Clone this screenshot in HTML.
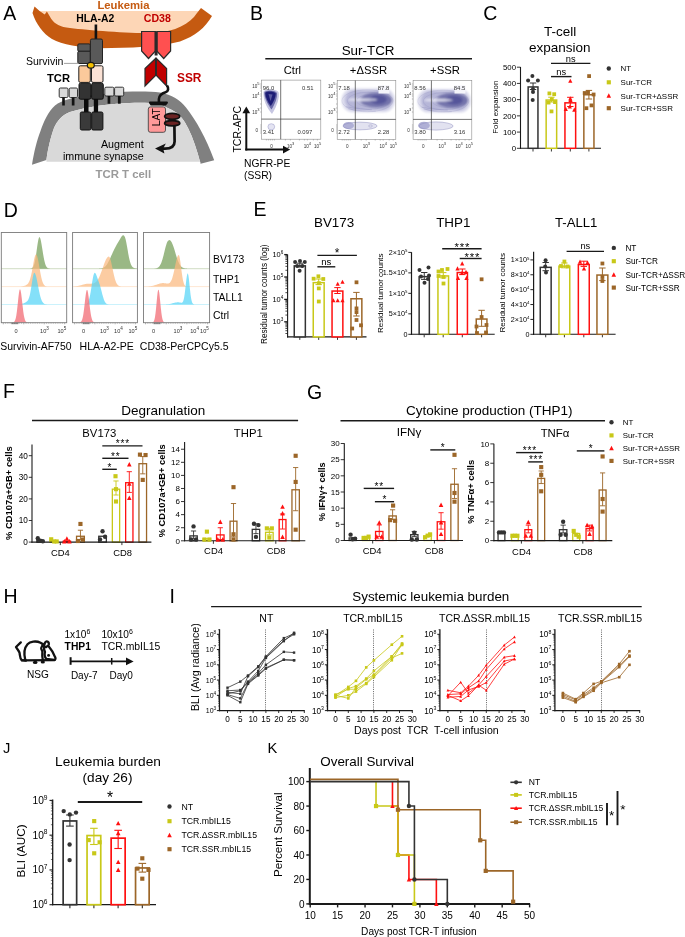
<!DOCTYPE html>
<html><head><meta charset="utf-8"><style>
html,body{margin:0;padding:0;background:#fff;overflow:hidden;width:685px;height:937px;}
svg{display:block;will-change:transform;}
text{font-family:"Liberation Sans", sans-serif;}
</style></head><body>
<svg width="685" height="937" viewBox="0 0 685 937" font-family='"Liberation Sans", sans-serif'>
<rect width="685" height="937" fill="#ffffff"/>
<text x="3.30" y="19.60" font-size="19.5">A</text>
<path d="M 40 11 L 199 11 L 192 30 L 150 37 L 70 33 L 45 21 Z" fill="#fdd6b6"/>
<path d="M 34.5 6.6 L 39.6 11 L 44.7 14.6 L 46.9 11.4 L 51.3 19 C 55 24 60 27 70 28 C 90 30.5 130 33.5 155 33.2 C 175 31.5 190 24 197 13 L 201 8 L 212 16 C 205 28 195 36 180 41.5 C 160 46.5 130 48.2 100 48.2 C 80 47.6 62 44.5 52 39 C 43 33.5 36 24 32.5 13 Z" fill="#c55a11"/>
<text x="97.40" y="8.60" font-size="11.3" font-weight="bold" fill="#c55a11">Leukemia</text>
<path d="M 32 164.8 C 34 152 37 140 40.5 131 C 44 121 48 112 55 105.5 C 62 100 72 97.5 90 95.5 C 105 94 115 92 125 91.7 C 140 91.2 152 91.4 160 92.5 C 172 94.5 180 100 186 107.5 C 196 120 206 138 214.2 160.2 L 200.6 163.8 C 197 150 193 138 188 128 C 184 120 180 115 176 112.5 C 170 108.5 162 104.5 150 103 C 135 102 115 103.5 100 105.5 C 88 107.2 78 109.5 70 112 C 62 115 57 121 54 128 C 51 136 48 148 46.4 160 Z" fill="#808080"/>
<path d="M 46.4 160 C 48 148 51 136 54 128 C 57 121 62 115 70 112 C 78 109.5 88 107.2 100 105.5 C 115 103.5 135 102 150 103 C 162 104.5 170 108.5 176 112.5 C 180 115 184 120 188 128 C 193 138 197 150 200.6 163.8 L 200.6 161.8 L 46.4 161.8 Z" fill="#d9d9d9"/>
<text x="95.50" y="178.20" font-size="11.4" font-weight="bold" fill="#9a9a9a">TCR T cell</text>
<text x="143.70" y="147.60" font-size="10.7" text-anchor="end">Augment</text>
<text x="143.70" y="160.20" font-size="10.7" text-anchor="end">immune synapse</text>
<text x="76.20" y="21.90" font-size="10.4" font-weight="bold">HLA-A2</text>
<rect x="94.60" y="24.50" width="2.60" height="15.00" fill="#111"/>
<rect x="90.40" y="39.00" width="12.10" height="24.60" fill="#595959" stroke="#222" stroke-width="1" rx="1.5"/>
<rect x="77.80" y="43.90" width="12.40" height="7.40" fill="#595959" stroke="#222" stroke-width="1" rx="1.2"/>
<rect x="77.80" y="51.30" width="12.40" height="12.20" fill="#595959" stroke="#222" stroke-width="1" rx="1.2"/>
<text x="26.00" y="65.30" font-size="10.5">Survivin</text>
<line x1="64.00" y1="63.40" x2="79.00" y2="63.40" stroke="#888" stroke-width="0.8"/>
<rect x="78.80" y="65.80" width="11.50" height="16.60" fill="#fbc99b" stroke="#222" stroke-width="1" rx="1.5"/>
<rect x="91.50" y="65.80" width="11.50" height="16.60" fill="#fbe2d5" stroke="#222" stroke-width="1" rx="1.5"/>
<ellipse cx="90.8" cy="65.3" rx="3.5" ry="2.9" fill="#f5c000" stroke="#1a1a1a" stroke-width="1.2"/>
<text x="47.00" y="81.60" font-size="11.2" font-weight="bold">TCR</text>
<rect x="79.00" y="83.20" width="11.70" height="16.00" fill="#333" stroke="#111" stroke-width="1" rx="1.5"/>
<rect x="91.60" y="83.20" width="11.70" height="16.00" fill="#333" stroke="#111" stroke-width="1" rx="1.5"/>
<rect x="84.00" y="99.00" width="4.50" height="13.50" fill="#0a0a0a"/>
<rect x="93.80" y="99.00" width="4.30" height="13.50" fill="#0a0a0a"/>
<rect x="80.30" y="112.00" width="10.60" height="18.00" fill="#3a3a3a" stroke="#111" stroke-width="1" rx="1.5"/>
<rect x="91.70" y="112.00" width="11.20" height="18.00" fill="#3a3a3a" stroke="#111" stroke-width="1" rx="1.5"/>
<rect x="59.20" y="88.00" width="8.80" height="9.50" fill="#d9d9d9" stroke="#222" stroke-width="0.9" rx="1.2"/>
<rect x="62.20" y="97.50" width="2.60" height="8.00" fill="#111"/>
<rect x="69.20" y="88.00" width="8.30" height="9.50" fill="#d9d9d9" stroke="#222" stroke-width="0.9" rx="1.2"/>
<rect x="71.80" y="97.50" width="2.70" height="8.00" fill="#111"/>
<rect x="104.80" y="87.20" width="9.10" height="8.80" fill="#d9d9d9" stroke="#222" stroke-width="0.9" rx="1.2"/>
<rect x="107.60" y="96.00" width="2.70" height="7.70" fill="#111"/>
<rect x="114.60" y="87.20" width="9.10" height="8.80" fill="#d9d9d9" stroke="#222" stroke-width="0.9" rx="1.2"/>
<rect x="117.90" y="96.00" width="2.80" height="7.70" fill="#111"/>
<text x="143.80" y="21.90" font-size="10.6" font-weight="bold" fill="#c00000">CD38</text>
<path d="M 141.6 31.5 L 155.4 31.5 L 155.4 51 L 148.5 58.5 L 141.6 51 Z" fill="#ff5050" stroke="#2a2a2a" stroke-width="1.2"/>
<path d="M 156.8 31.5 L 170.6 31.5 L 170.6 51 L 163.7 58.5 L 156.8 51 Z" fill="#ff5050" stroke="#2a2a2a" stroke-width="1.2"/>
<rect x="154.60" y="31.50" width="3.00" height="24.00" fill="#2a2a2a"/>
<path d="M 145 86 L 145 68.5 L 155.6 58.5 L 155.6 75.5 Z" fill="#c00000" stroke="#2a2a2a" stroke-width="1.2"/>
<path d="M 166.6 86 L 166.6 68.5 L 156.4 58.5 L 156.4 75.5 Z" fill="#c00000" stroke="#2a2a2a" stroke-width="1.2"/>
<text x="177.00" y="82.20" font-size="11.9" font-weight="bold" fill="#c00000">SSR</text>
<path d="M 167.0 85.5 C 168.8 88 168.6 91.2 165.5 92.3 C 161.5 93.5 159.2 95.5 158.9 99 L 158.9 102.5" fill="none" stroke="#111" stroke-width="2.6"/>
<rect x="148.30" y="106.90" width="17.20" height="25.40" fill="#ff9999" stroke="#444" stroke-width="0.9" rx="2.2"/>
<path d="M 149.6 101.4 L 167.2 101.4 C 168.2 101.6 168.2 103.6 167.2 103.8 L 166 105.4 L 150.6 105.4 L 149.6 103.8 C 148.8 103.4 148.8 101.8 149.6 101.4 Z" fill="#111"/>
<text x="159.60" y="117.20" font-size="10.3" text-anchor="middle" transform="rotate(-90 159.60 117.20)">LAT</text>
<ellipse cx="172.2" cy="123.2" rx="7.6" ry="2.6" fill="#6b2323" stroke="#111" stroke-width="1.7"/>
<ellipse cx="172.2" cy="116.3" rx="7.6" ry="3.0" fill="#6b2323" stroke="#111" stroke-width="1.7"/>
<path d="M 174.4 126 L 174.6 141.5 C 174.6 146.5 171 148.6 165 148.6 L 161 148.6" fill="none" stroke="#111" stroke-width="2.7"/>
<path d="M 155.0 148.4 L 165.8 143.6 L 163.2 148.6 L 164.4 153.6 Z" fill="#111"/>
<defs>
<filter id="bl1" x="-20%" y="-30%" width="140%" height="160%"><feGaussianBlur stdDeviation="1.1"/></filter>
<filter id="bl2" x="-20%" y="-30%" width="140%" height="160%"><feGaussianBlur stdDeviation="0.6"/></filter>
</defs>
<text x="250.00" y="19.60" font-size="19.5">B</text>
<text x="368.10" y="54.60" font-size="13.4" text-anchor="middle">Sur-TCR</text>
<line x1="265.30" y1="58.70" x2="472.00" y2="58.70" stroke="#1a1a1a" stroke-width="1.4"/>
<text x="292.40" y="74.40" font-size="11.2" text-anchor="middle">Ctrl</text>
<text x="368.50" y="74.30" font-size="11.3" text-anchor="middle">+ΔSSR</text>
<text x="445.00" y="74.30" font-size="11.3" text-anchor="middle">+SSR</text>
<g filter="url(#bl2)">
<path d="M 263.5 92 C 264 88.5 275 88 278.5 92 C 280 97 277 106 272 114 C 266.5 108 263 99 263.5 92 Z" fill="#c6c6e2"/>
<path d="M 264.3 92.5 C 265 90 274 89.5 277 93 C 277.5 97.5 275 104 271.5 109.5 C 267.5 104 264.3 98 264.3 92.5 Z" fill="#6a6aa8"/>
<path d="M 265.2 93 C 266 91 273.5 90.8 275.8 93.5 C 275.8 97.5 273.5 102 270.8 106 C 267.5 101.5 265.2 97 265.2 93 Z" fill="#1f1f76"/>
<path d="M 268.5 94 L 270.5 101 L 272.5 94.5 Z" fill="#5a5aa0"/>
<ellipse cx="271.3" cy="126.8" rx="3.4" ry="3.1" fill="#e4e4f2"/>
</g>
<ellipse cx="271.3" cy="126.8" rx="3.4" ry="3.1" fill="none" stroke="#8080b8" stroke-width="0.4"/>
<text x="259.60" y="87.90" font-size="4.6" text-anchor="end" fill="#333">10<tspan font-size="4.00" dy="-2.60">5</tspan></text>
<text x="259.60" y="98.00" font-size="4.6" text-anchor="end" fill="#333">10<tspan font-size="4.00" dy="-2.60">4</tspan></text>
<text x="259.60" y="113.90" font-size="4.6" text-anchor="end" fill="#333">10<tspan font-size="4.00" dy="-2.60">3</tspan></text>
<text x="258.10" y="132.20" font-size="4.6" text-anchor="end" fill="#333">0</text>
<text x="271.60" y="147.50" font-size="4.6" text-anchor="middle" fill="#333">0</text>
<text x="290.60" y="147.50" font-size="4.6" text-anchor="middle" fill="#333">10<tspan font-size="4.00" dy="-2.60">3</tspan></text>
<text x="307.40" y="147.50" font-size="4.6" text-anchor="middle" fill="#333">10<tspan font-size="4.00" dy="-2.60">4</tspan></text>
<text x="317.60" y="147.50" font-size="4.6" text-anchor="middle" fill="#333">10<tspan font-size="4.00" dy="-2.60">5</tspan></text>
<line x1="260.20" y1="84.00" x2="261.40" y2="84.00" stroke="#555" stroke-width="0.4"/>
<line x1="260.20" y1="86.00" x2="261.40" y2="86.00" stroke="#555" stroke-width="0.4"/>
<line x1="260.20" y1="88.00" x2="261.40" y2="88.00" stroke="#555" stroke-width="0.4"/>
<line x1="260.20" y1="91.00" x2="261.40" y2="91.00" stroke="#555" stroke-width="0.4"/>
<line x1="260.20" y1="94.00" x2="261.40" y2="94.00" stroke="#555" stroke-width="0.4"/>
<line x1="260.20" y1="96.00" x2="261.40" y2="96.00" stroke="#555" stroke-width="0.4"/>
<line x1="260.20" y1="99.00" x2="261.40" y2="99.00" stroke="#555" stroke-width="0.4"/>
<line x1="260.20" y1="104.00" x2="261.40" y2="104.00" stroke="#555" stroke-width="0.4"/>
<line x1="260.20" y1="108.00" x2="261.40" y2="108.00" stroke="#555" stroke-width="0.4"/>
<line x1="260.20" y1="112.00" x2="261.40" y2="112.00" stroke="#555" stroke-width="0.4"/>
<line x1="260.20" y1="125.00" x2="261.40" y2="125.00" stroke="#555" stroke-width="0.4"/>
<line x1="260.20" y1="127.00" x2="261.40" y2="127.00" stroke="#555" stroke-width="0.4"/>
<line x1="260.20" y1="129.00" x2="261.40" y2="129.00" stroke="#555" stroke-width="0.4"/>
<line x1="260.20" y1="131.00" x2="261.40" y2="131.00" stroke="#555" stroke-width="0.4"/>
<line x1="260.20" y1="133.00" x2="261.40" y2="133.00" stroke="#555" stroke-width="0.4"/>
<line x1="266.40" y1="139.20" x2="266.40" y2="140.40" stroke="#555" stroke-width="0.4"/>
<line x1="268.40" y1="139.20" x2="268.40" y2="140.40" stroke="#555" stroke-width="0.4"/>
<line x1="270.40" y1="139.20" x2="270.40" y2="140.40" stroke="#555" stroke-width="0.4"/>
<line x1="272.40" y1="139.20" x2="272.40" y2="140.40" stroke="#555" stroke-width="0.4"/>
<line x1="274.40" y1="139.20" x2="274.40" y2="140.40" stroke="#555" stroke-width="0.4"/>
<line x1="285.40" y1="139.20" x2="285.40" y2="140.40" stroke="#555" stroke-width="0.4"/>
<line x1="290.40" y1="139.20" x2="290.40" y2="140.40" stroke="#555" stroke-width="0.4"/>
<line x1="299.40" y1="139.20" x2="299.40" y2="140.40" stroke="#555" stroke-width="0.4"/>
<line x1="304.40" y1="139.20" x2="304.40" y2="140.40" stroke="#555" stroke-width="0.4"/>
<line x1="307.40" y1="139.20" x2="307.40" y2="140.40" stroke="#555" stroke-width="0.4"/>
<line x1="313.40" y1="139.20" x2="313.40" y2="140.40" stroke="#555" stroke-width="0.4"/>
<line x1="317.40" y1="139.20" x2="317.40" y2="140.40" stroke="#555" stroke-width="0.4"/>
<rect x="261.40" y="80.10" width="59.40" height="59.10" fill="none" stroke="#8a8a8a" stroke-width="0.6"/>
<line x1="280.70" y1="80.10" x2="280.70" y2="139.20" stroke="#3a3a3a" stroke-width="0.7"/>
<line x1="261.40" y1="119.10" x2="320.80" y2="119.10" stroke="#3a3a3a" stroke-width="0.7"/>
<text x="262.80" y="89.90" font-size="5.9" fill="#333">96.0</text>
<text x="313.50" y="89.90" font-size="5.9" text-anchor="end" fill="#333">0.51</text>
<text x="262.80" y="134.00" font-size="5.9" fill="#333">3.41</text>
<text x="312.20" y="134.00" font-size="5.9" text-anchor="end" fill="#333">0.097</text>
<g filter="url(#bl1)">
<rect x="341.8" y="88.6" width="53" height="23.6" rx="11" fill="#dadaec"/>
<rect x="345.3" y="90.6" width="46.5" height="19.4" rx="9" fill="#b6b6d8"/>
<ellipse cx="376.4" cy="100.0" rx="16" ry="7.6" fill="#7474ac"/>
<ellipse cx="378.4" cy="99.6" rx="8.5" ry="4.6" fill="#54549a"/>
<ellipse cx="362.4" cy="99.7" rx="15" ry="1.3" fill="#f2f2fa" opacity="0.85"/>
</g>
<ellipse cx="367.4" cy="100.8" rx="25.5" ry="11" fill="none" stroke="#7070aa" stroke-width="0.35" opacity="0.45"/>
<ellipse cx="368.4" cy="100.8" rx="21" ry="8.6" fill="none" stroke="#7070aa" stroke-width="0.35" opacity="0.45"/>
<ellipse cx="371.4" cy="100.8" rx="15" ry="6.2" fill="none" stroke="#7070aa" stroke-width="0.35" opacity="0.35"/>
<path d="M 345.8 106.7 C 353.8 108.7 363.8 109.2 371.8 109.7" fill="none" stroke="#7070aa" stroke-width="0.4" opacity="0.6"/>
<path d="M 347.8 108.7 C 355.8 110.7 365.8 111.2 375.8 111.2" fill="none" stroke="#7070aa" stroke-width="0.4" opacity="0.5"/>
<g filter="url(#bl2)">
<ellipse cx="360" cy="126" rx="17.5" ry="4.2" fill="#e2e2f0"/>
<ellipse cx="348.5" cy="125.5" rx="5.5" ry="3.6" fill="#b0b0d6"/>
</g>
<ellipse cx="360" cy="126" rx="17" ry="3.8" fill="none" stroke="#8080b8" stroke-width="0.35"/>
<ellipse cx="370.5" cy="126" rx="2" ry="1.1" fill="none" stroke="#8080b8" stroke-width="0.35"/>
<text x="335.40" y="87.90" font-size="4.6" text-anchor="end" fill="#333">10<tspan font-size="4.00" dy="-2.60">5</tspan></text>
<text x="335.40" y="98.00" font-size="4.6" text-anchor="end" fill="#333">10<tspan font-size="4.00" dy="-2.60">4</tspan></text>
<text x="335.40" y="113.90" font-size="4.6" text-anchor="end" fill="#333">10<tspan font-size="4.00" dy="-2.60">3</tspan></text>
<text x="333.90" y="132.20" font-size="4.6" text-anchor="end" fill="#333">0</text>
<text x="347.40" y="147.50" font-size="4.6" text-anchor="middle" fill="#333">0</text>
<text x="366.40" y="147.50" font-size="4.6" text-anchor="middle" fill="#333">10<tspan font-size="4.00" dy="-2.60">3</tspan></text>
<text x="383.20" y="147.50" font-size="4.6" text-anchor="middle" fill="#333">10<tspan font-size="4.00" dy="-2.60">4</tspan></text>
<text x="393.40" y="147.50" font-size="4.6" text-anchor="middle" fill="#333">10<tspan font-size="4.00" dy="-2.60">5</tspan></text>
<line x1="336.00" y1="84.00" x2="337.20" y2="84.00" stroke="#555" stroke-width="0.4"/>
<line x1="336.00" y1="86.00" x2="337.20" y2="86.00" stroke="#555" stroke-width="0.4"/>
<line x1="336.00" y1="88.00" x2="337.20" y2="88.00" stroke="#555" stroke-width="0.4"/>
<line x1="336.00" y1="91.00" x2="337.20" y2="91.00" stroke="#555" stroke-width="0.4"/>
<line x1="336.00" y1="94.00" x2="337.20" y2="94.00" stroke="#555" stroke-width="0.4"/>
<line x1="336.00" y1="96.00" x2="337.20" y2="96.00" stroke="#555" stroke-width="0.4"/>
<line x1="336.00" y1="99.00" x2="337.20" y2="99.00" stroke="#555" stroke-width="0.4"/>
<line x1="336.00" y1="104.00" x2="337.20" y2="104.00" stroke="#555" stroke-width="0.4"/>
<line x1="336.00" y1="108.00" x2="337.20" y2="108.00" stroke="#555" stroke-width="0.4"/>
<line x1="336.00" y1="112.00" x2="337.20" y2="112.00" stroke="#555" stroke-width="0.4"/>
<line x1="336.00" y1="125.00" x2="337.20" y2="125.00" stroke="#555" stroke-width="0.4"/>
<line x1="336.00" y1="127.00" x2="337.20" y2="127.00" stroke="#555" stroke-width="0.4"/>
<line x1="336.00" y1="129.00" x2="337.20" y2="129.00" stroke="#555" stroke-width="0.4"/>
<line x1="336.00" y1="131.00" x2="337.20" y2="131.00" stroke="#555" stroke-width="0.4"/>
<line x1="336.00" y1="133.00" x2="337.20" y2="133.00" stroke="#555" stroke-width="0.4"/>
<line x1="342.20" y1="139.30" x2="342.20" y2="140.50" stroke="#555" stroke-width="0.4"/>
<line x1="344.20" y1="139.30" x2="344.20" y2="140.50" stroke="#555" stroke-width="0.4"/>
<line x1="346.20" y1="139.30" x2="346.20" y2="140.50" stroke="#555" stroke-width="0.4"/>
<line x1="348.20" y1="139.30" x2="348.20" y2="140.50" stroke="#555" stroke-width="0.4"/>
<line x1="350.20" y1="139.30" x2="350.20" y2="140.50" stroke="#555" stroke-width="0.4"/>
<line x1="361.20" y1="139.30" x2="361.20" y2="140.50" stroke="#555" stroke-width="0.4"/>
<line x1="366.20" y1="139.30" x2="366.20" y2="140.50" stroke="#555" stroke-width="0.4"/>
<line x1="375.20" y1="139.30" x2="375.20" y2="140.50" stroke="#555" stroke-width="0.4"/>
<line x1="380.20" y1="139.30" x2="380.20" y2="140.50" stroke="#555" stroke-width="0.4"/>
<line x1="383.20" y1="139.30" x2="383.20" y2="140.50" stroke="#555" stroke-width="0.4"/>
<line x1="389.20" y1="139.30" x2="389.20" y2="140.50" stroke="#555" stroke-width="0.4"/>
<line x1="393.20" y1="139.30" x2="393.20" y2="140.50" stroke="#555" stroke-width="0.4"/>
<rect x="337.20" y="80.50" width="58.60" height="58.80" fill="none" stroke="#8a8a8a" stroke-width="0.6"/>
<line x1="355.30" y1="80.50" x2="355.30" y2="139.30" stroke="#3a3a3a" stroke-width="0.7"/>
<line x1="337.20" y1="119.40" x2="395.80" y2="119.40" stroke="#3a3a3a" stroke-width="0.7"/>
<rect x="378.50" y="85.50" width="11.00" height="8.00" fill="#f4f4fa"/>
<text x="338.30" y="89.70" font-size="5.9" fill="#333">7.18</text>
<text x="389.30" y="89.70" font-size="5.9" text-anchor="end" fill="#333">87.8</text>
<text x="338.30" y="133.60" font-size="5.9" fill="#333">2.72</text>
<text x="389.30" y="133.60" font-size="5.9" text-anchor="end" fill="#333">2.28</text>
<g filter="url(#bl1)">
<rect x="417.7" y="89.0" width="53" height="23.6" rx="11" fill="#dadaec"/>
<rect x="421.2" y="91.0" width="46.5" height="19.4" rx="9" fill="#b6b6d8"/>
<ellipse cx="452.3" cy="100.4" rx="16" ry="7.6" fill="#7474ac"/>
<ellipse cx="454.3" cy="100.0" rx="8.5" ry="4.6" fill="#54549a"/>
<ellipse cx="438.3" cy="100.1" rx="15" ry="1.3" fill="#f2f2fa" opacity="0.85"/>
</g>
<ellipse cx="443.3" cy="101.2" rx="25.5" ry="11" fill="none" stroke="#7070aa" stroke-width="0.35" opacity="0.45"/>
<ellipse cx="444.3" cy="101.2" rx="21" ry="8.6" fill="none" stroke="#7070aa" stroke-width="0.35" opacity="0.45"/>
<ellipse cx="447.3" cy="101.2" rx="15" ry="6.2" fill="none" stroke="#7070aa" stroke-width="0.35" opacity="0.35"/>
<path d="M 421.7 107.1 C 429.7 109.1 439.7 109.6 447.7 110.1" fill="none" stroke="#7070aa" stroke-width="0.4" opacity="0.6"/>
<path d="M 423.7 109.1 C 431.7 111.1 441.7 111.6 451.7 111.6" fill="none" stroke="#7070aa" stroke-width="0.4" opacity="0.5"/>
<g filter="url(#bl2)">
<ellipse cx="436" cy="126" rx="17.5" ry="4.4" fill="#e2e2f0"/>
<ellipse cx="424" cy="125.5" rx="5.8" ry="3.8" fill="#b0b0d6"/>
</g>
<ellipse cx="436" cy="126" rx="17" ry="4" fill="none" stroke="#8080b8" stroke-width="0.35"/>
<text x="411.30" y="87.90" font-size="4.6" text-anchor="end" fill="#333">10<tspan font-size="4.00" dy="-2.60">5</tspan></text>
<text x="411.30" y="98.00" font-size="4.6" text-anchor="end" fill="#333">10<tspan font-size="4.00" dy="-2.60">4</tspan></text>
<text x="411.30" y="113.90" font-size="4.6" text-anchor="end" fill="#333">10<tspan font-size="4.00" dy="-2.60">3</tspan></text>
<text x="409.80" y="132.20" font-size="4.6" text-anchor="end" fill="#333">0</text>
<text x="423.30" y="147.50" font-size="4.6" text-anchor="middle" fill="#333">0</text>
<text x="442.30" y="147.50" font-size="4.6" text-anchor="middle" fill="#333">10<tspan font-size="4.00" dy="-2.60">3</tspan></text>
<text x="459.10" y="147.50" font-size="4.6" text-anchor="middle" fill="#333">10<tspan font-size="4.00" dy="-2.60">4</tspan></text>
<text x="469.30" y="147.50" font-size="4.6" text-anchor="middle" fill="#333">10<tspan font-size="4.00" dy="-2.60">5</tspan></text>
<line x1="411.90" y1="84.00" x2="413.10" y2="84.00" stroke="#555" stroke-width="0.4"/>
<line x1="411.90" y1="86.00" x2="413.10" y2="86.00" stroke="#555" stroke-width="0.4"/>
<line x1="411.90" y1="88.00" x2="413.10" y2="88.00" stroke="#555" stroke-width="0.4"/>
<line x1="411.90" y1="91.00" x2="413.10" y2="91.00" stroke="#555" stroke-width="0.4"/>
<line x1="411.90" y1="94.00" x2="413.10" y2="94.00" stroke="#555" stroke-width="0.4"/>
<line x1="411.90" y1="96.00" x2="413.10" y2="96.00" stroke="#555" stroke-width="0.4"/>
<line x1="411.90" y1="99.00" x2="413.10" y2="99.00" stroke="#555" stroke-width="0.4"/>
<line x1="411.90" y1="104.00" x2="413.10" y2="104.00" stroke="#555" stroke-width="0.4"/>
<line x1="411.90" y1="108.00" x2="413.10" y2="108.00" stroke="#555" stroke-width="0.4"/>
<line x1="411.90" y1="112.00" x2="413.10" y2="112.00" stroke="#555" stroke-width="0.4"/>
<line x1="411.90" y1="125.00" x2="413.10" y2="125.00" stroke="#555" stroke-width="0.4"/>
<line x1="411.90" y1="127.00" x2="413.10" y2="127.00" stroke="#555" stroke-width="0.4"/>
<line x1="411.90" y1="129.00" x2="413.10" y2="129.00" stroke="#555" stroke-width="0.4"/>
<line x1="411.90" y1="131.00" x2="413.10" y2="131.00" stroke="#555" stroke-width="0.4"/>
<line x1="411.90" y1="133.00" x2="413.10" y2="133.00" stroke="#555" stroke-width="0.4"/>
<line x1="418.10" y1="139.30" x2="418.10" y2="140.50" stroke="#555" stroke-width="0.4"/>
<line x1="420.10" y1="139.30" x2="420.10" y2="140.50" stroke="#555" stroke-width="0.4"/>
<line x1="422.10" y1="139.30" x2="422.10" y2="140.50" stroke="#555" stroke-width="0.4"/>
<line x1="424.10" y1="139.30" x2="424.10" y2="140.50" stroke="#555" stroke-width="0.4"/>
<line x1="426.10" y1="139.30" x2="426.10" y2="140.50" stroke="#555" stroke-width="0.4"/>
<line x1="437.10" y1="139.30" x2="437.10" y2="140.50" stroke="#555" stroke-width="0.4"/>
<line x1="442.10" y1="139.30" x2="442.10" y2="140.50" stroke="#555" stroke-width="0.4"/>
<line x1="451.10" y1="139.30" x2="451.10" y2="140.50" stroke="#555" stroke-width="0.4"/>
<line x1="456.10" y1="139.30" x2="456.10" y2="140.50" stroke="#555" stroke-width="0.4"/>
<line x1="459.10" y1="139.30" x2="459.10" y2="140.50" stroke="#555" stroke-width="0.4"/>
<line x1="465.10" y1="139.30" x2="465.10" y2="140.50" stroke="#555" stroke-width="0.4"/>
<line x1="469.10" y1="139.30" x2="469.10" y2="140.50" stroke="#555" stroke-width="0.4"/>
<rect x="413.10" y="80.50" width="58.70" height="58.80" fill="none" stroke="#8a8a8a" stroke-width="0.6"/>
<line x1="431.40" y1="80.50" x2="431.40" y2="139.30" stroke="#3a3a3a" stroke-width="0.7"/>
<line x1="413.10" y1="119.40" x2="471.80" y2="119.40" stroke="#3a3a3a" stroke-width="0.7"/>
<rect x="454.50" y="85.50" width="11.00" height="8.00" fill="#f4f4fa"/>
<text x="414.30" y="89.70" font-size="5.9" fill="#333">8.56</text>
<text x="465.30" y="89.70" font-size="5.9" text-anchor="end" fill="#333">84.5</text>
<text x="414.30" y="133.60" font-size="5.9" fill="#333">3.80</text>
<text x="465.30" y="133.60" font-size="5.9" text-anchor="end" fill="#333">3.16</text>
<line x1="246.30" y1="112.00" x2="246.30" y2="150.50" stroke="#111" stroke-width="2"/>
<line x1="245.30" y1="149.60" x2="284.00" y2="149.60" stroke="#111" stroke-width="2"/>
<path d="M 242.4 113.2 L 246.3 106.4 L 250.2 113.2 Z" fill="#111"/>
<path d="M 283 145.8 L 290.2 149.6 L 283 153.4 Z" fill="#111"/>
<text x="241.40" y="152.60" font-size="10.5" transform="rotate(-90 241.40 152.60)">TCR-APC</text>
<text x="244.00" y="166.90" font-size="10.3">NGFR-PE</text>
<text x="244.00" y="178.80" font-size="10.3">(SSR)</text>
<text x="483.30" y="19.60" font-size="19.5">C</text>
<text x="560.20" y="35.90" font-size="13.5" text-anchor="middle">T-cell</text>
<text x="559.70" y="51.70" font-size="13.5" text-anchor="middle">expansion</text>
<line x1="520.50" y1="67.00" x2="520.50" y2="148.85" stroke="#1a1a1a" stroke-width="1.1"/>
<line x1="516.90" y1="148.30" x2="520.50" y2="148.30" stroke="#1a1a1a" stroke-width="0.8800000000000001"/>
<text x="516.00" y="151.03" font-size="7.8" text-anchor="end">0</text>
<line x1="516.90" y1="132.08" x2="520.50" y2="132.08" stroke="#1a1a1a" stroke-width="0.8800000000000001"/>
<text x="516.00" y="134.81" font-size="7.8" text-anchor="end">100</text>
<line x1="516.90" y1="115.86" x2="520.50" y2="115.86" stroke="#1a1a1a" stroke-width="0.8800000000000001"/>
<text x="516.00" y="118.59" font-size="7.8" text-anchor="end">200</text>
<line x1="516.90" y1="99.64" x2="520.50" y2="99.64" stroke="#1a1a1a" stroke-width="0.8800000000000001"/>
<text x="516.00" y="102.37" font-size="7.8" text-anchor="end">300</text>
<line x1="516.90" y1="83.42" x2="520.50" y2="83.42" stroke="#1a1a1a" stroke-width="0.8800000000000001"/>
<text x="516.00" y="86.15" font-size="7.8" text-anchor="end">400</text>
<line x1="516.90" y1="67.20" x2="520.50" y2="67.20" stroke="#1a1a1a" stroke-width="0.8800000000000001"/>
<text x="516.00" y="69.93" font-size="7.8" text-anchor="end">500</text>
<line x1="519.95" y1="148.30" x2="601.00" y2="148.30" stroke="#1a1a1a" stroke-width="1.1"/>
<line x1="533.00" y1="148.30" x2="533.00" y2="151.50" stroke="#1a1a1a" stroke-width="0.8800000000000001"/>
<line x1="551.40" y1="148.30" x2="551.40" y2="151.50" stroke="#1a1a1a" stroke-width="0.8800000000000001"/>
<line x1="570.30" y1="148.30" x2="570.30" y2="151.50" stroke="#1a1a1a" stroke-width="0.8800000000000001"/>
<line x1="588.90" y1="148.30" x2="588.90" y2="151.50" stroke="#1a1a1a" stroke-width="0.8800000000000001"/>
<rect x="528.15" y="86.95" width="9.80" height="61.35" fill="#ffffff" stroke="#333333" stroke-width="1.5"/>
<rect x="546.15" y="100.05" width="10.50" height="48.25" fill="#ffffff" stroke="#c8c818" stroke-width="1.5"/>
<rect x="564.95" y="102.85" width="10.70" height="45.45" fill="#ffffff" stroke="#ff1010" stroke-width="1.5"/>
<rect x="583.85" y="94.75" width="10.10" height="53.55" fill="#ffffff" stroke="#9c6628" stroke-width="1.5"/>
<circle cx="532.40" cy="76.10" r="1.9949999999999999" fill="#333333"/>
<circle cx="528.10" cy="80.60" r="1.9949999999999999" fill="#333333"/>
<circle cx="537.90" cy="80.60" r="1.9949999999999999" fill="#333333"/>
<circle cx="533.00" cy="88.90" r="1.9949999999999999" fill="#333333"/>
<circle cx="533.00" cy="92.10" r="1.9949999999999999" fill="#333333"/>
<circle cx="532.70" cy="100.10" r="1.9949999999999999" fill="#333333"/>
<line x1="533.05" y1="89.50" x2="533.05" y2="83.00" stroke="#333333" stroke-width="1.0"/>
<line x1="529.85" y1="83.00" x2="536.25" y2="83.00" stroke="#333333" stroke-width="1.0"/>
<line x1="529.85" y1="89.50" x2="536.25" y2="89.50" stroke="#333333" stroke-width="1.0"/>
<rect x="547.51" y="91.51" width="3.78" height="3.78" fill="#c8c818"/>
<rect x="552.31" y="92.31" width="3.78" height="3.78" fill="#c8c818"/>
<rect x="549.91" y="97.41" width="3.78" height="3.78" fill="#c8c818"/>
<rect x="546.71" y="100.71" width="3.78" height="3.78" fill="#c8c818"/>
<rect x="553.11" y="100.21" width="3.78" height="3.78" fill="#c8c818"/>
<rect x="549.61" y="109.51" width="3.78" height="3.78" fill="#c8c818"/>
<line x1="551.40" y1="102.00" x2="551.40" y2="97.20" stroke="#c8c818" stroke-width="1.0"/>
<line x1="548.20" y1="97.20" x2="554.60" y2="97.20" stroke="#c8c818" stroke-width="1.0"/>
<line x1="548.20" y1="102.00" x2="554.60" y2="102.00" stroke="#c8c818" stroke-width="1.0"/>
<polygon points="570.30,78.71 568.20,82.79 572.40,82.79" fill="#ff1010"/>
<polygon points="570.30,96.31 568.20,100.39 572.40,100.39" fill="#ff1010"/>
<polygon points="565.80,106.81 563.70,110.89 567.90,110.89" fill="#ff1010"/>
<polygon points="574.30,107.61 572.20,111.69 576.40,111.69" fill="#ff1010"/>
<polygon points="569.80,104.41 567.70,108.49 571.90,108.49" fill="#ff1010"/>
<polygon points="570.50,97.81 568.40,101.89 572.60,101.89" fill="#ff1010"/>
<line x1="570.30" y1="106.50" x2="570.30" y2="97.30" stroke="#ff1010" stroke-width="1.0"/>
<line x1="567.10" y1="97.30" x2="573.50" y2="97.30" stroke="#ff1010" stroke-width="1.0"/>
<line x1="567.10" y1="106.50" x2="573.50" y2="106.50" stroke="#ff1010" stroke-width="1.0"/>
<rect x="587.21" y="74.21" width="3.78" height="3.78" fill="#9c6628"/>
<rect x="586.11" y="90.21" width="3.78" height="3.78" fill="#9c6628"/>
<rect x="591.71" y="92.61" width="3.78" height="3.78" fill="#9c6628"/>
<rect x="582.81" y="91.11" width="3.78" height="3.78" fill="#9c6628"/>
<rect x="589.61" y="103.51" width="3.78" height="3.78" fill="#9c6628"/>
<rect x="584.51" y="106.31" width="3.78" height="3.78" fill="#9c6628"/>
<line x1="588.90" y1="99.00" x2="588.90" y2="90.40" stroke="#9c6628" stroke-width="1.0"/>
<line x1="585.70" y1="90.40" x2="592.10" y2="90.40" stroke="#9c6628" stroke-width="1.0"/>
<line x1="585.70" y1="99.00" x2="592.10" y2="99.00" stroke="#9c6628" stroke-width="1.0"/>
<line x1="551.00" y1="63.40" x2="590.40" y2="63.40" stroke="#1a1a1a" stroke-width="1.4"/>
<text x="570.70" y="61.60" font-size="9.3" text-anchor="middle">ns</text>
<line x1="551.00" y1="76.60" x2="571.50" y2="76.60" stroke="#1a1a1a" stroke-width="1.4"/>
<text x="561.25" y="74.80" font-size="9.3" text-anchor="middle">ns</text>
<text x="498.50" y="107.20" font-size="7.8" text-anchor="middle" transform="rotate(-90 498.50 107.20)">Fold expansion</text>
<circle cx="608.80" cy="68.50" r="2.1849999999999996" fill="#333333"/>
<text x="620.60" y="71.36" font-size="7.95">NT</text>
<rect x="606.73" y="80.23" width="4.14" height="4.14" fill="#c8c818"/>
<text x="620.60" y="85.16" font-size="7.95">Sur-TCR</text>
<polygon points="608.80,93.33 606.50,97.77 611.10,97.77" fill="#ff1010"/>
<text x="620.60" y="98.56" font-size="7.95">Sur-TCR+ΔSSR</text>
<rect x="606.73" y="106.13" width="4.14" height="4.14" fill="#9c6628"/>
<text x="620.60" y="111.06" font-size="7.95">Sur-TCR+SSR</text>
<text x="3.70" y="216.60" font-size="19.5">D</text>
<line x1="1.30" y1="268.70" x2="66.70" y2="268.70" stroke="#bccdaa" stroke-width="0.7"/>
<line x1="1.30" y1="286.60" x2="66.70" y2="286.60" stroke="#fddcc0" stroke-width="0.7"/>
<line x1="1.30" y1="304.50" x2="66.70" y2="304.50" stroke="#b5ecfb" stroke-width="0.7"/>
<path d="M 1.90 268.70 L 1.90 268.70 L 2.44 268.70 L 2.97 268.70 L 3.50 268.70 L 4.04 268.70 L 4.57 268.70 L 5.11 268.70 L 5.64 268.70 L 6.18 268.70 L 6.71 268.70 L 7.25 268.70 L 7.79 268.70 L 8.32 268.70 L 8.86 268.70 L 9.39 268.70 L 9.93 268.70 L 10.46 268.70 L 11.00 268.70 L 11.53 268.70 L 12.06 268.70 L 12.60 268.70 L 13.14 268.70 L 13.67 268.70 L 14.21 268.70 L 14.74 268.70 L 15.28 268.70 L 15.81 268.70 L 16.34 268.70 L 16.88 268.70 L 17.42 268.70 L 17.95 268.70 L 18.48 268.70 L 19.02 268.70 L 19.55 268.70 L 20.09 268.70 L 20.62 268.70 L 21.16 268.70 L 21.70 268.70 L 22.23 268.70 L 22.77 268.70 L 23.30 268.70 L 23.84 268.70 L 24.37 268.70 L 24.90 268.70 L 25.44 268.70 L 25.97 268.70 L 26.51 268.70 L 27.04 268.70 L 27.58 268.70 L 28.11 268.70 L 28.65 268.69 L 29.19 268.69 L 29.72 268.67 L 30.26 268.63 L 30.79 268.57 L 31.32 268.45 L 31.86 268.23 L 32.40 267.86 L 32.93 267.27 L 33.47 266.37 L 34.00 265.04 L 34.54 263.21 L 35.07 260.80 L 35.61 257.81 L 36.14 254.30 L 36.67 250.45 L 37.21 246.54 L 37.75 242.90 L 38.28 239.90 L 38.81 237.89 L 39.35 237.11 L 39.88 237.51 L 40.42 238.87 L 40.95 241.07 L 41.49 243.91 L 42.02 247.15 L 42.56 250.55 L 43.10 253.90 L 43.63 257.01 L 44.16 259.75 L 44.70 262.06 L 45.23 263.93 L 45.77 265.38 L 46.30 266.46 L 46.84 267.24 L 47.38 267.78 L 47.91 268.13 L 48.45 268.36 L 48.98 268.51 L 49.52 268.59 L 50.05 268.64 L 50.58 268.67 L 51.12 268.68 L 51.66 268.69 L 52.19 268.70 L 52.73 268.70 L 53.26 268.70 L 53.80 268.70 L 54.33 268.70 L 54.87 268.70 L 55.40 268.70 L 55.94 268.70 L 56.47 268.70 L 57.01 268.70 L 57.54 268.70 L 58.07 268.70 L 58.61 268.70 L 59.15 268.70 L 59.68 268.70 L 60.22 268.70 L 60.75 268.70 L 61.29 268.70 L 61.82 268.70 L 62.36 268.70 L 62.89 268.70 L 63.42 268.70 L 63.96 268.70 L 64.50 268.70 L 65.03 268.70 L 65.56 268.70 L 66.10 268.70 L 66.10 268.70 Z" fill="#84a86a" fill-opacity="0.82"/>
<path d="M 1.90 286.60 L 1.90 286.60 L 2.44 286.60 L 2.97 286.60 L 3.50 286.60 L 4.04 286.60 L 4.57 286.60 L 5.11 286.60 L 5.64 286.60 L 6.18 286.60 L 6.71 286.60 L 7.25 286.60 L 7.79 286.60 L 8.32 286.60 L 8.86 286.60 L 9.39 286.60 L 9.93 286.60 L 10.46 286.60 L 11.00 286.60 L 11.53 286.60 L 12.06 286.60 L 12.60 286.60 L 13.14 286.60 L 13.67 286.60 L 14.21 286.60 L 14.74 286.60 L 15.28 286.60 L 15.81 286.60 L 16.34 286.59 L 16.88 286.59 L 17.42 286.59 L 17.95 286.58 L 18.48 286.57 L 19.02 286.55 L 19.55 286.53 L 20.09 286.51 L 20.62 286.47 L 21.16 286.43 L 21.70 286.37 L 22.23 286.29 L 22.77 286.20 L 23.30 286.10 L 23.84 285.97 L 24.37 285.82 L 24.90 285.64 L 25.44 285.43 L 25.97 285.18 L 26.51 284.87 L 27.04 284.49 L 27.58 284.01 L 28.11 283.39 L 28.65 282.58 L 29.19 281.54 L 29.72 280.22 L 30.26 278.57 L 30.79 276.59 L 31.32 274.27 L 31.86 271.65 L 32.40 268.78 L 32.93 265.77 L 33.47 262.77 L 34.00 259.98 L 34.54 257.57 L 35.07 255.74 L 35.61 254.63 L 36.14 254.36 L 36.67 254.91 L 37.21 256.25 L 37.75 258.27 L 38.28 260.83 L 38.81 263.76 L 39.35 266.88 L 39.88 270.02 L 40.42 273.01 L 40.95 275.75 L 41.49 278.17 L 42.02 280.21 L 42.56 281.89 L 43.10 283.22 L 43.63 284.23 L 44.16 284.99 L 44.70 285.53 L 45.23 285.91 L 45.77 286.16 L 46.30 286.33 L 46.84 286.44 L 47.38 286.51 L 47.91 286.55 L 48.45 286.57 L 48.98 286.58 L 49.52 286.59 L 50.05 286.60 L 50.58 286.60 L 51.12 286.60 L 51.66 286.60 L 52.19 286.60 L 52.73 286.60 L 53.26 286.60 L 53.80 286.60 L 54.33 286.60 L 54.87 286.60 L 55.40 286.60 L 55.94 286.60 L 56.47 286.60 L 57.01 286.60 L 57.54 286.60 L 58.07 286.60 L 58.61 286.60 L 59.15 286.60 L 59.68 286.60 L 60.22 286.60 L 60.75 286.60 L 61.29 286.60 L 61.82 286.60 L 62.36 286.60 L 62.89 286.60 L 63.42 286.60 L 63.96 286.60 L 64.50 286.60 L 65.03 286.60 L 65.56 286.60 L 66.10 286.60 L 66.10 286.60 Z" fill="#fbb97e" fill-opacity="0.72"/>
<path d="M 1.90 304.50 L 1.90 304.50 L 2.44 304.50 L 2.97 304.50 L 3.50 304.50 L 4.04 304.50 L 4.57 304.50 L 5.11 304.50 L 5.64 304.50 L 6.18 304.50 L 6.71 304.50 L 7.25 304.50 L 7.79 304.50 L 8.32 304.50 L 8.86 304.50 L 9.39 304.50 L 9.93 304.50 L 10.46 304.50 L 11.00 304.50 L 11.53 304.50 L 12.06 304.50 L 12.60 304.50 L 13.14 304.50 L 13.67 304.50 L 14.21 304.50 L 14.74 304.49 L 15.28 304.49 L 15.81 304.49 L 16.34 304.48 L 16.88 304.47 L 17.42 304.45 L 17.95 304.43 L 18.48 304.41 L 19.02 304.37 L 19.55 304.32 L 20.09 304.25 L 20.62 304.16 L 21.16 304.06 L 21.70 303.93 L 22.23 303.78 L 22.77 303.61 L 23.30 303.41 L 23.84 303.19 L 24.37 302.95 L 24.90 302.68 L 25.44 302.40 L 25.97 302.08 L 26.51 301.72 L 27.04 301.27 L 27.58 300.68 L 28.11 299.89 L 28.65 298.81 L 29.19 297.33 L 29.72 295.41 L 30.26 293.00 L 30.79 290.09 L 31.32 286.78 L 31.86 283.24 L 32.40 279.74 L 32.93 276.64 L 33.47 274.26 L 34.00 272.92 L 34.54 272.77 L 35.07 273.45 L 35.61 274.73 L 36.14 276.56 L 36.67 278.83 L 37.21 281.42 L 37.75 284.20 L 38.28 287.02 L 38.81 289.78 L 39.35 292.37 L 39.88 294.72 L 40.42 296.79 L 40.95 298.55 L 41.49 300.01 L 42.02 301.19 L 42.56 302.11 L 43.10 302.81 L 43.63 303.33 L 44.16 303.71 L 44.70 303.98 L 45.23 304.16 L 45.77 304.29 L 46.30 304.37 L 46.84 304.42 L 47.38 304.45 L 47.91 304.47 L 48.45 304.48 L 48.98 304.49 L 49.52 304.50 L 50.05 304.50 L 50.58 304.50 L 51.12 304.50 L 51.66 304.50 L 52.19 304.50 L 52.73 304.50 L 53.26 304.50 L 53.80 304.50 L 54.33 304.50 L 54.87 304.50 L 55.40 304.50 L 55.94 304.50 L 56.47 304.50 L 57.01 304.50 L 57.54 304.50 L 58.07 304.50 L 58.61 304.50 L 59.15 304.50 L 59.68 304.50 L 60.22 304.50 L 60.75 304.50 L 61.29 304.50 L 61.82 304.50 L 62.36 304.50 L 62.89 304.50 L 63.42 304.50 L 63.96 304.50 L 64.50 304.50 L 65.03 304.50 L 65.56 304.50 L 66.10 304.50 L 66.10 304.50 Z" fill="#55d4f6" fill-opacity="0.72"/>
<path d="M 1.90 322.50 L 1.90 322.50 L 2.44 322.50 L 2.97 322.50 L 3.50 322.50 L 4.04 322.50 L 4.57 322.50 L 5.11 322.50 L 5.64 322.50 L 6.18 322.50 L 6.71 322.50 L 7.25 322.50 L 7.79 322.50 L 8.32 322.50 L 8.86 322.50 L 9.39 322.50 L 9.93 322.50 L 10.46 322.50 L 11.00 322.50 L 11.53 322.49 L 12.06 322.47 L 12.60 322.43 L 13.14 322.34 L 13.67 322.14 L 14.21 321.76 L 14.74 321.05 L 15.28 319.84 L 15.81 317.94 L 16.34 315.16 L 16.88 311.42 L 17.42 306.84 L 17.95 301.76 L 18.48 296.75 L 19.02 292.55 L 19.55 289.84 L 20.09 289.13 L 20.62 290.42 L 21.16 293.43 L 21.70 297.68 L 22.23 302.52 L 22.77 307.34 L 23.30 311.66 L 23.84 315.19 L 24.37 317.86 L 24.90 319.72 L 25.44 320.93 L 25.97 321.66 L 26.51 322.08 L 27.04 322.30 L 27.58 322.41 L 28.11 322.46 L 28.65 322.49 L 29.19 322.49 L 29.72 322.50 L 30.26 322.50 L 30.79 322.50 L 31.32 322.50 L 31.86 322.50 L 32.40 322.50 L 32.93 322.50 L 33.47 322.50 L 34.00 322.50 L 34.54 322.50 L 35.07 322.50 L 35.61 322.50 L 36.14 322.50 L 36.67 322.50 L 37.21 322.50 L 37.75 322.50 L 38.28 322.50 L 38.81 322.50 L 39.35 322.50 L 39.88 322.50 L 40.42 322.50 L 40.95 322.50 L 41.49 322.50 L 42.02 322.50 L 42.56 322.50 L 43.10 322.50 L 43.63 322.50 L 44.16 322.50 L 44.70 322.50 L 45.23 322.50 L 45.77 322.50 L 46.30 322.50 L 46.84 322.50 L 47.38 322.50 L 47.91 322.50 L 48.45 322.50 L 48.98 322.50 L 49.52 322.50 L 50.05 322.50 L 50.58 322.50 L 51.12 322.50 L 51.66 322.50 L 52.19 322.50 L 52.73 322.50 L 53.26 322.50 L 53.80 322.50 L 54.33 322.50 L 54.87 322.50 L 55.40 322.50 L 55.94 322.50 L 56.47 322.50 L 57.01 322.50 L 57.54 322.50 L 58.07 322.50 L 58.61 322.50 L 59.15 322.50 L 59.68 322.50 L 60.22 322.50 L 60.75 322.50 L 61.29 322.50 L 61.82 322.50 L 62.36 322.50 L 62.89 322.50 L 63.42 322.50 L 63.96 322.50 L 64.50 322.50 L 65.03 322.50 L 65.56 322.50 L 66.10 322.50 L 66.10 322.50 Z" fill="#f37880" fill-opacity="0.82"/>
<line x1="3.30" y1="322.70" x2="3.30" y2="324.30" stroke="#444" stroke-width="0.4"/>
<line x1="5.57" y1="322.70" x2="5.57" y2="323.60" stroke="#444" stroke-width="0.4"/>
<line x1="7.85" y1="322.70" x2="7.85" y2="323.60" stroke="#444" stroke-width="0.4"/>
<line x1="10.12" y1="322.70" x2="10.12" y2="323.60" stroke="#444" stroke-width="0.4"/>
<line x1="12.40" y1="322.70" x2="12.40" y2="323.60" stroke="#444" stroke-width="0.4"/>
<line x1="14.67" y1="322.70" x2="14.67" y2="323.60" stroke="#444" stroke-width="0.4"/>
<line x1="16.94" y1="322.70" x2="16.94" y2="323.60" stroke="#444" stroke-width="0.4"/>
<line x1="19.22" y1="322.70" x2="19.22" y2="323.60" stroke="#444" stroke-width="0.4"/>
<line x1="21.49" y1="322.70" x2="21.49" y2="323.60" stroke="#444" stroke-width="0.4"/>
<line x1="23.77" y1="322.70" x2="23.77" y2="324.30" stroke="#444" stroke-width="0.4"/>
<line x1="26.04" y1="322.70" x2="26.04" y2="323.60" stroke="#444" stroke-width="0.4"/>
<line x1="28.31" y1="322.70" x2="28.31" y2="323.60" stroke="#444" stroke-width="0.4"/>
<line x1="30.59" y1="322.70" x2="30.59" y2="323.60" stroke="#444" stroke-width="0.4"/>
<line x1="32.86" y1="322.70" x2="32.86" y2="323.60" stroke="#444" stroke-width="0.4"/>
<line x1="35.14" y1="322.70" x2="35.14" y2="323.60" stroke="#444" stroke-width="0.4"/>
<line x1="37.41" y1="322.70" x2="37.41" y2="323.60" stroke="#444" stroke-width="0.4"/>
<line x1="39.69" y1="322.70" x2="39.69" y2="323.60" stroke="#444" stroke-width="0.4"/>
<line x1="41.96" y1="322.70" x2="41.96" y2="323.60" stroke="#444" stroke-width="0.4"/>
<line x1="44.23" y1="322.70" x2="44.23" y2="324.30" stroke="#444" stroke-width="0.4"/>
<line x1="46.51" y1="322.70" x2="46.51" y2="323.60" stroke="#444" stroke-width="0.4"/>
<line x1="48.78" y1="322.70" x2="48.78" y2="323.60" stroke="#444" stroke-width="0.4"/>
<line x1="51.06" y1="322.70" x2="51.06" y2="323.60" stroke="#444" stroke-width="0.4"/>
<line x1="53.33" y1="322.70" x2="53.33" y2="323.60" stroke="#444" stroke-width="0.4"/>
<line x1="55.60" y1="322.70" x2="55.60" y2="323.60" stroke="#444" stroke-width="0.4"/>
<line x1="57.88" y1="322.70" x2="57.88" y2="323.60" stroke="#444" stroke-width="0.4"/>
<line x1="60.15" y1="322.70" x2="60.15" y2="323.60" stroke="#444" stroke-width="0.4"/>
<line x1="62.43" y1="322.70" x2="62.43" y2="323.60" stroke="#444" stroke-width="0.4"/>
<line x1="64.70" y1="322.70" x2="64.70" y2="324.30" stroke="#444" stroke-width="0.4"/>
<line x1="11.80" y1="322.70" x2="11.80" y2="324.20" stroke="#111" stroke-width="0.5"/>
<line x1="12.80" y1="322.70" x2="12.80" y2="324.20" stroke="#111" stroke-width="0.5"/>
<line x1="13.80" y1="322.70" x2="13.80" y2="324.20" stroke="#111" stroke-width="0.5"/>
<line x1="14.80" y1="322.70" x2="14.80" y2="324.20" stroke="#111" stroke-width="0.5"/>
<line x1="15.80" y1="322.70" x2="15.80" y2="324.20" stroke="#111" stroke-width="0.5"/>
<line x1="16.80" y1="322.70" x2="16.80" y2="324.20" stroke="#111" stroke-width="0.5"/>
<line x1="17.80" y1="322.70" x2="17.80" y2="324.20" stroke="#111" stroke-width="0.5"/>
<rect x="1.30" y="232.50" width="65.40" height="90.20" fill="none" stroke="#7a7a7a" stroke-width="0.9"/>
<line x1="72.60" y1="268.70" x2="137.40" y2="268.70" stroke="#bccdaa" stroke-width="0.7"/>
<line x1="72.60" y1="286.60" x2="137.40" y2="286.60" stroke="#fddcc0" stroke-width="0.7"/>
<line x1="72.60" y1="304.50" x2="137.40" y2="304.50" stroke="#b5ecfb" stroke-width="0.7"/>
<path d="M 73.20 268.70 L 73.20 268.70 L 73.73 268.70 L 74.26 268.70 L 74.79 268.70 L 75.32 268.70 L 75.85 268.70 L 76.38 268.70 L 76.91 268.70 L 77.44 268.70 L 77.97 268.70 L 78.50 268.70 L 79.03 268.70 L 79.56 268.70 L 80.09 268.70 L 80.62 268.70 L 81.15 268.70 L 81.68 268.70 L 82.21 268.70 L 82.74 268.70 L 83.27 268.70 L 83.80 268.70 L 84.33 268.70 L 84.86 268.70 L 85.39 268.70 L 85.92 268.70 L 86.45 268.70 L 86.98 268.70 L 87.51 268.70 L 88.04 268.70 L 88.57 268.70 L 89.10 268.70 L 89.63 268.70 L 90.16 268.70 L 90.69 268.70 L 91.22 268.70 L 91.75 268.70 L 92.28 268.70 L 92.81 268.70 L 93.34 268.70 L 93.87 268.70 L 94.40 268.70 L 94.93 268.70 L 95.46 268.69 L 95.99 268.69 L 96.52 268.69 L 97.05 268.68 L 97.58 268.67 L 98.11 268.66 L 98.64 268.65 L 99.17 268.62 L 99.70 268.59 L 100.23 268.55 L 100.76 268.49 L 101.29 268.41 L 101.82 268.30 L 102.35 268.16 L 102.88 267.98 L 103.41 267.75 L 103.94 267.47 L 104.47 267.12 L 105.00 266.69 L 105.53 266.19 L 106.06 265.60 L 106.59 264.93 L 107.12 264.16 L 107.65 263.31 L 108.18 262.37 L 108.71 261.36 L 109.24 260.29 L 109.77 259.17 L 110.30 258.00 L 110.83 256.81 L 111.36 255.61 L 111.89 254.42 L 112.42 253.23 L 112.95 252.06 L 113.48 250.91 L 114.01 249.80 L 114.54 248.72 L 115.07 247.67 L 115.60 246.66 L 116.13 245.69 L 116.66 244.76 L 117.19 243.85 L 117.72 242.97 L 118.25 242.11 L 118.78 241.24 L 119.31 240.36 L 119.84 239.45 L 120.37 238.52 L 120.90 237.59 L 121.43 236.74 L 121.96 236.03 L 122.49 235.49 L 123.02 235.20 L 123.55 235.23 L 124.08 235.64 L 124.61 236.48 L 125.14 237.79 L 125.67 239.59 L 126.20 241.93 L 126.73 244.70 L 127.26 247.73 L 127.79 250.87 L 128.32 253.92 L 128.85 256.74 L 129.38 259.24 L 129.91 261.37 L 130.44 263.11 L 130.97 264.50 L 131.50 265.57 L 132.03 266.39 L 132.56 267.00 L 133.09 267.45 L 133.62 267.78 L 134.15 268.03 L 134.68 268.21 L 135.21 268.35 L 135.74 268.45 L 136.27 268.52 L 136.80 268.57 L 136.80 268.70 Z" fill="#84a86a" fill-opacity="0.82"/>
<path d="M 73.20 286.60 L 73.20 286.47 L 73.73 286.43 L 74.26 286.40 L 74.79 286.35 L 75.32 286.30 L 75.85 286.24 L 76.38 286.17 L 76.91 286.09 L 77.44 286.00 L 77.97 285.91 L 78.50 285.80 L 79.03 285.68 L 79.56 285.56 L 80.09 285.43 L 80.62 285.28 L 81.15 285.14 L 81.68 284.99 L 82.21 284.84 L 82.74 284.69 L 83.27 284.54 L 83.80 284.40 L 84.33 284.27 L 84.86 284.14 L 85.39 284.03 L 85.92 283.93 L 86.45 283.85 L 86.98 283.78 L 87.51 283.73 L 88.04 283.69 L 88.57 283.67 L 89.10 283.65 L 89.63 283.65 L 90.16 283.65 L 90.69 283.65 L 91.22 283.64 L 91.75 283.61 L 92.28 283.57 L 92.81 283.49 L 93.34 283.38 L 93.87 283.21 L 94.40 282.99 L 94.93 282.71 L 95.46 282.34 L 95.99 281.90 L 96.52 281.36 L 97.05 280.72 L 97.58 279.98 L 98.11 279.14 L 98.64 278.18 L 99.17 277.13 L 99.70 275.96 L 100.23 274.71 L 100.76 273.37 L 101.29 271.95 L 101.82 270.48 L 102.35 268.98 L 102.88 267.45 L 103.41 265.94 L 103.94 264.45 L 104.47 263.03 L 105.00 261.69 L 105.53 260.46 L 106.06 259.36 L 106.59 258.42 L 107.12 257.66 L 107.65 257.10 L 108.18 256.74 L 108.71 256.60 L 109.24 256.81 L 109.77 257.61 L 110.30 258.96 L 110.83 260.79 L 111.36 262.98 L 111.89 265.43 L 112.42 268.01 L 112.95 270.61 L 113.48 273.12 L 114.01 275.47 L 114.54 277.59 L 115.07 279.46 L 115.60 281.06 L 116.13 282.38 L 116.66 283.46 L 117.19 284.31 L 117.72 284.96 L 118.25 285.45 L 118.78 285.81 L 119.31 286.07 L 119.84 286.25 L 120.37 286.37 L 120.90 286.46 L 121.43 286.51 L 121.96 286.55 L 122.49 286.57 L 123.02 286.58 L 123.55 286.59 L 124.08 286.59 L 124.61 286.60 L 125.14 286.60 L 125.67 286.60 L 126.20 286.60 L 126.73 286.60 L 127.26 286.60 L 127.79 286.60 L 128.32 286.60 L 128.85 286.60 L 129.38 286.60 L 129.91 286.60 L 130.44 286.60 L 130.97 286.60 L 131.50 286.60 L 132.03 286.60 L 132.56 286.60 L 133.09 286.60 L 133.62 286.60 L 134.15 286.60 L 134.68 286.60 L 135.21 286.60 L 135.74 286.60 L 136.27 286.60 L 136.80 286.60 L 136.80 286.60 Z" fill="#fbb97e" fill-opacity="0.72"/>
<path d="M 73.20 304.50 L 73.20 304.50 L 73.73 304.50 L 74.26 304.50 L 74.79 304.50 L 75.32 304.50 L 75.85 304.50 L 76.38 304.50 L 76.91 304.50 L 77.44 304.50 L 77.97 304.50 L 78.50 304.50 L 79.03 304.50 L 79.56 304.50 L 80.09 304.50 L 80.62 304.50 L 81.15 304.50 L 81.68 304.50 L 82.21 304.50 L 82.74 304.49 L 83.27 304.48 L 83.80 304.47 L 84.33 304.44 L 84.86 304.39 L 85.39 304.30 L 85.92 304.14 L 86.45 303.89 L 86.98 303.50 L 87.51 302.91 L 88.04 302.06 L 88.57 300.87 L 89.10 299.29 L 89.63 297.25 L 90.16 294.74 L 90.69 291.81 L 91.22 288.53 L 91.75 285.06 L 92.28 281.62 L 92.81 278.44 L 93.34 275.79 L 93.87 273.89 L 94.40 272.88 L 94.93 272.77 L 95.46 273.23 L 95.99 274.16 L 96.52 275.42 L 97.05 276.88 L 97.58 278.41 L 98.11 279.93 L 98.64 281.42 L 99.17 282.93 L 99.70 284.53 L 100.23 286.29 L 100.76 288.26 L 101.29 290.30 L 101.82 292.37 L 102.35 294.41 L 102.88 296.34 L 103.41 298.11 L 103.94 299.66 L 104.47 300.96 L 105.00 302.00 L 105.53 302.80 L 106.06 303.39 L 106.59 303.80 L 107.12 304.07 L 107.65 304.25 L 108.18 304.36 L 108.71 304.42 L 109.24 304.46 L 109.77 304.48 L 110.30 304.49 L 110.83 304.50 L 111.36 304.50 L 111.89 304.50 L 112.42 304.50 L 112.95 304.50 L 113.48 304.50 L 114.01 304.50 L 114.54 304.50 L 115.07 304.50 L 115.60 304.50 L 116.13 304.50 L 116.66 304.50 L 117.19 304.50 L 117.72 304.50 L 118.25 304.50 L 118.78 304.50 L 119.31 304.50 L 119.84 304.50 L 120.37 304.50 L 120.90 304.50 L 121.43 304.50 L 121.96 304.50 L 122.49 304.50 L 123.02 304.50 L 123.55 304.50 L 124.08 304.50 L 124.61 304.50 L 125.14 304.50 L 125.67 304.50 L 126.20 304.50 L 126.73 304.50 L 127.26 304.50 L 127.79 304.50 L 128.32 304.50 L 128.85 304.50 L 129.38 304.50 L 129.91 304.50 L 130.44 304.50 L 130.97 304.50 L 131.50 304.50 L 132.03 304.50 L 132.56 304.50 L 133.09 304.50 L 133.62 304.50 L 134.15 304.50 L 134.68 304.50 L 135.21 304.50 L 135.74 304.50 L 136.27 304.50 L 136.80 304.50 L 136.80 304.50 Z" fill="#55d4f6" fill-opacity="0.72"/>
<path d="M 73.20 322.50 L 73.20 322.50 L 73.73 322.50 L 74.26 322.50 L 74.79 322.50 L 75.32 322.50 L 75.85 322.50 L 76.38 322.50 L 76.91 322.50 L 77.44 322.50 L 77.97 322.49 L 78.50 322.48 L 79.03 322.45 L 79.56 322.39 L 80.09 322.26 L 80.62 322.01 L 81.15 321.54 L 81.68 320.74 L 82.21 319.43 L 82.74 317.47 L 83.27 314.71 L 83.80 311.11 L 84.33 306.80 L 84.86 302.06 L 85.39 297.41 L 85.92 293.42 L 86.45 290.71 L 86.98 289.70 L 87.51 290.50 L 88.04 292.89 L 88.57 296.52 L 89.10 300.88 L 89.63 305.44 L 90.16 309.74 L 90.69 313.44 L 91.22 316.41 L 91.75 318.61 L 92.28 320.15 L 92.81 321.15 L 93.34 321.77 L 93.87 322.12 L 94.40 322.31 L 94.93 322.41 L 95.46 322.46 L 95.99 322.48 L 96.52 322.49 L 97.05 322.50 L 97.58 322.50 L 98.11 322.50 L 98.64 322.50 L 99.17 322.50 L 99.70 322.50 L 100.23 322.50 L 100.76 322.50 L 101.29 322.50 L 101.82 322.50 L 102.35 322.50 L 102.88 322.50 L 103.41 322.50 L 103.94 322.50 L 104.47 322.50 L 105.00 322.50 L 105.53 322.50 L 106.06 322.50 L 106.59 322.50 L 107.12 322.50 L 107.65 322.50 L 108.18 322.50 L 108.71 322.50 L 109.24 322.50 L 109.77 322.50 L 110.30 322.50 L 110.83 322.50 L 111.36 322.50 L 111.89 322.50 L 112.42 322.50 L 112.95 322.50 L 113.48 322.50 L 114.01 322.50 L 114.54 322.50 L 115.07 322.50 L 115.60 322.50 L 116.13 322.50 L 116.66 322.50 L 117.19 322.50 L 117.72 322.50 L 118.25 322.50 L 118.78 322.50 L 119.31 322.50 L 119.84 322.50 L 120.37 322.50 L 120.90 322.50 L 121.43 322.50 L 121.96 322.50 L 122.49 322.50 L 123.02 322.50 L 123.55 322.50 L 124.08 322.50 L 124.61 322.50 L 125.14 322.50 L 125.67 322.50 L 126.20 322.50 L 126.73 322.50 L 127.26 322.50 L 127.79 322.50 L 128.32 322.50 L 128.85 322.50 L 129.38 322.50 L 129.91 322.50 L 130.44 322.50 L 130.97 322.50 L 131.50 322.50 L 132.03 322.50 L 132.56 322.50 L 133.09 322.50 L 133.62 322.50 L 134.15 322.50 L 134.68 322.50 L 135.21 322.50 L 135.74 322.50 L 136.27 322.50 L 136.80 322.50 L 136.80 322.50 Z" fill="#f37880" fill-opacity="0.82"/>
<line x1="74.60" y1="322.70" x2="74.60" y2="324.30" stroke="#444" stroke-width="0.4"/>
<line x1="76.85" y1="322.70" x2="76.85" y2="323.60" stroke="#444" stroke-width="0.4"/>
<line x1="79.10" y1="322.70" x2="79.10" y2="323.60" stroke="#444" stroke-width="0.4"/>
<line x1="81.36" y1="322.70" x2="81.36" y2="323.60" stroke="#444" stroke-width="0.4"/>
<line x1="83.61" y1="322.70" x2="83.61" y2="323.60" stroke="#444" stroke-width="0.4"/>
<line x1="85.86" y1="322.70" x2="85.86" y2="323.60" stroke="#444" stroke-width="0.4"/>
<line x1="88.11" y1="322.70" x2="88.11" y2="323.60" stroke="#444" stroke-width="0.4"/>
<line x1="90.36" y1="322.70" x2="90.36" y2="323.60" stroke="#444" stroke-width="0.4"/>
<line x1="92.61" y1="322.70" x2="92.61" y2="323.60" stroke="#444" stroke-width="0.4"/>
<line x1="94.87" y1="322.70" x2="94.87" y2="324.30" stroke="#444" stroke-width="0.4"/>
<line x1="97.12" y1="322.70" x2="97.12" y2="323.60" stroke="#444" stroke-width="0.4"/>
<line x1="99.37" y1="322.70" x2="99.37" y2="323.60" stroke="#444" stroke-width="0.4"/>
<line x1="101.62" y1="322.70" x2="101.62" y2="323.60" stroke="#444" stroke-width="0.4"/>
<line x1="103.87" y1="322.70" x2="103.87" y2="323.60" stroke="#444" stroke-width="0.4"/>
<line x1="106.13" y1="322.70" x2="106.13" y2="323.60" stroke="#444" stroke-width="0.4"/>
<line x1="108.38" y1="322.70" x2="108.38" y2="323.60" stroke="#444" stroke-width="0.4"/>
<line x1="110.63" y1="322.70" x2="110.63" y2="323.60" stroke="#444" stroke-width="0.4"/>
<line x1="112.88" y1="322.70" x2="112.88" y2="323.60" stroke="#444" stroke-width="0.4"/>
<line x1="115.13" y1="322.70" x2="115.13" y2="324.30" stroke="#444" stroke-width="0.4"/>
<line x1="117.39" y1="322.70" x2="117.39" y2="323.60" stroke="#444" stroke-width="0.4"/>
<line x1="119.64" y1="322.70" x2="119.64" y2="323.60" stroke="#444" stroke-width="0.4"/>
<line x1="121.89" y1="322.70" x2="121.89" y2="323.60" stroke="#444" stroke-width="0.4"/>
<line x1="124.14" y1="322.70" x2="124.14" y2="323.60" stroke="#444" stroke-width="0.4"/>
<line x1="126.39" y1="322.70" x2="126.39" y2="323.60" stroke="#444" stroke-width="0.4"/>
<line x1="128.64" y1="322.70" x2="128.64" y2="323.60" stroke="#444" stroke-width="0.4"/>
<line x1="130.90" y1="322.70" x2="130.90" y2="323.60" stroke="#444" stroke-width="0.4"/>
<line x1="133.15" y1="322.70" x2="133.15" y2="323.60" stroke="#444" stroke-width="0.4"/>
<line x1="135.40" y1="322.70" x2="135.40" y2="324.30" stroke="#444" stroke-width="0.4"/>
<line x1="83.10" y1="322.70" x2="83.10" y2="324.20" stroke="#111" stroke-width="0.5"/>
<line x1="84.10" y1="322.70" x2="84.10" y2="324.20" stroke="#111" stroke-width="0.5"/>
<line x1="85.10" y1="322.70" x2="85.10" y2="324.20" stroke="#111" stroke-width="0.5"/>
<line x1="86.10" y1="322.70" x2="86.10" y2="324.20" stroke="#111" stroke-width="0.5"/>
<line x1="87.10" y1="322.70" x2="87.10" y2="324.20" stroke="#111" stroke-width="0.5"/>
<line x1="88.10" y1="322.70" x2="88.10" y2="324.20" stroke="#111" stroke-width="0.5"/>
<line x1="89.10" y1="322.70" x2="89.10" y2="324.20" stroke="#111" stroke-width="0.5"/>
<rect x="72.60" y="232.50" width="64.80" height="90.20" fill="none" stroke="#7a7a7a" stroke-width="0.9"/>
<line x1="143.50" y1="268.70" x2="209.60" y2="268.70" stroke="#bccdaa" stroke-width="0.7"/>
<line x1="143.50" y1="286.60" x2="209.60" y2="286.60" stroke="#fddcc0" stroke-width="0.7"/>
<line x1="143.50" y1="304.50" x2="209.60" y2="304.50" stroke="#b5ecfb" stroke-width="0.7"/>
<path d="M 144.10 268.70 L 144.10 268.70 L 144.64 268.70 L 145.18 268.70 L 145.72 268.70 L 146.26 268.70 L 146.80 268.70 L 147.34 268.70 L 147.89 268.70 L 148.43 268.70 L 148.97 268.70 L 149.51 268.70 L 150.05 268.70 L 150.59 268.70 L 151.13 268.70 L 151.67 268.69 L 152.21 268.69 L 152.75 268.68 L 153.29 268.67 L 153.84 268.66 L 154.38 268.63 L 154.92 268.59 L 155.46 268.53 L 156.00 268.44 L 156.54 268.31 L 157.08 268.12 L 157.62 267.87 L 158.16 267.53 L 158.70 267.08 L 159.24 266.50 L 159.78 265.76 L 160.32 264.84 L 160.87 263.73 L 161.41 262.40 L 161.95 260.87 L 162.49 259.13 L 163.03 257.20 L 163.57 255.13 L 164.11 252.96 L 164.65 250.75 L 165.19 248.58 L 165.73 246.53 L 166.27 244.67 L 166.81 243.09 L 167.36 241.83 L 167.90 240.97 L 168.44 240.45 L 168.98 240.16 L 169.52 240.11 L 170.06 240.30 L 170.60 240.73 L 171.14 241.41 L 171.68 242.30 L 172.22 243.41 L 172.76 244.70 L 173.31 246.18 L 173.85 247.80 L 174.39 249.54 L 174.93 251.34 L 175.47 253.17 L 176.01 254.98 L 176.55 256.74 L 177.09 258.40 L 177.63 259.95 L 178.17 261.36 L 178.71 262.62 L 179.25 263.72 L 179.80 264.68 L 180.34 265.49 L 180.88 266.17 L 181.42 266.73 L 181.96 267.18 L 182.50 267.54 L 183.04 267.83 L 183.58 268.05 L 184.12 268.22 L 184.66 268.35 L 185.20 268.44 L 185.74 268.51 L 186.28 268.57 L 186.83 268.61 L 187.37 268.63 L 187.91 268.65 L 188.45 268.67 L 188.99 268.68 L 189.53 268.68 L 190.07 268.69 L 190.61 268.69 L 191.15 268.70 L 191.69 268.70 L 192.23 268.70 L 192.78 268.70 L 193.32 268.70 L 193.86 268.70 L 194.40 268.70 L 194.94 268.70 L 195.48 268.70 L 196.02 268.70 L 196.56 268.70 L 197.10 268.70 L 197.64 268.70 L 198.18 268.70 L 198.72 268.70 L 199.26 268.70 L 199.81 268.70 L 200.35 268.70 L 200.89 268.70 L 201.43 268.70 L 201.97 268.70 L 202.51 268.70 L 203.05 268.70 L 203.59 268.70 L 204.13 268.70 L 204.67 268.70 L 205.21 268.70 L 205.75 268.70 L 206.30 268.70 L 206.84 268.70 L 207.38 268.70 L 207.92 268.70 L 208.46 268.70 L 209.00 268.70 L 209.00 268.70 Z" fill="#84a86a" fill-opacity="0.82"/>
<path d="M 144.10 286.60 L 144.10 286.58 L 144.64 286.57 L 145.18 286.56 L 145.72 286.54 L 146.26 286.53 L 146.80 286.51 L 147.34 286.48 L 147.89 286.45 L 148.43 286.42 L 148.97 286.37 L 149.51 286.32 L 150.05 286.26 L 150.59 286.19 L 151.13 286.11 L 151.67 286.01 L 152.21 285.90 L 152.75 285.79 L 153.29 285.65 L 153.84 285.51 L 154.38 285.35 L 154.92 285.19 L 155.46 285.01 L 156.00 284.83 L 156.54 284.64 L 157.08 284.45 L 157.62 284.26 L 158.16 284.07 L 158.70 283.89 L 159.24 283.72 L 159.78 283.57 L 160.32 283.43 L 160.87 283.31 L 161.41 283.22 L 161.95 283.15 L 162.49 283.11 L 163.03 283.09 L 163.57 283.10 L 164.11 283.14 L 164.65 283.20 L 165.19 283.27 L 165.73 283.35 L 166.27 283.43 L 166.81 283.50 L 167.36 283.55 L 167.90 283.54 L 168.44 283.46 L 168.98 283.28 L 169.52 282.96 L 170.06 282.47 L 170.60 281.78 L 171.14 280.85 L 171.68 279.65 L 172.22 278.16 L 172.76 276.37 L 173.31 274.30 L 173.85 271.99 L 174.39 269.48 L 174.93 266.87 L 175.47 264.25 L 176.01 261.75 L 176.55 259.49 L 177.09 257.58 L 177.63 256.14 L 178.17 255.26 L 178.71 254.99 L 179.25 255.84 L 179.80 258.14 L 180.34 261.58 L 180.88 265.68 L 181.42 269.98 L 181.96 274.04 L 182.50 277.58 L 183.04 280.45 L 183.58 282.61 L 184.12 284.14 L 184.66 285.16 L 185.20 285.79 L 185.74 286.17 L 186.28 286.38 L 186.83 286.50 L 187.37 286.55 L 187.91 286.58 L 188.45 286.59 L 188.99 286.60 L 189.53 286.60 L 190.07 286.60 L 190.61 286.60 L 191.15 286.60 L 191.69 286.60 L 192.23 286.60 L 192.78 286.60 L 193.32 286.60 L 193.86 286.60 L 194.40 286.60 L 194.94 286.60 L 195.48 286.60 L 196.02 286.60 L 196.56 286.60 L 197.10 286.60 L 197.64 286.60 L 198.18 286.60 L 198.72 286.60 L 199.26 286.60 L 199.81 286.60 L 200.35 286.60 L 200.89 286.60 L 201.43 286.60 L 201.97 286.60 L 202.51 286.60 L 203.05 286.60 L 203.59 286.60 L 204.13 286.60 L 204.67 286.60 L 205.21 286.60 L 205.75 286.60 L 206.30 286.60 L 206.84 286.60 L 207.38 286.60 L 207.92 286.60 L 208.46 286.60 L 209.00 286.60 L 209.00 286.60 Z" fill="#fbb97e" fill-opacity="0.72"/>
<path d="M 144.10 304.50 L 144.10 304.50 L 144.64 304.50 L 145.18 304.50 L 145.72 304.50 L 146.26 304.50 L 146.80 304.50 L 147.34 304.50 L 147.89 304.50 L 148.43 304.50 L 148.97 304.50 L 149.51 304.50 L 150.05 304.50 L 150.59 304.50 L 151.13 304.50 L 151.67 304.50 L 152.21 304.50 L 152.75 304.50 L 153.29 304.50 L 153.84 304.50 L 154.38 304.50 L 154.92 304.50 L 155.46 304.50 L 156.00 304.50 L 156.54 304.50 L 157.08 304.50 L 157.62 304.50 L 158.16 304.50 L 158.70 304.50 L 159.24 304.50 L 159.78 304.50 L 160.32 304.50 L 160.87 304.49 L 161.41 304.49 L 161.95 304.49 L 162.49 304.48 L 163.03 304.48 L 163.57 304.47 L 164.11 304.45 L 164.65 304.44 L 165.19 304.42 L 165.73 304.39 L 166.27 304.36 L 166.81 304.32 L 167.36 304.27 L 167.90 304.21 L 168.44 304.15 L 168.98 304.07 L 169.52 303.98 L 170.06 303.88 L 170.60 303.76 L 171.14 303.64 L 171.68 303.51 L 172.22 303.37 L 172.76 303.23 L 173.31 303.08 L 173.85 302.94 L 174.39 302.81 L 174.93 302.68 L 175.47 302.56 L 176.01 302.47 L 176.55 302.39 L 177.09 302.34 L 177.63 302.31 L 178.17 302.30 L 178.71 302.33 L 179.25 302.40 L 179.80 302.50 L 180.34 302.61 L 180.88 302.71 L 181.42 302.75 L 181.96 302.65 L 182.50 302.28 L 183.04 301.45 L 183.58 299.95 L 184.12 297.56 L 184.66 294.17 L 185.20 289.84 L 185.74 284.94 L 186.28 280.11 L 186.83 276.13 L 187.37 273.79 L 187.91 273.58 L 188.45 275.74 L 188.99 279.82 L 189.53 284.97 L 190.07 290.25 L 190.61 294.90 L 191.15 298.54 L 191.69 301.09 L 192.23 302.70 L 192.78 303.62 L 193.32 304.11 L 193.86 304.34 L 194.40 304.44 L 194.94 304.48 L 195.48 304.49 L 196.02 304.50 L 196.56 304.50 L 197.10 304.50 L 197.64 304.50 L 198.18 304.50 L 198.72 304.50 L 199.26 304.50 L 199.81 304.50 L 200.35 304.50 L 200.89 304.50 L 201.43 304.50 L 201.97 304.50 L 202.51 304.50 L 203.05 304.50 L 203.59 304.50 L 204.13 304.50 L 204.67 304.50 L 205.21 304.50 L 205.75 304.50 L 206.30 304.50 L 206.84 304.50 L 207.38 304.50 L 207.92 304.50 L 208.46 304.50 L 209.00 304.50 L 209.00 304.50 Z" fill="#55d4f6" fill-opacity="0.72"/>
<path d="M 144.10 322.50 L 144.10 322.50 L 144.64 322.50 L 145.18 322.50 L 145.72 322.50 L 146.26 322.50 L 146.80 322.50 L 147.34 322.50 L 147.89 322.50 L 148.43 322.50 L 148.97 322.50 L 149.51 322.50 L 150.05 322.50 L 150.59 322.50 L 151.13 322.49 L 151.67 322.47 L 152.21 322.41 L 152.75 322.26 L 153.29 321.91 L 153.84 321.18 L 154.38 319.79 L 154.92 317.43 L 155.46 313.83 L 156.00 308.95 L 156.54 303.16 L 157.08 297.28 L 157.62 292.45 L 158.16 289.79 L 158.70 289.92 L 159.24 292.60 L 159.78 297.19 L 160.32 302.75 L 160.87 308.28 L 161.41 313.07 L 161.95 316.73 L 162.49 319.24 L 163.03 320.80 L 163.57 321.69 L 164.11 322.14 L 164.65 322.35 L 165.19 322.44 L 165.73 322.48 L 166.27 322.49 L 166.81 322.50 L 167.36 322.50 L 167.90 322.50 L 168.44 322.50 L 168.98 322.50 L 169.52 322.50 L 170.06 322.50 L 170.60 322.50 L 171.14 322.50 L 171.68 322.50 L 172.22 322.50 L 172.76 322.50 L 173.31 322.50 L 173.85 322.50 L 174.39 322.50 L 174.93 322.50 L 175.47 322.50 L 176.01 322.50 L 176.55 322.50 L 177.09 322.50 L 177.63 322.50 L 178.17 322.50 L 178.71 322.50 L 179.25 322.50 L 179.80 322.50 L 180.34 322.50 L 180.88 322.50 L 181.42 322.50 L 181.96 322.50 L 182.50 322.50 L 183.04 322.50 L 183.58 322.50 L 184.12 322.50 L 184.66 322.50 L 185.20 322.50 L 185.74 322.50 L 186.28 322.50 L 186.83 322.50 L 187.37 322.50 L 187.91 322.50 L 188.45 322.50 L 188.99 322.50 L 189.53 322.50 L 190.07 322.50 L 190.61 322.50 L 191.15 322.50 L 191.69 322.50 L 192.23 322.50 L 192.78 322.50 L 193.32 322.50 L 193.86 322.50 L 194.40 322.50 L 194.94 322.50 L 195.48 322.50 L 196.02 322.50 L 196.56 322.50 L 197.10 322.50 L 197.64 322.50 L 198.18 322.50 L 198.72 322.50 L 199.26 322.50 L 199.81 322.50 L 200.35 322.50 L 200.89 322.50 L 201.43 322.50 L 201.97 322.50 L 202.51 322.50 L 203.05 322.50 L 203.59 322.50 L 204.13 322.50 L 204.67 322.50 L 205.21 322.50 L 205.75 322.50 L 206.30 322.50 L 206.84 322.50 L 207.38 322.50 L 207.92 322.50 L 208.46 322.50 L 209.00 322.50 L 209.00 322.50 Z" fill="#f37880" fill-opacity="0.82"/>
<line x1="145.50" y1="322.70" x2="145.50" y2="324.30" stroke="#444" stroke-width="0.4"/>
<line x1="147.80" y1="322.70" x2="147.80" y2="323.60" stroke="#444" stroke-width="0.4"/>
<line x1="150.10" y1="322.70" x2="150.10" y2="323.60" stroke="#444" stroke-width="0.4"/>
<line x1="152.40" y1="322.70" x2="152.40" y2="323.60" stroke="#444" stroke-width="0.4"/>
<line x1="154.70" y1="322.70" x2="154.70" y2="323.60" stroke="#444" stroke-width="0.4"/>
<line x1="157.00" y1="322.70" x2="157.00" y2="323.60" stroke="#444" stroke-width="0.4"/>
<line x1="159.30" y1="322.70" x2="159.30" y2="323.60" stroke="#444" stroke-width="0.4"/>
<line x1="161.60" y1="322.70" x2="161.60" y2="323.60" stroke="#444" stroke-width="0.4"/>
<line x1="163.90" y1="322.70" x2="163.90" y2="323.60" stroke="#444" stroke-width="0.4"/>
<line x1="166.20" y1="322.70" x2="166.20" y2="324.30" stroke="#444" stroke-width="0.4"/>
<line x1="168.50" y1="322.70" x2="168.50" y2="323.60" stroke="#444" stroke-width="0.4"/>
<line x1="170.80" y1="322.70" x2="170.80" y2="323.60" stroke="#444" stroke-width="0.4"/>
<line x1="173.10" y1="322.70" x2="173.10" y2="323.60" stroke="#444" stroke-width="0.4"/>
<line x1="175.40" y1="322.70" x2="175.40" y2="323.60" stroke="#444" stroke-width="0.4"/>
<line x1="177.70" y1="322.70" x2="177.70" y2="323.60" stroke="#444" stroke-width="0.4"/>
<line x1="180.00" y1="322.70" x2="180.00" y2="323.60" stroke="#444" stroke-width="0.4"/>
<line x1="182.30" y1="322.70" x2="182.30" y2="323.60" stroke="#444" stroke-width="0.4"/>
<line x1="184.60" y1="322.70" x2="184.60" y2="323.60" stroke="#444" stroke-width="0.4"/>
<line x1="186.90" y1="322.70" x2="186.90" y2="324.30" stroke="#444" stroke-width="0.4"/>
<line x1="189.20" y1="322.70" x2="189.20" y2="323.60" stroke="#444" stroke-width="0.4"/>
<line x1="191.50" y1="322.70" x2="191.50" y2="323.60" stroke="#444" stroke-width="0.4"/>
<line x1="193.80" y1="322.70" x2="193.80" y2="323.60" stroke="#444" stroke-width="0.4"/>
<line x1="196.10" y1="322.70" x2="196.10" y2="323.60" stroke="#444" stroke-width="0.4"/>
<line x1="198.40" y1="322.70" x2="198.40" y2="323.60" stroke="#444" stroke-width="0.4"/>
<line x1="200.70" y1="322.70" x2="200.70" y2="323.60" stroke="#444" stroke-width="0.4"/>
<line x1="203.00" y1="322.70" x2="203.00" y2="323.60" stroke="#444" stroke-width="0.4"/>
<line x1="205.30" y1="322.70" x2="205.30" y2="323.60" stroke="#444" stroke-width="0.4"/>
<line x1="207.60" y1="322.70" x2="207.60" y2="324.30" stroke="#444" stroke-width="0.4"/>
<line x1="154.00" y1="322.70" x2="154.00" y2="324.20" stroke="#111" stroke-width="0.5"/>
<line x1="155.00" y1="322.70" x2="155.00" y2="324.20" stroke="#111" stroke-width="0.5"/>
<line x1="156.00" y1="322.70" x2="156.00" y2="324.20" stroke="#111" stroke-width="0.5"/>
<line x1="157.00" y1="322.70" x2="157.00" y2="324.20" stroke="#111" stroke-width="0.5"/>
<line x1="158.00" y1="322.70" x2="158.00" y2="324.20" stroke="#111" stroke-width="0.5"/>
<line x1="159.00" y1="322.70" x2="159.00" y2="324.20" stroke="#111" stroke-width="0.5"/>
<line x1="160.00" y1="322.70" x2="160.00" y2="324.20" stroke="#111" stroke-width="0.5"/>
<rect x="143.50" y="232.50" width="66.10" height="90.20" fill="none" stroke="#7a7a7a" stroke-width="0.9"/>
<text x="16.10" y="333.40" font-size="5.6" text-anchor="middle" fill="#333">0</text>
<text x="44.50" y="333.40" font-size="5.6" text-anchor="middle" fill="#333">10<tspan font-size="4.60" dy="-3.00">3</tspan></text>
<text x="61.80" y="333.40" font-size="5.6" text-anchor="middle" fill="#333">10<tspan font-size="4.60" dy="-3.00">5</tspan></text>
<text x="83.50" y="333.40" font-size="5.6" text-anchor="middle" fill="#333">0</text>
<text x="104.50" y="333.40" font-size="5.6" text-anchor="middle" fill="#333">10<tspan font-size="4.60" dy="-3.00">3</tspan></text>
<text x="118.50" y="333.40" font-size="5.6" text-anchor="middle" fill="#333">10<tspan font-size="4.60" dy="-3.00">4</tspan></text>
<text x="132.80" y="333.40" font-size="5.6" text-anchor="middle" fill="#333">10<tspan font-size="4.60" dy="-3.00">5</tspan></text>
<text x="153.50" y="333.40" font-size="5.6" text-anchor="middle" fill="#333">0</text>
<text x="178.00" y="333.40" font-size="5.6" text-anchor="middle" fill="#333">10<tspan font-size="4.60" dy="-3.00">3</tspan></text>
<text x="194.60" y="333.40" font-size="5.6" text-anchor="middle" fill="#333">10<tspan font-size="4.60" dy="-3.00">4</tspan></text>
<text x="204.50" y="333.40" font-size="5.6" text-anchor="middle" fill="#333">10<tspan font-size="4.60" dy="-3.00">5</tspan></text>
<text x="0.20" y="349.50" font-size="10.45">Survivin-AF750</text>
<text x="79.60" y="349.50" font-size="10.5">HLA-A2-PE</text>
<text x="139.80" y="349.50" font-size="10.5">CD38-PerCPCy5.5</text>
<text x="213.00" y="263.00" font-size="10.4">BV173</text>
<text x="213.00" y="282.70" font-size="10.4">THP1</text>
<text x="213.00" y="301.20" font-size="10.4">TALL1</text>
<text x="213.00" y="319.20" font-size="10.4">Ctrl</text>
<text x="253.60" y="216.40" font-size="19.5">E</text>
<text x="334.10" y="226.90" font-size="13.4" text-anchor="middle">BV173</text>
<line x1="287.60" y1="254.40" x2="287.60" y2="337.40" stroke="#1a1a1a" stroke-width="1.1"/>
<line x1="284.20" y1="254.60" x2="287.60" y2="254.60" stroke="#1a1a1a" stroke-width="1.3"/>
<line x1="284.20" y1="277.00" x2="287.60" y2="277.00" stroke="#1a1a1a" stroke-width="1.3"/>
<line x1="285.40" y1="270.26" x2="287.60" y2="270.26" stroke="#1a1a1a" stroke-width="0.78"/>
<line x1="285.40" y1="266.31" x2="287.60" y2="266.31" stroke="#1a1a1a" stroke-width="0.78"/>
<line x1="285.40" y1="263.51" x2="287.60" y2="263.51" stroke="#1a1a1a" stroke-width="0.78"/>
<line x1="285.40" y1="261.34" x2="287.60" y2="261.34" stroke="#1a1a1a" stroke-width="0.78"/>
<line x1="285.40" y1="259.57" x2="287.60" y2="259.57" stroke="#1a1a1a" stroke-width="0.78"/>
<line x1="285.40" y1="258.07" x2="287.60" y2="258.07" stroke="#1a1a1a" stroke-width="0.78"/>
<line x1="285.40" y1="256.77" x2="287.60" y2="256.77" stroke="#1a1a1a" stroke-width="0.78"/>
<line x1="285.40" y1="255.62" x2="287.60" y2="255.62" stroke="#1a1a1a" stroke-width="0.78"/>
<line x1="284.20" y1="299.40" x2="287.60" y2="299.40" stroke="#1a1a1a" stroke-width="1.3"/>
<line x1="285.40" y1="292.66" x2="287.60" y2="292.66" stroke="#1a1a1a" stroke-width="0.78"/>
<line x1="285.40" y1="288.71" x2="287.60" y2="288.71" stroke="#1a1a1a" stroke-width="0.78"/>
<line x1="285.40" y1="285.91" x2="287.60" y2="285.91" stroke="#1a1a1a" stroke-width="0.78"/>
<line x1="285.40" y1="283.74" x2="287.60" y2="283.74" stroke="#1a1a1a" stroke-width="0.78"/>
<line x1="285.40" y1="281.97" x2="287.60" y2="281.97" stroke="#1a1a1a" stroke-width="0.78"/>
<line x1="285.40" y1="280.47" x2="287.60" y2="280.47" stroke="#1a1a1a" stroke-width="0.78"/>
<line x1="285.40" y1="279.17" x2="287.60" y2="279.17" stroke="#1a1a1a" stroke-width="0.78"/>
<line x1="285.40" y1="278.02" x2="287.60" y2="278.02" stroke="#1a1a1a" stroke-width="0.78"/>
<line x1="284.20" y1="321.80" x2="287.60" y2="321.80" stroke="#1a1a1a" stroke-width="1.3"/>
<line x1="285.40" y1="315.06" x2="287.60" y2="315.06" stroke="#1a1a1a" stroke-width="0.78"/>
<line x1="285.40" y1="311.11" x2="287.60" y2="311.11" stroke="#1a1a1a" stroke-width="0.78"/>
<line x1="285.40" y1="308.31" x2="287.60" y2="308.31" stroke="#1a1a1a" stroke-width="0.78"/>
<line x1="285.40" y1="306.14" x2="287.60" y2="306.14" stroke="#1a1a1a" stroke-width="0.78"/>
<line x1="285.40" y1="304.37" x2="287.60" y2="304.37" stroke="#1a1a1a" stroke-width="0.78"/>
<line x1="285.40" y1="302.87" x2="287.60" y2="302.87" stroke="#1a1a1a" stroke-width="0.78"/>
<line x1="285.40" y1="301.57" x2="287.60" y2="301.57" stroke="#1a1a1a" stroke-width="0.78"/>
<line x1="285.40" y1="300.42" x2="287.60" y2="300.42" stroke="#1a1a1a" stroke-width="0.78"/>
<line x1="285.40" y1="333.51" x2="287.60" y2="333.51" stroke="#1a1a1a" stroke-width="0.78"/>
<line x1="285.40" y1="330.71" x2="287.60" y2="330.71" stroke="#1a1a1a" stroke-width="0.78"/>
<line x1="285.40" y1="328.54" x2="287.60" y2="328.54" stroke="#1a1a1a" stroke-width="0.78"/>
<line x1="285.40" y1="326.77" x2="287.60" y2="326.77" stroke="#1a1a1a" stroke-width="0.78"/>
<line x1="285.40" y1="325.27" x2="287.60" y2="325.27" stroke="#1a1a1a" stroke-width="0.78"/>
<line x1="285.40" y1="323.97" x2="287.60" y2="323.97" stroke="#1a1a1a" stroke-width="0.78"/>
<line x1="285.40" y1="322.82" x2="287.60" y2="322.82" stroke="#1a1a1a" stroke-width="0.78"/>
<text x="283.20" y="257.20" font-size="7.4" text-anchor="end">10<tspan font-size="4.60" dy="-3.00">6</tspan></text>
<text x="283.20" y="279.60" font-size="7.4" text-anchor="end">10<tspan font-size="4.60" dy="-3.00">5</tspan></text>
<text x="283.20" y="302.00" font-size="7.4" text-anchor="end">10<tspan font-size="4.60" dy="-3.00">4</tspan></text>
<text x="283.20" y="324.40" font-size="7.4" text-anchor="end">10<tspan font-size="4.60" dy="-3.00">3</tspan></text>
<line x1="287.05" y1="336.90" x2="366.50" y2="336.90" stroke="#1a1a1a" stroke-width="1.1"/>
<line x1="299.80" y1="336.90" x2="299.80" y2="339.90" stroke="#1a1a1a" stroke-width="0.8800000000000001"/>
<line x1="318.70" y1="336.90" x2="318.70" y2="339.90" stroke="#1a1a1a" stroke-width="0.8800000000000001"/>
<line x1="337.50" y1="336.90" x2="337.50" y2="339.90" stroke="#1a1a1a" stroke-width="0.8800000000000001"/>
<line x1="356.40" y1="336.90" x2="356.40" y2="339.90" stroke="#1a1a1a" stroke-width="0.8800000000000001"/>
<rect x="294.25" y="265.85" width="11.10" height="71.05" fill="#ffffff" stroke="#333333" stroke-width="1.5"/>
<rect x="313.25" y="282.65" width="10.90" height="54.25" fill="#ffffff" stroke="#c8c818" stroke-width="1.5"/>
<rect x="332.05" y="291.05" width="10.80" height="45.85" fill="#ffffff" stroke="#ff1010" stroke-width="1.5"/>
<rect x="350.95" y="298.75" width="10.90" height="38.15" fill="#ffffff" stroke="#9c6628" stroke-width="1.5"/>
<circle cx="295.10" cy="261.90" r="1.9949999999999999" fill="#333333"/>
<circle cx="300.00" cy="261.10" r="1.9949999999999999" fill="#333333"/>
<circle cx="304.80" cy="261.90" r="1.9949999999999999" fill="#333333"/>
<circle cx="297.10" cy="265.90" r="1.9949999999999999" fill="#333333"/>
<circle cx="302.40" cy="265.90" r="1.9949999999999999" fill="#333333"/>
<circle cx="299.60" cy="270.70" r="1.9949999999999999" fill="#333333"/>
<line x1="299.80" y1="267.00" x2="299.80" y2="263.20" stroke="#333333" stroke-width="1.0"/>
<line x1="296.60" y1="263.20" x2="303.00" y2="263.20" stroke="#333333" stroke-width="1.0"/>
<line x1="296.60" y1="267.00" x2="303.00" y2="267.00" stroke="#333333" stroke-width="1.0"/>
<rect x="316.51" y="274.41" width="3.78" height="3.78" fill="#c8c818"/>
<rect x="311.71" y="276.81" width="3.78" height="3.78" fill="#c8c818"/>
<rect x="321.41" y="277.11" width="3.78" height="3.78" fill="#c8c818"/>
<rect x="317.01" y="281.31" width="3.78" height="3.78" fill="#c8c818"/>
<rect x="316.91" y="286.51" width="3.78" height="3.78" fill="#c8c818"/>
<rect x="316.91" y="299.61" width="3.78" height="3.78" fill="#c8c818"/>
<line x1="318.70" y1="284.60" x2="318.70" y2="279.00" stroke="#c8c818" stroke-width="1.0"/>
<line x1="315.50" y1="279.00" x2="321.90" y2="279.00" stroke="#c8c818" stroke-width="1.0"/>
<line x1="315.50" y1="284.60" x2="321.90" y2="284.60" stroke="#c8c818" stroke-width="1.0"/>
<polygon points="337.70,281.71 335.60,285.79 339.80,285.79" fill="#ff1010"/>
<polygon points="342.50,279.71 340.40,283.79 344.60,283.79" fill="#ff1010"/>
<polygon points="333.40,298.21 331.30,302.29 335.50,302.29" fill="#ff1010"/>
<polygon points="337.70,298.21 335.60,302.29 339.80,302.29" fill="#ff1010"/>
<polygon points="342.50,298.21 340.40,302.29 344.60,302.29" fill="#ff1010"/>
<line x1="337.45" y1="293.50" x2="337.45" y2="287.60" stroke="#ff1010" stroke-width="1.0"/>
<line x1="334.25" y1="287.60" x2="340.65" y2="287.60" stroke="#ff1010" stroke-width="1.0"/>
<line x1="334.25" y1="293.50" x2="340.65" y2="293.50" stroke="#ff1010" stroke-width="1.0"/>
<rect x="354.61" y="280.41" width="3.78" height="3.78" fill="#9c6628"/>
<rect x="354.61" y="306.51" width="3.78" height="3.78" fill="#9c6628"/>
<rect x="354.61" y="310.21" width="3.78" height="3.78" fill="#9c6628"/>
<rect x="354.61" y="318.11" width="3.78" height="3.78" fill="#9c6628"/>
<rect x="350.31" y="326.61" width="3.78" height="3.78" fill="#9c6628"/>
<rect x="359.11" y="323.41" width="3.78" height="3.78" fill="#9c6628"/>
<line x1="356.40" y1="316.00" x2="356.40" y2="292.40" stroke="#9c6628" stroke-width="1.0"/>
<line x1="353.20" y1="292.40" x2="359.60" y2="292.40" stroke="#9c6628" stroke-width="1.0"/>
<line x1="353.20" y1="316.00" x2="359.60" y2="316.00" stroke="#9c6628" stroke-width="1.0"/>
<line x1="317.40" y1="255.40" x2="356.90" y2="255.40" stroke="#1a1a1a" stroke-width="1.4"/>
<text x="337.62" y="257.20" font-size="11.875" text-anchor="middle" letter-spacing="0.95">*</text>
<line x1="317.40" y1="266.80" x2="335.30" y2="266.80" stroke="#1a1a1a" stroke-width="1.4"/>
<text x="326.35" y="264.80" font-size="9.6" text-anchor="middle">ns</text>
<text x="266.60" y="294.20" font-size="8.13" text-anchor="middle" transform="rotate(-90 266.60 294.20)">Residual tumor counts (log)</text>
<text x="453.30" y="226.90" font-size="13.4" text-anchor="middle">THP1</text>
<line x1="411.50" y1="252.20" x2="411.50" y2="334.90" stroke="#1a1a1a" stroke-width="1.2"/>
<line x1="408.30" y1="334.30" x2="411.50" y2="334.30" stroke="#1a1a1a" stroke-width="0.96"/>
<text x="407.40" y="336.82" font-size="7.2" text-anchor="end">0</text>
<line x1="408.30" y1="313.82" x2="411.50" y2="313.82" stroke="#1a1a1a" stroke-width="0.96"/>
<text x="407.40" y="316.34" font-size="7.2" text-anchor="end">5×10<tspan font-size="4.4" dy="-2.9">4</tspan></text>
<line x1="408.30" y1="293.35" x2="411.50" y2="293.35" stroke="#1a1a1a" stroke-width="0.96"/>
<text x="407.40" y="295.87" font-size="7.2" text-anchor="end">1×10<tspan font-size="4.4" dy="-2.9">5</tspan></text>
<line x1="408.30" y1="272.88" x2="411.50" y2="272.88" stroke="#1a1a1a" stroke-width="0.96"/>
<text x="407.40" y="275.39" font-size="7.2" text-anchor="end">1.5×10<tspan font-size="4.4" dy="-2.9">5</tspan></text>
<line x1="408.30" y1="252.40" x2="411.50" y2="252.40" stroke="#1a1a1a" stroke-width="0.96"/>
<text x="407.40" y="254.92" font-size="7.2" text-anchor="end">2×10<tspan font-size="4.4" dy="-2.9">5</tspan></text>
<line x1="410.95" y1="334.30" x2="494.70" y2="334.30" stroke="#1a1a1a" stroke-width="1.1"/>
<line x1="424.20" y1="334.30" x2="424.20" y2="337.30" stroke="#1a1a1a" stroke-width="0.8800000000000001"/>
<line x1="443.20" y1="334.30" x2="443.20" y2="337.30" stroke="#1a1a1a" stroke-width="0.8800000000000001"/>
<line x1="462.30" y1="334.30" x2="462.30" y2="337.30" stroke="#1a1a1a" stroke-width="0.8800000000000001"/>
<line x1="481.60" y1="334.30" x2="481.60" y2="337.30" stroke="#1a1a1a" stroke-width="0.8800000000000001"/>
<rect x="419.15" y="276.65" width="10.20" height="57.65" fill="#ffffff" stroke="#333333" stroke-width="1.5"/>
<rect x="437.95" y="275.95" width="10.60" height="58.35" fill="#ffffff" stroke="#c8c818" stroke-width="1.5"/>
<rect x="457.25" y="272.55" width="10.20" height="61.75" fill="#ffffff" stroke="#ff1010" stroke-width="1.5"/>
<rect x="476.25" y="319.05" width="10.70" height="15.25" fill="#ffffff" stroke="#9c6628" stroke-width="1.5"/>
<circle cx="419.50" cy="270.00" r="1.9949999999999999" fill="#333333"/>
<circle cx="428.50" cy="267.50" r="1.9949999999999999" fill="#333333"/>
<circle cx="421.00" cy="276.50" r="1.9949999999999999" fill="#333333"/>
<circle cx="429.00" cy="275.50" r="1.9949999999999999" fill="#333333"/>
<circle cx="424.50" cy="282.70" r="1.9949999999999999" fill="#333333"/>
<circle cx="428.00" cy="279.00" r="1.9949999999999999" fill="#333333"/>
<line x1="424.25" y1="279.40" x2="424.25" y2="272.50" stroke="#333333" stroke-width="1.0"/>
<line x1="421.05" y1="272.50" x2="427.45" y2="272.50" stroke="#333333" stroke-width="1.0"/>
<line x1="421.05" y1="279.40" x2="427.45" y2="279.40" stroke="#333333" stroke-width="1.0"/>
<rect x="436.61" y="269.61" width="3.78" height="3.78" fill="#c8c818"/>
<rect x="440.11" y="268.11" width="3.78" height="3.78" fill="#c8c818"/>
<rect x="445.61" y="267.11" width="3.78" height="3.78" fill="#c8c818"/>
<rect x="436.61" y="274.11" width="3.78" height="3.78" fill="#c8c818"/>
<rect x="441.61" y="275.11" width="3.78" height="3.78" fill="#c8c818"/>
<rect x="441.61" y="281.61" width="3.78" height="3.78" fill="#c8c818"/>
<line x1="443.25" y1="277.80" x2="443.25" y2="272.60" stroke="#c8c818" stroke-width="1.0"/>
<line x1="440.05" y1="272.60" x2="446.45" y2="272.60" stroke="#c8c818" stroke-width="1.0"/>
<line x1="440.05" y1="277.80" x2="446.45" y2="277.80" stroke="#c8c818" stroke-width="1.0"/>
<polygon points="462.20,261.31 460.10,265.39 464.30,265.39" fill="#ff1010"/>
<polygon points="457.50,266.31 455.40,270.39 459.60,270.39" fill="#ff1010"/>
<polygon points="458.00,275.81 455.90,279.89 460.10,279.89" fill="#ff1010"/>
<polygon points="466.50,275.81 464.40,279.89 468.60,279.89" fill="#ff1010"/>
<polygon points="462.00,270.81 459.90,274.89 464.10,274.89" fill="#ff1010"/>
<polygon points="466.00,269.81 463.90,273.89 468.10,273.89" fill="#ff1010"/>
<line x1="462.35" y1="274.60" x2="462.35" y2="269.00" stroke="#ff1010" stroke-width="1.0"/>
<line x1="459.15" y1="269.00" x2="465.55" y2="269.00" stroke="#ff1010" stroke-width="1.0"/>
<line x1="459.15" y1="274.60" x2="465.55" y2="274.60" stroke="#ff1010" stroke-width="1.0"/>
<rect x="479.71" y="277.41" width="3.78" height="3.78" fill="#9c6628"/>
<rect x="479.71" y="315.11" width="3.78" height="3.78" fill="#9c6628"/>
<rect x="474.61" y="324.61" width="3.78" height="3.78" fill="#9c6628"/>
<rect x="484.61" y="323.11" width="3.78" height="3.78" fill="#9c6628"/>
<rect x="475.11" y="331.11" width="3.78" height="3.78" fill="#9c6628"/>
<rect x="484.11" y="330.61" width="3.78" height="3.78" fill="#9c6628"/>
<line x1="481.60" y1="326.30" x2="481.60" y2="310.30" stroke="#9c6628" stroke-width="1.0"/>
<line x1="478.40" y1="310.30" x2="484.80" y2="310.30" stroke="#9c6628" stroke-width="1.0"/>
<line x1="478.40" y1="326.30" x2="484.80" y2="326.30" stroke="#9c6628" stroke-width="1.0"/>
<line x1="442.20" y1="248.70" x2="481.60" y2="248.70" stroke="#1a1a1a" stroke-width="1.4"/>
<text x="462.35" y="250.88" font-size="11.25" text-anchor="middle" letter-spacing="0.90">***</text>
<line x1="459.70" y1="258.50" x2="481.60" y2="258.50" stroke="#1a1a1a" stroke-width="1.4"/>
<text x="472.30" y="260.68" font-size="11.25" text-anchor="middle" letter-spacing="0.90">***</text>
<text x="383.30" y="293.20" font-size="8.0" text-anchor="middle" transform="rotate(-90 383.30 293.20)">Residual tumor counts</text>
<text x="576.20" y="227.30" font-size="13.2" text-anchor="middle">T-ALL1</text>
<line x1="533.60" y1="251.70" x2="533.60" y2="334.90" stroke="#1a1a1a" stroke-width="1.2"/>
<line x1="530.40" y1="334.30" x2="533.60" y2="334.30" stroke="#1a1a1a" stroke-width="0.96"/>
<text x="529.50" y="336.82" font-size="7.2" text-anchor="end">0</text>
<line x1="530.40" y1="319.42" x2="533.60" y2="319.42" stroke="#1a1a1a" stroke-width="0.96"/>
<text x="529.50" y="321.94" font-size="7.2" text-anchor="end">2×10<tspan font-size="4.4" dy="-2.9">4</tspan></text>
<line x1="530.40" y1="304.54" x2="533.60" y2="304.54" stroke="#1a1a1a" stroke-width="0.96"/>
<text x="529.50" y="307.06" font-size="7.2" text-anchor="end">4×10<tspan font-size="4.4" dy="-2.9">4</tspan></text>
<line x1="530.40" y1="289.66" x2="533.60" y2="289.66" stroke="#1a1a1a" stroke-width="0.96"/>
<text x="529.50" y="292.18" font-size="7.2" text-anchor="end">6×10<tspan font-size="4.4" dy="-2.9">4</tspan></text>
<line x1="530.40" y1="274.78" x2="533.60" y2="274.78" stroke="#1a1a1a" stroke-width="0.96"/>
<text x="529.50" y="277.30" font-size="7.2" text-anchor="end">8×10<tspan font-size="4.4" dy="-2.9">4</tspan></text>
<line x1="530.40" y1="259.90" x2="533.60" y2="259.90" stroke="#1a1a1a" stroke-width="0.96"/>
<text x="529.50" y="262.42" font-size="7.2" text-anchor="end">1×10<tspan font-size="4.4" dy="-2.9">5</tspan></text>
<line x1="533.05" y1="334.30" x2="615.60" y2="334.30" stroke="#1a1a1a" stroke-width="1.1"/>
<line x1="545.70" y1="334.30" x2="545.70" y2="337.30" stroke="#1a1a1a" stroke-width="0.8800000000000001"/>
<line x1="564.40" y1="334.30" x2="564.40" y2="337.30" stroke="#1a1a1a" stroke-width="0.8800000000000001"/>
<line x1="583.80" y1="334.30" x2="583.80" y2="337.30" stroke="#1a1a1a" stroke-width="0.8800000000000001"/>
<line x1="602.40" y1="334.30" x2="602.40" y2="337.30" stroke="#1a1a1a" stroke-width="0.8800000000000001"/>
<rect x="540.25" y="267.35" width="10.90" height="66.95" fill="#ffffff" stroke="#333333" stroke-width="1.5"/>
<rect x="558.95" y="266.15" width="10.80" height="68.15" fill="#ffffff" stroke="#c8c818" stroke-width="1.5"/>
<rect x="578.35" y="264.55" width="10.90" height="69.75" fill="#ffffff" stroke="#ff1010" stroke-width="1.5"/>
<rect x="596.95" y="275.05" width="10.90" height="59.25" fill="#ffffff" stroke="#9c6628" stroke-width="1.5"/>
<circle cx="545.60" cy="260.30" r="1.9949999999999999" fill="#333333"/>
<circle cx="546.00" cy="272.40" r="1.9949999999999999" fill="#333333"/>
<circle cx="545.20" cy="266.50" r="1.9949999999999999" fill="#333333"/>
<line x1="545.70" y1="270.70" x2="545.70" y2="262.50" stroke="#333333" stroke-width="1.0"/>
<line x1="542.50" y1="262.50" x2="548.90" y2="262.50" stroke="#333333" stroke-width="1.0"/>
<line x1="542.50" y1="270.70" x2="548.90" y2="270.70" stroke="#333333" stroke-width="1.0"/>
<rect x="562.51" y="259.61" width="3.78" height="3.78" fill="#c8c818"/>
<rect x="559.11" y="264.11" width="3.78" height="3.78" fill="#c8c818"/>
<rect x="565.61" y="264.61" width="3.78" height="3.78" fill="#c8c818"/>
<line x1="564.35" y1="267.80" x2="564.35" y2="263.00" stroke="#c8c818" stroke-width="1.0"/>
<line x1="561.15" y1="263.00" x2="567.55" y2="263.00" stroke="#c8c818" stroke-width="1.0"/>
<line x1="561.15" y1="267.80" x2="567.55" y2="267.80" stroke="#c8c818" stroke-width="1.0"/>
<polygon points="580.00,259.61 577.90,263.69 582.10,263.69" fill="#ff1010"/>
<polygon points="587.50,260.31 585.40,264.39 589.60,264.39" fill="#ff1010"/>
<polygon points="584.00,266.31 581.90,270.39 586.10,270.39" fill="#ff1010"/>
<line x1="583.80" y1="266.40" x2="583.80" y2="261.20" stroke="#ff1010" stroke-width="1.0"/>
<line x1="580.60" y1="261.20" x2="587.00" y2="261.20" stroke="#ff1010" stroke-width="1.0"/>
<line x1="580.60" y1="266.40" x2="587.00" y2="266.40" stroke="#ff1010" stroke-width="1.0"/>
<rect x="600.51" y="261.61" width="3.78" height="3.78" fill="#9c6628"/>
<rect x="600.51" y="275.11" width="3.78" height="3.78" fill="#9c6628"/>
<rect x="600.51" y="279.11" width="3.78" height="3.78" fill="#9c6628"/>
<line x1="602.40" y1="280.60" x2="602.40" y2="268.00" stroke="#9c6628" stroke-width="1.0"/>
<line x1="599.20" y1="268.00" x2="605.60" y2="268.00" stroke="#9c6628" stroke-width="1.0"/>
<line x1="599.20" y1="280.60" x2="605.60" y2="280.60" stroke="#9c6628" stroke-width="1.0"/>
<line x1="566.60" y1="251.40" x2="604.00" y2="251.40" stroke="#1a1a1a" stroke-width="1.4"/>
<text x="585.30" y="249.40" font-size="9.3" text-anchor="middle">ns</text>
<text x="505.00" y="292.80" font-size="8.0" text-anchor="middle" transform="rotate(-90 505.00 292.80)">Residual tumor counts</text>
<circle cx="613.80" cy="247.90" r="2.1849999999999996" fill="#333333"/>
<text x="625.40" y="250.87" font-size="8.25">NT</text>
<rect x="611.73" y="259.13" width="4.14" height="4.14" fill="#c8c818"/>
<text x="625.40" y="264.17" font-size="8.25">Sur-TCR</text>
<polygon points="613.80,272.33 611.50,276.77 616.10,276.77" fill="#ff1010"/>
<text x="625.40" y="277.67" font-size="8.25">Sur-TCR+ΔSSR</text>
<rect x="611.73" y="285.53" width="4.14" height="4.14" fill="#9c6628"/>
<text x="625.40" y="290.57" font-size="8.25">Sur-TCR+SSR</text>
<text x="3.00" y="397.60" font-size="19.5">F</text>
<text x="163.20" y="414.90" font-size="13.5" text-anchor="middle">Degranulation</text>
<line x1="32.00" y1="420.50" x2="298.10" y2="420.50" stroke="#1a1a1a" stroke-width="1.5"/>
<text x="99.30" y="437.00" font-size="11.3" text-anchor="middle">BV173</text>
<line x1="32.00" y1="444.50" x2="32.00" y2="542.65" stroke="#1a1a1a" stroke-width="1.1"/>
<line x1="28.80" y1="542.10" x2="32.00" y2="542.10" stroke="#1a1a1a" stroke-width="0.8800000000000001"/>
<text x="27.80" y="544.97" font-size="8.2" text-anchor="end">0</text>
<line x1="28.80" y1="520.50" x2="32.00" y2="520.50" stroke="#1a1a1a" stroke-width="0.8800000000000001"/>
<text x="27.80" y="523.37" font-size="8.2" text-anchor="end">10</text>
<line x1="28.80" y1="498.90" x2="32.00" y2="498.90" stroke="#1a1a1a" stroke-width="0.8800000000000001"/>
<text x="27.80" y="501.77" font-size="8.2" text-anchor="end">20</text>
<line x1="28.80" y1="477.30" x2="32.00" y2="477.30" stroke="#1a1a1a" stroke-width="0.8800000000000001"/>
<text x="27.80" y="480.17" font-size="8.2" text-anchor="end">30</text>
<line x1="28.80" y1="455.70" x2="32.00" y2="455.70" stroke="#1a1a1a" stroke-width="0.8800000000000001"/>
<text x="27.80" y="458.57" font-size="8.2" text-anchor="end">40</text>
<rect x="36.85" y="540.59" width="6.90" height="1.51" fill="#ffffff" stroke="#333333" stroke-width="1.3"/>
<rect x="50.05" y="541.15" width="7.30" height="0.95" fill="#ffffff" stroke="#c8c818" stroke-width="1.3"/>
<rect x="63.25" y="541.15" width="7.30" height="0.95" fill="#ffffff" stroke="#ff1010" stroke-width="1.3"/>
<rect x="76.55" y="536.27" width="7.80" height="5.83" fill="#ffffff" stroke="#9c6628" stroke-width="1.3"/>
<rect x="98.75" y="536.27" width="7.60" height="5.83" fill="#ffffff" stroke="#333333" stroke-width="1.3"/>
<rect x="112.35" y="489.18" width="7.30" height="52.92" fill="#ffffff" stroke="#c8c818" stroke-width="1.3"/>
<rect x="125.65" y="482.70" width="7.30" height="59.40" fill="#ffffff" stroke="#ff1010" stroke-width="1.3"/>
<rect x="138.95" y="463.69" width="7.60" height="78.41" fill="#ffffff" stroke="#9c6628" stroke-width="1.3"/>
<line x1="31.45" y1="542.10" x2="151.40" y2="542.10" stroke="#1a1a1a" stroke-width="1.1"/>
<line x1="60.30" y1="542.10" x2="60.30" y2="545.10" stroke="#1a1a1a" stroke-width="0.8800000000000001"/>
<line x1="121.90" y1="542.10" x2="121.90" y2="545.10" stroke="#1a1a1a" stroke-width="0.8800000000000001"/>
<circle cx="37.80" cy="538.21" r="2.1849999999999996" fill="#333333"/>
<circle cx="42.80" cy="541.24" r="2.1849999999999996" fill="#333333"/>
<circle cx="40.30" cy="540.59" r="2.1849999999999996" fill="#333333"/>
<rect x="49.13" y="537.22" width="4.14" height="4.14" fill="#c8c818"/>
<rect x="52.13" y="539.38" width="4.14" height="4.14" fill="#c8c818"/>
<rect x="54.63" y="539.38" width="4.14" height="4.14" fill="#c8c818"/>
<polygon points="66.90,536.27 64.60,540.71 69.20,540.71" fill="#ff1010"/>
<polygon points="64.40,539.08 62.10,543.52 66.70,543.52" fill="#ff1010"/>
<polygon points="69.40,539.08 67.10,543.52 71.70,543.52" fill="#ff1010"/>
<rect x="78.38" y="521.89" width="4.14" height="4.14" fill="#9c6628"/>
<rect x="75.88" y="538.95" width="4.14" height="4.14" fill="#9c6628"/>
<rect x="80.88" y="537.44" width="4.14" height="4.14" fill="#9c6628"/>
<line x1="80.45" y1="539.94" x2="80.45" y2="530.22" stroke="#9c6628" stroke-width="0.9"/>
<line x1="77.85" y1="530.22" x2="83.05" y2="530.22" stroke="#9c6628" stroke-width="0.9"/>
<line x1="77.85" y1="539.94" x2="83.05" y2="539.94" stroke="#9c6628" stroke-width="0.9"/>
<circle cx="102.55" cy="531.30" r="2.1849999999999996" fill="#333333"/>
<circle cx="100.05" cy="539.51" r="2.1849999999999996" fill="#333333"/>
<circle cx="105.05" cy="536.70" r="2.1849999999999996" fill="#333333"/>
<rect x="113.43" y="474.15" width="4.14" height="4.14" fill="#c8c818"/>
<rect x="113.93" y="499.42" width="4.14" height="4.14" fill="#c8c818"/>
<rect x="113.93" y="487.11" width="4.14" height="4.14" fill="#c8c818"/>
<line x1="116.00" y1="495.01" x2="116.00" y2="480.97" stroke="#c8c818" stroke-width="0.9"/>
<line x1="113.40" y1="480.97" x2="118.60" y2="480.97" stroke="#c8c818" stroke-width="0.9"/>
<line x1="113.40" y1="495.01" x2="118.60" y2="495.01" stroke="#c8c818" stroke-width="0.9"/>
<polygon points="129.30,461.97 127.00,466.41 131.60,466.41" fill="#ff1010"/>
<polygon points="129.30,481.41 127.00,485.85 131.60,485.85" fill="#ff1010"/>
<polygon points="129.30,495.45 127.00,499.89 131.60,499.89" fill="#ff1010"/>
<line x1="129.30" y1="492.42" x2="129.30" y2="471.68" stroke="#ff1010" stroke-width="0.9"/>
<line x1="126.70" y1="471.68" x2="131.90" y2="471.68" stroke="#ff1010" stroke-width="0.9"/>
<line x1="126.70" y1="492.42" x2="131.90" y2="492.42" stroke="#ff1010" stroke-width="0.9"/>
<rect x="137.88" y="452.55" width="4.14" height="4.14" fill="#9c6628"/>
<rect x="143.48" y="452.98" width="4.14" height="4.14" fill="#9c6628"/>
<rect x="140.68" y="477.82" width="4.14" height="4.14" fill="#9c6628"/>
<line x1="142.75" y1="473.84" x2="142.75" y2="456.56" stroke="#9c6628" stroke-width="0.9"/>
<line x1="140.15" y1="456.56" x2="145.35" y2="456.56" stroke="#9c6628" stroke-width="0.9"/>
<line x1="140.15" y1="473.84" x2="145.35" y2="473.84" stroke="#9c6628" stroke-width="0.9"/>
<line x1="102.30" y1="445.90" x2="142.50" y2="445.90" stroke="#1a1a1a" stroke-width="1.4"/>
<text x="122.80" y="447.45" font-size="10.0" text-anchor="middle" letter-spacing="0.80">***</text>
<line x1="102.30" y1="458.30" x2="128.50" y2="458.30" stroke="#1a1a1a" stroke-width="1.4"/>
<text x="115.80" y="459.85" font-size="10.0" text-anchor="middle" letter-spacing="0.80">**</text>
<line x1="102.30" y1="469.30" x2="116.80" y2="469.30" stroke="#1a1a1a" stroke-width="1.4"/>
<text x="109.95" y="470.85" font-size="10.0" text-anchor="middle" letter-spacing="0.80">*</text>
<text x="60.30" y="556.10" font-size="9.4" text-anchor="middle">CD4</text>
<text x="122.60" y="556.10" font-size="9.4" text-anchor="middle">CD8</text>
<text x="12.20" y="493.10" font-size="9.37" text-anchor="middle" font-weight="bold" transform="rotate(-90 12.20 493.10)">% CD107a+GB+ cells</text>
<text x="248.30" y="437.00" font-size="11.3" text-anchor="middle">THP1</text>
<line x1="184.60" y1="442.00" x2="184.60" y2="541.35" stroke="#1a1a1a" stroke-width="1.1"/>
<line x1="181.00" y1="540.80" x2="184.60" y2="540.80" stroke="#1a1a1a" stroke-width="0.8800000000000001"/>
<text x="180.00" y="543.60" font-size="8.0" text-anchor="end">0</text>
<line x1="181.00" y1="527.72" x2="184.60" y2="527.72" stroke="#1a1a1a" stroke-width="0.8800000000000001"/>
<text x="180.00" y="530.52" font-size="8.0" text-anchor="end">2</text>
<line x1="181.00" y1="514.64" x2="184.60" y2="514.64" stroke="#1a1a1a" stroke-width="0.8800000000000001"/>
<text x="180.00" y="517.44" font-size="8.0" text-anchor="end">4</text>
<line x1="181.00" y1="501.56" x2="184.60" y2="501.56" stroke="#1a1a1a" stroke-width="0.8800000000000001"/>
<text x="180.00" y="504.36" font-size="8.0" text-anchor="end">6</text>
<line x1="181.00" y1="488.48" x2="184.60" y2="488.48" stroke="#1a1a1a" stroke-width="0.8800000000000001"/>
<text x="180.00" y="491.28" font-size="8.0" text-anchor="end">8</text>
<line x1="181.00" y1="475.40" x2="184.60" y2="475.40" stroke="#1a1a1a" stroke-width="0.8800000000000001"/>
<text x="180.00" y="478.20" font-size="8.0" text-anchor="end">10</text>
<line x1="181.00" y1="462.32" x2="184.60" y2="462.32" stroke="#1a1a1a" stroke-width="0.8800000000000001"/>
<text x="180.00" y="465.12" font-size="8.0" text-anchor="end">12</text>
<line x1="181.00" y1="449.24" x2="184.60" y2="449.24" stroke="#1a1a1a" stroke-width="0.8800000000000001"/>
<text x="180.00" y="452.04" font-size="8.0" text-anchor="end">14</text>
<rect x="189.85" y="535.89" width="7.40" height="4.91" fill="#ffffff" stroke="#333333" stroke-width="1.3"/>
<rect x="203.25" y="538.83" width="7.30" height="1.97" fill="#ffffff" stroke="#c8c818" stroke-width="1.3"/>
<rect x="216.55" y="534.91" width="7.50" height="5.89" fill="#ffffff" stroke="#ff1010" stroke-width="1.3"/>
<rect x="230.05" y="521.18" width="6.90" height="19.62" fill="#ffffff" stroke="#9c6628" stroke-width="1.3"/>
<rect x="252.25" y="529.35" width="7.40" height="11.45" fill="#ffffff" stroke="#333333" stroke-width="1.3"/>
<rect x="265.55" y="532.29" width="7.60" height="8.51" fill="#ffffff" stroke="#c8c818" stroke-width="1.3"/>
<rect x="279.15" y="519.54" width="6.80" height="21.26" fill="#ffffff" stroke="#ff1010" stroke-width="1.3"/>
<rect x="291.95" y="489.78" width="7.40" height="51.02" fill="#ffffff" stroke="#9c6628" stroke-width="1.3"/>
<line x1="184.05" y1="540.80" x2="305.30" y2="540.80" stroke="#1a1a1a" stroke-width="1.1"/>
<line x1="213.40" y1="540.80" x2="213.40" y2="543.80" stroke="#1a1a1a" stroke-width="0.8800000000000001"/>
<line x1="275.80" y1="540.80" x2="275.80" y2="543.80" stroke="#1a1a1a" stroke-width="0.8800000000000001"/>
<circle cx="193.55" cy="526.41" r="2.1849999999999996" fill="#333333"/>
<circle cx="191.05" cy="539.49" r="2.1849999999999996" fill="#333333"/>
<circle cx="196.05" cy="539.49" r="2.1849999999999996" fill="#333333"/>
<line x1="193.55" y1="538.84" x2="193.55" y2="530.99" stroke="#333333" stroke-width="0.9"/>
<line x1="190.95" y1="530.99" x2="196.15" y2="530.99" stroke="#333333" stroke-width="0.9"/>
<line x1="190.95" y1="538.84" x2="196.15" y2="538.84" stroke="#333333" stroke-width="0.9"/>
<rect x="204.83" y="529.57" width="4.14" height="4.14" fill="#c8c818"/>
<rect x="202.33" y="537.42" width="4.14" height="4.14" fill="#c8c818"/>
<rect x="207.33" y="537.42" width="4.14" height="4.14" fill="#c8c818"/>
<polygon points="220.30,519.46 218.00,523.90 222.60,523.90" fill="#ff1010"/>
<polygon points="217.80,537.12 215.50,541.56 220.10,541.56" fill="#ff1010"/>
<polygon points="222.80,537.12 220.50,541.56 225.10,541.56" fill="#ff1010"/>
<line x1="220.30" y1="539.49" x2="220.30" y2="527.72" stroke="#ff1010" stroke-width="0.9"/>
<line x1="217.70" y1="527.72" x2="222.90" y2="527.72" stroke="#ff1010" stroke-width="0.9"/>
<line x1="217.70" y1="539.49" x2="222.90" y2="539.49" stroke="#ff1010" stroke-width="0.9"/>
<rect x="231.43" y="485.10" width="4.14" height="4.14" fill="#9c6628"/>
<rect x="231.43" y="532.19" width="4.14" height="4.14" fill="#9c6628"/>
<rect x="231.43" y="537.42" width="4.14" height="4.14" fill="#9c6628"/>
<line x1="233.50" y1="536.88" x2="233.50" y2="503.52" stroke="#9c6628" stroke-width="0.9"/>
<line x1="230.90" y1="503.52" x2="236.10" y2="503.52" stroke="#9c6628" stroke-width="0.9"/>
<line x1="230.90" y1="536.88" x2="236.10" y2="536.88" stroke="#9c6628" stroke-width="0.9"/>
<circle cx="253.95" cy="523.80" r="2.1849999999999996" fill="#333333"/>
<circle cx="258.45" cy="525.10" r="2.1849999999999996" fill="#333333"/>
<circle cx="255.95" cy="536.88" r="2.1849999999999996" fill="#333333"/>
<line x1="255.95" y1="533.61" x2="255.95" y2="523.80" stroke="#333333" stroke-width="0.9"/>
<line x1="253.35" y1="523.80" x2="258.55" y2="523.80" stroke="#333333" stroke-width="0.9"/>
<line x1="253.35" y1="533.61" x2="258.55" y2="533.61" stroke="#333333" stroke-width="0.9"/>
<rect x="264.78" y="526.30" width="4.14" height="4.14" fill="#c8c818"/>
<rect x="269.78" y="526.30" width="4.14" height="4.14" fill="#c8c818"/>
<rect x="267.28" y="535.46" width="4.14" height="4.14" fill="#c8c818"/>
<line x1="269.35" y1="534.91" x2="269.35" y2="528.37" stroke="#c8c818" stroke-width="0.9"/>
<line x1="266.75" y1="528.37" x2="271.95" y2="528.37" stroke="#c8c818" stroke-width="0.9"/>
<line x1="266.75" y1="534.91" x2="271.95" y2="534.91" stroke="#c8c818" stroke-width="0.9"/>
<polygon points="282.55,504.42 280.25,508.86 284.85,508.86" fill="#ff1010"/>
<polygon points="282.55,510.96 280.25,515.40 284.85,515.40" fill="#ff1010"/>
<polygon points="282.55,534.51 280.25,538.95 284.85,538.95" fill="#ff1010"/>
<line x1="282.55" y1="529.03" x2="282.55" y2="513.99" stroke="#ff1010" stroke-width="0.9"/>
<line x1="279.95" y1="513.99" x2="285.15" y2="513.99" stroke="#ff1010" stroke-width="0.9"/>
<line x1="279.95" y1="529.03" x2="285.15" y2="529.03" stroke="#ff1010" stroke-width="0.9"/>
<rect x="293.58" y="453.71" width="4.14" height="4.14" fill="#9c6628"/>
<rect x="293.58" y="479.87" width="4.14" height="4.14" fill="#9c6628"/>
<rect x="293.58" y="527.61" width="4.14" height="4.14" fill="#9c6628"/>
<line x1="295.65" y1="510.72" x2="295.65" y2="467.55" stroke="#9c6628" stroke-width="0.9"/>
<line x1="293.05" y1="467.55" x2="298.25" y2="467.55" stroke="#9c6628" stroke-width="0.9"/>
<line x1="293.05" y1="510.72" x2="298.25" y2="510.72" stroke="#9c6628" stroke-width="0.9"/>
<text x="213.50" y="554.30" font-size="9.4" text-anchor="middle">CD4</text>
<text x="276.20" y="554.30" font-size="9.4" text-anchor="middle">CD8</text>
<text x="165.10" y="490.75" font-size="9.3" text-anchor="middle" font-weight="bold" transform="rotate(-90 165.10 490.75)">% CD107a+GB+ cells</text>
<text x="307.00" y="398.90" font-size="19.5">G</text>
<text x="489.20" y="415.00" font-size="13.5" text-anchor="middle">Cytokine production (THP1)</text>
<line x1="340.50" y1="420.70" x2="605.00" y2="420.70" stroke="#1a1a1a" stroke-width="1.5"/>
<text x="409.00" y="436.40" font-size="11.7" text-anchor="middle">IFNγ</text>
<line x1="344.30" y1="443.30" x2="344.30" y2="541.05" stroke="#1a1a1a" stroke-width="1.1"/>
<line x1="340.70" y1="540.50" x2="344.30" y2="540.50" stroke="#1a1a1a" stroke-width="0.8800000000000001"/>
<text x="339.70" y="543.30" font-size="8.0" text-anchor="end">0</text>
<line x1="340.70" y1="524.34" x2="344.30" y2="524.34" stroke="#1a1a1a" stroke-width="0.8800000000000001"/>
<text x="339.70" y="527.13" font-size="8.0" text-anchor="end">5</text>
<line x1="340.70" y1="508.17" x2="344.30" y2="508.17" stroke="#1a1a1a" stroke-width="0.8800000000000001"/>
<text x="339.70" y="510.97" font-size="8.0" text-anchor="end">10</text>
<line x1="340.70" y1="492.00" x2="344.30" y2="492.00" stroke="#1a1a1a" stroke-width="0.8800000000000001"/>
<text x="339.70" y="494.81" font-size="8.0" text-anchor="end">15</text>
<line x1="340.70" y1="475.84" x2="344.30" y2="475.84" stroke="#1a1a1a" stroke-width="0.8800000000000001"/>
<text x="339.70" y="478.64" font-size="8.0" text-anchor="end">20</text>
<line x1="340.70" y1="459.68" x2="344.30" y2="459.68" stroke="#1a1a1a" stroke-width="0.8800000000000001"/>
<text x="339.70" y="462.48" font-size="8.0" text-anchor="end">25</text>
<line x1="340.70" y1="443.51" x2="344.30" y2="443.51" stroke="#1a1a1a" stroke-width="0.8800000000000001"/>
<text x="339.70" y="446.31" font-size="8.0" text-anchor="end">30</text>
<rect x="349.15" y="537.92" width="6.90" height="2.58" fill="#ffffff" stroke="#333333" stroke-width="1.3"/>
<rect x="362.55" y="537.92" width="7.10" height="2.58" fill="#ffffff" stroke="#c8c818" stroke-width="1.3"/>
<rect x="375.55" y="531.45" width="7.40" height="9.05" fill="#ffffff" stroke="#ff1010" stroke-width="1.3"/>
<rect x="388.95" y="515.93" width="7.30" height="24.57" fill="#ffffff" stroke="#9c6628" stroke-width="1.3"/>
<rect x="410.65" y="534.68" width="7.30" height="5.82" fill="#ffffff" stroke="#333333" stroke-width="1.3"/>
<rect x="423.95" y="536.30" width="7.30" height="4.20" fill="#ffffff" stroke="#c8c818" stroke-width="1.3"/>
<rect x="437.25" y="521.75" width="7.60" height="18.75" fill="#ffffff" stroke="#ff1010" stroke-width="1.3"/>
<rect x="450.85" y="484.25" width="7.30" height="56.25" fill="#ffffff" stroke="#9c6628" stroke-width="1.3"/>
<line x1="343.75" y1="540.50" x2="463.00" y2="540.50" stroke="#1a1a1a" stroke-width="1.1"/>
<line x1="372.70" y1="540.50" x2="372.70" y2="543.50" stroke="#1a1a1a" stroke-width="0.8800000000000001"/>
<line x1="434.40" y1="540.50" x2="434.40" y2="543.50" stroke="#1a1a1a" stroke-width="0.8800000000000001"/>
<circle cx="350.60" cy="534.68" r="2.1849999999999996" fill="#333333"/>
<circle cx="355.10" cy="538.56" r="2.1849999999999996" fill="#333333"/>
<circle cx="352.60" cy="539.21" r="2.1849999999999996" fill="#333333"/>
<rect x="361.53" y="535.84" width="4.14" height="4.14" fill="#c8c818"/>
<rect x="366.53" y="534.55" width="4.14" height="4.14" fill="#c8c818"/>
<rect x="364.03" y="535.84" width="4.14" height="4.14" fill="#c8c818"/>
<polygon points="379.25,520.35 376.95,524.79 381.55,524.79" fill="#ff1010"/>
<polygon points="376.75,534.25 374.45,538.69 379.05,538.69" fill="#ff1010"/>
<polygon points="381.75,534.25 379.45,538.69 384.05,538.69" fill="#ff1010"/>
<line x1="379.25" y1="536.62" x2="379.25" y2="524.98" stroke="#ff1010" stroke-width="0.9"/>
<line x1="376.65" y1="524.98" x2="381.85" y2="524.98" stroke="#ff1010" stroke-width="0.9"/>
<line x1="376.65" y1="536.62" x2="381.85" y2="536.62" stroke="#ff1010" stroke-width="0.9"/>
<rect x="391.03" y="503.51" width="4.14" height="4.14" fill="#9c6628"/>
<rect x="388.03" y="518.06" width="4.14" height="4.14" fill="#9c6628"/>
<rect x="393.03" y="518.71" width="4.14" height="4.14" fill="#9c6628"/>
<line x1="392.60" y1="519.49" x2="392.60" y2="509.79" stroke="#9c6628" stroke-width="0.9"/>
<line x1="390.00" y1="509.79" x2="395.20" y2="509.79" stroke="#9c6628" stroke-width="0.9"/>
<line x1="390.00" y1="519.49" x2="395.20" y2="519.49" stroke="#9c6628" stroke-width="0.9"/>
<circle cx="414.30" cy="532.74" r="2.1849999999999996" fill="#333333"/>
<circle cx="411.80" cy="539.53" r="2.1849999999999996" fill="#333333"/>
<circle cx="416.80" cy="539.53" r="2.1849999999999996" fill="#333333"/>
<line x1="414.30" y1="536.62" x2="414.30" y2="531.45" stroke="#333333" stroke-width="0.9"/>
<line x1="411.70" y1="531.45" x2="416.90" y2="531.45" stroke="#333333" stroke-width="0.9"/>
<line x1="411.70" y1="536.62" x2="416.90" y2="536.62" stroke="#333333" stroke-width="0.9"/>
<rect x="423.03" y="535.20" width="4.14" height="4.14" fill="#c8c818"/>
<rect x="428.03" y="532.29" width="4.14" height="4.14" fill="#c8c818"/>
<rect x="425.53" y="533.58" width="4.14" height="4.14" fill="#c8c818"/>
<polygon points="441.05,502.57 438.75,507.01 443.35,507.01" fill="#ff1010"/>
<polygon points="441.05,520.03 438.75,524.47 443.35,524.47" fill="#ff1010"/>
<polygon points="441.05,531.66 438.75,536.10 443.35,536.10" fill="#ff1010"/>
<line x1="441.05" y1="529.18" x2="441.05" y2="512.70" stroke="#ff1010" stroke-width="0.9"/>
<line x1="438.45" y1="512.70" x2="443.65" y2="512.70" stroke="#ff1010" stroke-width="0.9"/>
<line x1="438.45" y1="529.18" x2="443.65" y2="529.18" stroke="#ff1010" stroke-width="0.9"/>
<rect x="452.43" y="452.76" width="4.14" height="4.14" fill="#9c6628"/>
<rect x="452.43" y="490.90" width="4.14" height="4.14" fill="#9c6628"/>
<rect x="452.43" y="499.63" width="4.14" height="4.14" fill="#9c6628"/>
<line x1="454.50" y1="498.47" x2="454.50" y2="468.73" stroke="#9c6628" stroke-width="0.9"/>
<line x1="451.90" y1="468.73" x2="457.10" y2="468.73" stroke="#9c6628" stroke-width="0.9"/>
<line x1="451.90" y1="498.47" x2="457.10" y2="498.47" stroke="#9c6628" stroke-width="0.9"/>
<line x1="363.70" y1="488.40" x2="394.10" y2="488.40" stroke="#1a1a1a" stroke-width="1.4"/>
<text x="379.30" y="489.95" font-size="10.0" text-anchor="middle" letter-spacing="0.80">**</text>
<line x1="374.90" y1="501.70" x2="394.10" y2="501.70" stroke="#1a1a1a" stroke-width="1.4"/>
<text x="384.90" y="503.25" font-size="10.0" text-anchor="middle" letter-spacing="0.80">*</text>
<line x1="430.30" y1="449.90" x2="455.30" y2="449.90" stroke="#1a1a1a" stroke-width="1.4"/>
<text x="443.20" y="451.45" font-size="10.0" text-anchor="middle" letter-spacing="0.80">*</text>
<text x="372.20" y="553.80" font-size="9.4" text-anchor="middle">CD4</text>
<text x="434.20" y="553.80" font-size="9.4" text-anchor="middle">CD8</text>
<text x="325.00" y="491.60" font-size="9.15" text-anchor="middle" font-weight="bold" transform="rotate(-90 325.00 491.60)">% IFNγ+ cells</text>
<text x="555.00" y="436.90" font-size="11.4" text-anchor="middle">TNFα</text>
<line x1="493.90" y1="443.70" x2="493.90" y2="541.15" stroke="#1a1a1a" stroke-width="1.1"/>
<line x1="490.30" y1="540.60" x2="493.90" y2="540.60" stroke="#1a1a1a" stroke-width="0.8800000000000001"/>
<text x="489.30" y="543.40" font-size="8.0" text-anchor="end">0</text>
<line x1="490.30" y1="521.26" x2="493.90" y2="521.26" stroke="#1a1a1a" stroke-width="0.8800000000000001"/>
<text x="489.30" y="524.06" font-size="8.0" text-anchor="end">2</text>
<line x1="490.30" y1="501.92" x2="493.90" y2="501.92" stroke="#1a1a1a" stroke-width="0.8800000000000001"/>
<text x="489.30" y="504.72" font-size="8.0" text-anchor="end">4</text>
<line x1="490.30" y1="482.58" x2="493.90" y2="482.58" stroke="#1a1a1a" stroke-width="0.8800000000000001"/>
<text x="489.30" y="485.38" font-size="8.0" text-anchor="end">6</text>
<line x1="490.30" y1="463.24" x2="493.90" y2="463.24" stroke="#1a1a1a" stroke-width="0.8800000000000001"/>
<text x="489.30" y="466.04" font-size="8.0" text-anchor="end">8</text>
<line x1="490.30" y1="443.90" x2="493.90" y2="443.90" stroke="#1a1a1a" stroke-width="0.8800000000000001"/>
<text x="489.30" y="446.70" font-size="8.0" text-anchor="end">10</text>
<rect x="498.05" y="533.03" width="6.80" height="7.57" fill="#ffffff" stroke="#333333" stroke-width="1.3"/>
<rect x="511.55" y="536.41" width="6.70" height="4.19" fill="#ffffff" stroke="#c8c818" stroke-width="1.3"/>
<rect x="524.85" y="529.65" width="6.90" height="10.95" fill="#ffffff" stroke="#ff1010" stroke-width="1.3"/>
<rect x="537.75" y="478.39" width="6.90" height="62.21" fill="#ffffff" stroke="#9c6628" stroke-width="1.3"/>
<rect x="559.45" y="529.65" width="7.40" height="10.95" fill="#ffffff" stroke="#333333" stroke-width="1.3"/>
<rect x="572.75" y="533.51" width="6.90" height="7.09" fill="#ffffff" stroke="#c8c818" stroke-width="1.3"/>
<rect x="586.05" y="528.68" width="7.10" height="11.92" fill="#ffffff" stroke="#ff1010" stroke-width="1.3"/>
<rect x="599.15" y="490.00" width="6.90" height="50.60" fill="#ffffff" stroke="#9c6628" stroke-width="1.3"/>
<line x1="493.35" y1="540.60" x2="612.30" y2="540.60" stroke="#1a1a1a" stroke-width="1.1"/>
<line x1="521.40" y1="540.60" x2="521.40" y2="543.60" stroke="#1a1a1a" stroke-width="0.8800000000000001"/>
<line x1="582.80" y1="540.60" x2="582.80" y2="543.60" stroke="#1a1a1a" stroke-width="0.8800000000000001"/>
<circle cx="498.95" cy="532.38" r="2.1849999999999996" fill="#333333"/>
<circle cx="503.95" cy="532.38" r="2.1849999999999996" fill="#333333"/>
<circle cx="501.45" cy="532.38" r="2.1849999999999996" fill="#333333"/>
<rect x="510.33" y="533.69" width="4.14" height="4.14" fill="#c8c818"/>
<rect x="515.33" y="533.69" width="4.14" height="4.14" fill="#c8c818"/>
<rect x="512.83" y="533.69" width="4.14" height="4.14" fill="#c8c818"/>
<polygon points="528.30,519.86 526.00,524.30 530.60,524.30" fill="#ff1010"/>
<polygon points="525.80,533.39 523.50,537.84 528.10,537.84" fill="#ff1010"/>
<polygon points="530.80,533.39 528.50,537.84 533.10,537.84" fill="#ff1010"/>
<line x1="528.30" y1="532.86" x2="528.30" y2="525.13" stroke="#ff1010" stroke-width="0.9"/>
<line x1="525.70" y1="525.13" x2="530.90" y2="525.13" stroke="#ff1010" stroke-width="0.9"/>
<line x1="525.70" y1="532.86" x2="530.90" y2="532.86" stroke="#ff1010" stroke-width="0.9"/>
<rect x="539.13" y="465.04" width="4.14" height="4.14" fill="#9c6628"/>
<rect x="539.13" y="472.77" width="4.14" height="4.14" fill="#9c6628"/>
<rect x="539.13" y="489.21" width="4.14" height="4.14" fill="#9c6628"/>
<line x1="541.20" y1="483.55" x2="541.20" y2="470.98" stroke="#9c6628" stroke-width="0.9"/>
<line x1="538.60" y1="470.98" x2="543.80" y2="470.98" stroke="#9c6628" stroke-width="0.9"/>
<line x1="538.60" y1="483.55" x2="543.80" y2="483.55" stroke="#9c6628" stroke-width="0.9"/>
<circle cx="563.15" cy="521.74" r="2.1849999999999996" fill="#333333"/>
<circle cx="560.65" cy="534.80" r="2.1849999999999996" fill="#333333"/>
<circle cx="565.65" cy="534.80" r="2.1849999999999996" fill="#333333"/>
<line x1="563.15" y1="532.86" x2="563.15" y2="525.13" stroke="#333333" stroke-width="0.9"/>
<line x1="560.55" y1="525.13" x2="565.75" y2="525.13" stroke="#333333" stroke-width="0.9"/>
<line x1="560.55" y1="532.86" x2="565.75" y2="532.86" stroke="#333333" stroke-width="0.9"/>
<rect x="571.63" y="528.86" width="4.14" height="4.14" fill="#c8c818"/>
<rect x="576.63" y="534.66" width="4.14" height="4.14" fill="#c8c818"/>
<rect x="574.13" y="532.73" width="4.14" height="4.14" fill="#c8c818"/>
<polygon points="587.10,522.76 584.80,527.20 589.40,527.20" fill="#ff1010"/>
<polygon points="592.10,523.73 589.80,528.17 594.40,528.17" fill="#ff1010"/>
<polygon points="589.60,531.46 587.30,535.90 591.90,535.90" fill="#ff1010"/>
<line x1="589.60" y1="530.93" x2="589.60" y2="525.13" stroke="#ff1010" stroke-width="0.9"/>
<line x1="587.00" y1="525.13" x2="592.20" y2="525.13" stroke="#ff1010" stroke-width="0.9"/>
<line x1="587.00" y1="530.93" x2="592.20" y2="530.93" stroke="#ff1010" stroke-width="0.9"/>
<rect x="600.53" y="454.40" width="4.14" height="4.14" fill="#9c6628"/>
<rect x="600.53" y="496.95" width="4.14" height="4.14" fill="#9c6628"/>
<rect x="600.53" y="509.52" width="4.14" height="4.14" fill="#9c6628"/>
<line x1="602.60" y1="505.79" x2="602.60" y2="472.91" stroke="#9c6628" stroke-width="0.9"/>
<line x1="600.00" y1="472.91" x2="605.20" y2="472.91" stroke="#9c6628" stroke-width="0.9"/>
<line x1="600.00" y1="505.79" x2="605.20" y2="505.79" stroke="#9c6628" stroke-width="0.9"/>
<line x1="516.10" y1="452.60" x2="542.90" y2="452.60" stroke="#1a1a1a" stroke-width="1.4"/>
<text x="529.90" y="454.15" font-size="10.0" text-anchor="middle" letter-spacing="0.80">***</text>
<line x1="528.20" y1="461.90" x2="542.90" y2="461.90" stroke="#1a1a1a" stroke-width="1.4"/>
<text x="535.95" y="463.45" font-size="10.0" text-anchor="middle" letter-spacing="0.80">***</text>
<line x1="576.80" y1="450.90" x2="604.40" y2="450.90" stroke="#1a1a1a" stroke-width="1.4"/>
<text x="591.00" y="452.45" font-size="10.0" text-anchor="middle" letter-spacing="0.80">*</text>
<text x="521.50" y="554.60" font-size="9.4" text-anchor="middle">CD4</text>
<text x="583.00" y="554.60" font-size="9.4" text-anchor="middle">CD8</text>
<text x="473.80" y="491.80" font-size="9.4" text-anchor="middle" font-weight="bold" transform="rotate(-90 473.80 491.80)">% TNFα+ cells</text>
<circle cx="611.50" cy="422.20" r="2.1849999999999996" fill="#333333"/>
<text x="622.70" y="425.04" font-size="7.9">NT</text>
<rect x="609.43" y="433.33" width="4.14" height="4.14" fill="#c8c818"/>
<text x="622.70" y="438.24" font-size="7.9">Sur-TCR</text>
<polygon points="611.50,445.83 609.20,450.27 613.80,450.27" fill="#ff1010"/>
<text x="622.70" y="451.04" font-size="7.9">Sur-TCR+ΔSSR</text>
<rect x="609.43" y="458.83" width="4.14" height="4.14" fill="#9c6628"/>
<text x="622.70" y="463.74" font-size="7.9">Sur-TCR+SSR</text>
<text x="3.60" y="602.80" font-size="19.5">H</text>
<g fill="none" stroke="#111" stroke-width="2.3" stroke-linecap="round" stroke-linejoin="round">
<path d="M 20.8 642.4 L 16 647 C 17 649 19 650.5 19.6 653 C 20 656 19.8 658.5 21.8 660.2 L 26 660.6"/>
<path d="M 25.3 660.2 C 24 655 24.2 648 27.5 644.3 C 30 641.5 36 640.5 40.5 642.7 L 43.2 644.3"/>
<path d="M 42.8 644.6 C 42.5 646 41 647.5 41.2 648.5 C 41.3 650 42.6 650.5 42.4 652 C 42.2 654 41.9 656 42.8 659.8"/>
<path d="M 21.8 660.4 L 54.6 660.2"/>
<path d="M 44 647.2 C 43.8 649 44.2 650.5 45 652 C 44.4 654 44 656.5 46.5 659 L 54.2 659.8 C 55.6 659.6 55.8 658.4 55.2 657.3 C 53.5 653 51 649 48.8 646.5"/>
<path d="M 44.3 646.8 C 44 644.5 45 641.5 46.7 641.4 C 48.5 641.3 49 643 48.8 644.5 C 48.5 645.6 47 646.3 46 647.2"/>
</g>
<circle cx="48.60" cy="655.40" r="1.45" fill="#111"/>
<ellipse cx="35.2" cy="662.4" rx="2.3" ry="1.6" fill="#111"/>
<ellipse cx="42.8" cy="662.1" rx="2.1" ry="1.5" fill="#111"/>
<text x="38.00" y="677.70" font-size="10.1" text-anchor="middle">NSG</text>
<text x="64.50" y="637.70" font-size="10.1">1x10<tspan font-size="7.00" dy="-4.20">6</tspan></text>
<text x="64.60" y="650.20" font-size="10.3" font-weight="bold">THP1</text>
<text x="101.40" y="637.70" font-size="10.1">10x10<tspan font-size="7.00" dy="-4.20">6</tspan></text>
<text x="101.40" y="650.20" font-size="10.4">TCR.mbIL15</text>
<line x1="70.40" y1="661.40" x2="127.00" y2="661.40" stroke="#111" stroke-width="1.9"/>
<path d="M 126.0 657.6 L 133.6 661.4 L 126.0 665.2 Z" fill="#111"/>
<line x1="70.60" y1="657.20" x2="70.60" y2="664.80" stroke="#111" stroke-width="2.0"/>
<line x1="111.70" y1="658.00" x2="111.70" y2="664.60" stroke="#111" stroke-width="1.5"/>
<text x="70.90" y="679.10" font-size="10.0">Day-7</text>
<text x="109.50" y="679.10" font-size="10.0">Day0</text>
<text x="169.50" y="602.90" font-size="19.5">I</text>
<text x="430.80" y="600.70" font-size="13.4" text-anchor="middle">Systemic leukemia burden</text>
<line x1="211.10" y1="606.60" x2="641.70" y2="606.60" stroke="#1a1a1a" stroke-width="1.4"/>
<text x="266.30" y="621.90" font-size="10.5" text-anchor="middle">NT</text>
<line x1="265.50" y1="629.50" x2="265.50" y2="710.60" stroke="#555" stroke-width="0.9" stroke-dasharray="1,1.2"/>
<line x1="219.50" y1="629.20" x2="219.50" y2="711.20" stroke="#1a1a1a" stroke-width="1.3"/>
<line x1="216.90" y1="634.30" x2="219.50" y2="634.30" stroke="#1a1a1a" stroke-width="1.0"/>
<line x1="218.00" y1="629.71" x2="219.50" y2="629.71" stroke="#1a1a1a" stroke-width="0.55"/>
<text x="216.10" y="636.90" font-size="7.0" text-anchor="end">10<tspan font-size="4.60" dy="-2.80">8</tspan></text>
<line x1="216.90" y1="649.56" x2="219.50" y2="649.56" stroke="#1a1a1a" stroke-width="1.0"/>
<line x1="218.00" y1="644.97" x2="219.50" y2="644.97" stroke="#1a1a1a" stroke-width="0.55"/>
<line x1="218.00" y1="642.28" x2="219.50" y2="642.28" stroke="#1a1a1a" stroke-width="0.55"/>
<line x1="218.00" y1="640.37" x2="219.50" y2="640.37" stroke="#1a1a1a" stroke-width="0.55"/>
<line x1="218.00" y1="638.89" x2="219.50" y2="638.89" stroke="#1a1a1a" stroke-width="0.55"/>
<line x1="218.00" y1="637.69" x2="219.50" y2="637.69" stroke="#1a1a1a" stroke-width="0.55"/>
<line x1="218.00" y1="636.66" x2="219.50" y2="636.66" stroke="#1a1a1a" stroke-width="0.55"/>
<line x1="218.00" y1="635.78" x2="219.50" y2="635.78" stroke="#1a1a1a" stroke-width="0.55"/>
<line x1="218.00" y1="635.00" x2="219.50" y2="635.00" stroke="#1a1a1a" stroke-width="0.55"/>
<text x="216.10" y="652.16" font-size="7.0" text-anchor="end">10<tspan font-size="4.60" dy="-2.80">7</tspan></text>
<line x1="216.90" y1="664.82" x2="219.50" y2="664.82" stroke="#1a1a1a" stroke-width="1.0"/>
<line x1="218.00" y1="660.23" x2="219.50" y2="660.23" stroke="#1a1a1a" stroke-width="0.55"/>
<line x1="218.00" y1="657.54" x2="219.50" y2="657.54" stroke="#1a1a1a" stroke-width="0.55"/>
<line x1="218.00" y1="655.63" x2="219.50" y2="655.63" stroke="#1a1a1a" stroke-width="0.55"/>
<line x1="218.00" y1="654.15" x2="219.50" y2="654.15" stroke="#1a1a1a" stroke-width="0.55"/>
<line x1="218.00" y1="652.95" x2="219.50" y2="652.95" stroke="#1a1a1a" stroke-width="0.55"/>
<line x1="218.00" y1="651.92" x2="219.50" y2="651.92" stroke="#1a1a1a" stroke-width="0.55"/>
<line x1="218.00" y1="651.04" x2="219.50" y2="651.04" stroke="#1a1a1a" stroke-width="0.55"/>
<line x1="218.00" y1="650.26" x2="219.50" y2="650.26" stroke="#1a1a1a" stroke-width="0.55"/>
<text x="216.10" y="667.42" font-size="7.0" text-anchor="end">10<tspan font-size="4.60" dy="-2.80">6</tspan></text>
<line x1="216.90" y1="680.08" x2="219.50" y2="680.08" stroke="#1a1a1a" stroke-width="1.0"/>
<line x1="218.00" y1="675.49" x2="219.50" y2="675.49" stroke="#1a1a1a" stroke-width="0.55"/>
<line x1="218.00" y1="672.80" x2="219.50" y2="672.80" stroke="#1a1a1a" stroke-width="0.55"/>
<line x1="218.00" y1="670.89" x2="219.50" y2="670.89" stroke="#1a1a1a" stroke-width="0.55"/>
<line x1="218.00" y1="669.41" x2="219.50" y2="669.41" stroke="#1a1a1a" stroke-width="0.55"/>
<line x1="218.00" y1="668.21" x2="219.50" y2="668.21" stroke="#1a1a1a" stroke-width="0.55"/>
<line x1="218.00" y1="667.18" x2="219.50" y2="667.18" stroke="#1a1a1a" stroke-width="0.55"/>
<line x1="218.00" y1="666.30" x2="219.50" y2="666.30" stroke="#1a1a1a" stroke-width="0.55"/>
<line x1="218.00" y1="665.52" x2="219.50" y2="665.52" stroke="#1a1a1a" stroke-width="0.55"/>
<text x="216.10" y="682.68" font-size="7.0" text-anchor="end">10<tspan font-size="4.60" dy="-2.80">5</tspan></text>
<line x1="216.90" y1="695.34" x2="219.50" y2="695.34" stroke="#1a1a1a" stroke-width="1.0"/>
<line x1="218.00" y1="690.75" x2="219.50" y2="690.75" stroke="#1a1a1a" stroke-width="0.55"/>
<line x1="218.00" y1="688.06" x2="219.50" y2="688.06" stroke="#1a1a1a" stroke-width="0.55"/>
<line x1="218.00" y1="686.15" x2="219.50" y2="686.15" stroke="#1a1a1a" stroke-width="0.55"/>
<line x1="218.00" y1="684.67" x2="219.50" y2="684.67" stroke="#1a1a1a" stroke-width="0.55"/>
<line x1="218.00" y1="683.47" x2="219.50" y2="683.47" stroke="#1a1a1a" stroke-width="0.55"/>
<line x1="218.00" y1="682.44" x2="219.50" y2="682.44" stroke="#1a1a1a" stroke-width="0.55"/>
<line x1="218.00" y1="681.56" x2="219.50" y2="681.56" stroke="#1a1a1a" stroke-width="0.55"/>
<line x1="218.00" y1="680.78" x2="219.50" y2="680.78" stroke="#1a1a1a" stroke-width="0.55"/>
<text x="216.10" y="697.94" font-size="7.0" text-anchor="end">10<tspan font-size="4.60" dy="-2.80">4</tspan></text>
<line x1="216.90" y1="710.60" x2="219.50" y2="710.60" stroke="#1a1a1a" stroke-width="1.0"/>
<line x1="218.00" y1="706.01" x2="219.50" y2="706.01" stroke="#1a1a1a" stroke-width="0.55"/>
<line x1="218.00" y1="703.32" x2="219.50" y2="703.32" stroke="#1a1a1a" stroke-width="0.55"/>
<line x1="218.00" y1="701.41" x2="219.50" y2="701.41" stroke="#1a1a1a" stroke-width="0.55"/>
<line x1="218.00" y1="699.93" x2="219.50" y2="699.93" stroke="#1a1a1a" stroke-width="0.55"/>
<line x1="218.00" y1="698.73" x2="219.50" y2="698.73" stroke="#1a1a1a" stroke-width="0.55"/>
<line x1="218.00" y1="697.70" x2="219.50" y2="697.70" stroke="#1a1a1a" stroke-width="0.55"/>
<line x1="218.00" y1="696.82" x2="219.50" y2="696.82" stroke="#1a1a1a" stroke-width="0.55"/>
<line x1="218.00" y1="696.04" x2="219.50" y2="696.04" stroke="#1a1a1a" stroke-width="0.55"/>
<text x="216.10" y="713.20" font-size="7.0" text-anchor="end">10<tspan font-size="4.60" dy="-2.80">3</tspan></text>
<line x1="218.90" y1="710.60" x2="304.80" y2="710.60" stroke="#1a1a1a" stroke-width="1.1"/>
<line x1="227.50" y1="710.60" x2="227.50" y2="713.00" stroke="#1a1a1a" stroke-width="0.9"/>
<text x="227.50" y="722.00" font-size="8.2" text-anchor="middle">0</text>
<line x1="240.30" y1="710.60" x2="240.30" y2="713.00" stroke="#1a1a1a" stroke-width="0.9"/>
<text x="240.30" y="722.00" font-size="8.2" text-anchor="middle">5</text>
<line x1="253.10" y1="710.60" x2="253.10" y2="713.00" stroke="#1a1a1a" stroke-width="0.9"/>
<text x="253.10" y="722.00" font-size="8.2" text-anchor="middle">10</text>
<line x1="265.90" y1="710.60" x2="265.90" y2="713.00" stroke="#1a1a1a" stroke-width="0.9"/>
<text x="265.90" y="722.00" font-size="8.2" text-anchor="middle">15</text>
<line x1="278.70" y1="710.60" x2="278.70" y2="713.00" stroke="#1a1a1a" stroke-width="0.9"/>
<text x="278.70" y="722.00" font-size="8.2" text-anchor="middle">20</text>
<line x1="291.50" y1="710.60" x2="291.50" y2="713.00" stroke="#1a1a1a" stroke-width="0.9"/>
<text x="291.50" y="722.00" font-size="8.2" text-anchor="middle">25</text>
<line x1="304.30" y1="710.60" x2="304.30" y2="713.00" stroke="#1a1a1a" stroke-width="0.9"/>
<text x="304.30" y="722.00" font-size="8.2" text-anchor="middle">30</text>
<polyline points="227.50,687.71 240.30,681.61 247.98,675.50 258.22,666.35 265.90,656.43 283.82,638.12 294.06,633.54" fill="none" stroke="#333333" stroke-width="0.8"/>
<rect x="226.30" y="686.51" width="2.40" height="2.40" fill="#333333"/>
<rect x="239.10" y="680.41" width="2.40" height="2.40" fill="#333333"/>
<rect x="246.78" y="674.30" width="2.40" height="2.40" fill="#333333"/>
<rect x="257.02" y="665.15" width="2.40" height="2.40" fill="#333333"/>
<rect x="264.70" y="655.23" width="2.40" height="2.40" fill="#333333"/>
<rect x="282.62" y="636.91" width="2.40" height="2.40" fill="#333333"/>
<rect x="292.86" y="632.34" width="2.40" height="2.40" fill="#333333"/>
<polyline points="227.50,692.29 240.30,693.81 247.98,676.26 258.22,667.11 265.90,657.19 283.82,640.40 294.06,634.30" fill="none" stroke="#333333" stroke-width="0.8"/>
<rect x="226.30" y="691.09" width="2.40" height="2.40" fill="#333333"/>
<rect x="239.10" y="692.61" width="2.40" height="2.40" fill="#333333"/>
<rect x="246.78" y="675.06" width="2.40" height="2.40" fill="#333333"/>
<rect x="257.02" y="665.91" width="2.40" height="2.40" fill="#333333"/>
<rect x="264.70" y="655.99" width="2.40" height="2.40" fill="#333333"/>
<rect x="282.62" y="639.20" width="2.40" height="2.40" fill="#333333"/>
<rect x="292.86" y="633.10" width="2.40" height="2.40" fill="#333333"/>
<polyline points="227.50,690.76 240.30,690.00 247.98,681.61 258.22,670.92 265.90,657.95 283.82,641.17 294.06,632.77" fill="none" stroke="#333333" stroke-width="0.8"/>
<rect x="226.30" y="689.56" width="2.40" height="2.40" fill="#333333"/>
<rect x="239.10" y="688.80" width="2.40" height="2.40" fill="#333333"/>
<rect x="246.78" y="680.41" width="2.40" height="2.40" fill="#333333"/>
<rect x="257.02" y="669.72" width="2.40" height="2.40" fill="#333333"/>
<rect x="264.70" y="656.75" width="2.40" height="2.40" fill="#333333"/>
<rect x="282.62" y="639.97" width="2.40" height="2.40" fill="#333333"/>
<rect x="292.86" y="631.57" width="2.40" height="2.40" fill="#333333"/>
<polyline points="227.50,693.81 240.30,690.76 247.98,682.37 258.22,673.21 265.90,664.82 283.82,651.85 294.06,652.61" fill="none" stroke="#333333" stroke-width="0.8"/>
<rect x="226.30" y="692.61" width="2.40" height="2.40" fill="#333333"/>
<rect x="239.10" y="689.56" width="2.40" height="2.40" fill="#333333"/>
<rect x="246.78" y="681.17" width="2.40" height="2.40" fill="#333333"/>
<rect x="257.02" y="672.01" width="2.40" height="2.40" fill="#333333"/>
<rect x="264.70" y="663.62" width="2.40" height="2.40" fill="#333333"/>
<rect x="282.62" y="650.65" width="2.40" height="2.40" fill="#333333"/>
<rect x="292.86" y="651.41" width="2.40" height="2.40" fill="#333333"/>
<polyline points="227.50,694.58 240.30,698.39 247.98,683.13 258.22,674.74 265.90,667.87 283.82,659.78 294.06,660.24" fill="none" stroke="#333333" stroke-width="0.8"/>
<rect x="226.30" y="693.38" width="2.40" height="2.40" fill="#333333"/>
<rect x="239.10" y="697.19" width="2.40" height="2.40" fill="#333333"/>
<rect x="246.78" y="681.93" width="2.40" height="2.40" fill="#333333"/>
<rect x="257.02" y="673.54" width="2.40" height="2.40" fill="#333333"/>
<rect x="264.70" y="666.67" width="2.40" height="2.40" fill="#333333"/>
<rect x="282.62" y="658.58" width="2.40" height="2.40" fill="#333333"/>
<rect x="292.86" y="659.04" width="2.40" height="2.40" fill="#333333"/>
<polyline points="227.50,695.34 240.30,702.21 247.98,683.89 258.22,675.50 265.90,668.63 283.82,659.78 294.06,660.24" fill="none" stroke="#333333" stroke-width="0.8"/>
<rect x="226.30" y="694.14" width="2.40" height="2.40" fill="#333333"/>
<rect x="239.10" y="701.01" width="2.40" height="2.40" fill="#333333"/>
<rect x="246.78" y="682.69" width="2.40" height="2.40" fill="#333333"/>
<rect x="257.02" y="674.30" width="2.40" height="2.40" fill="#333333"/>
<rect x="264.70" y="667.43" width="2.40" height="2.40" fill="#333333"/>
<rect x="282.62" y="658.58" width="2.40" height="2.40" fill="#333333"/>
<rect x="292.86" y="659.04" width="2.40" height="2.40" fill="#333333"/>
<text x="372.90" y="621.90" font-size="10.5" text-anchor="middle">TCR.mbIL15</text>
<line x1="373.50" y1="629.50" x2="373.50" y2="710.60" stroke="#555" stroke-width="0.9" stroke-dasharray="1,1.2"/>
<line x1="327.50" y1="629.20" x2="327.50" y2="711.20" stroke="#1a1a1a" stroke-width="1.3"/>
<line x1="324.90" y1="634.30" x2="327.50" y2="634.30" stroke="#1a1a1a" stroke-width="1.0"/>
<line x1="326.00" y1="629.71" x2="327.50" y2="629.71" stroke="#1a1a1a" stroke-width="0.55"/>
<text x="323.90" y="637.30" font-size="8.2" text-anchor="end">10<tspan font-size="5.20" dy="-3.20">8</tspan></text>
<line x1="324.90" y1="649.56" x2="327.50" y2="649.56" stroke="#1a1a1a" stroke-width="1.0"/>
<line x1="326.00" y1="644.97" x2="327.50" y2="644.97" stroke="#1a1a1a" stroke-width="0.55"/>
<line x1="326.00" y1="642.28" x2="327.50" y2="642.28" stroke="#1a1a1a" stroke-width="0.55"/>
<line x1="326.00" y1="640.37" x2="327.50" y2="640.37" stroke="#1a1a1a" stroke-width="0.55"/>
<line x1="326.00" y1="638.89" x2="327.50" y2="638.89" stroke="#1a1a1a" stroke-width="0.55"/>
<line x1="326.00" y1="637.69" x2="327.50" y2="637.69" stroke="#1a1a1a" stroke-width="0.55"/>
<line x1="326.00" y1="636.66" x2="327.50" y2="636.66" stroke="#1a1a1a" stroke-width="0.55"/>
<line x1="326.00" y1="635.78" x2="327.50" y2="635.78" stroke="#1a1a1a" stroke-width="0.55"/>
<line x1="326.00" y1="635.00" x2="327.50" y2="635.00" stroke="#1a1a1a" stroke-width="0.55"/>
<text x="323.90" y="652.56" font-size="8.2" text-anchor="end">10<tspan font-size="5.20" dy="-3.20">7</tspan></text>
<line x1="324.90" y1="664.82" x2="327.50" y2="664.82" stroke="#1a1a1a" stroke-width="1.0"/>
<line x1="326.00" y1="660.23" x2="327.50" y2="660.23" stroke="#1a1a1a" stroke-width="0.55"/>
<line x1="326.00" y1="657.54" x2="327.50" y2="657.54" stroke="#1a1a1a" stroke-width="0.55"/>
<line x1="326.00" y1="655.63" x2="327.50" y2="655.63" stroke="#1a1a1a" stroke-width="0.55"/>
<line x1="326.00" y1="654.15" x2="327.50" y2="654.15" stroke="#1a1a1a" stroke-width="0.55"/>
<line x1="326.00" y1="652.95" x2="327.50" y2="652.95" stroke="#1a1a1a" stroke-width="0.55"/>
<line x1="326.00" y1="651.92" x2="327.50" y2="651.92" stroke="#1a1a1a" stroke-width="0.55"/>
<line x1="326.00" y1="651.04" x2="327.50" y2="651.04" stroke="#1a1a1a" stroke-width="0.55"/>
<line x1="326.00" y1="650.26" x2="327.50" y2="650.26" stroke="#1a1a1a" stroke-width="0.55"/>
<text x="323.90" y="667.82" font-size="8.2" text-anchor="end">10<tspan font-size="5.20" dy="-3.20">6</tspan></text>
<line x1="324.90" y1="680.08" x2="327.50" y2="680.08" stroke="#1a1a1a" stroke-width="1.0"/>
<line x1="326.00" y1="675.49" x2="327.50" y2="675.49" stroke="#1a1a1a" stroke-width="0.55"/>
<line x1="326.00" y1="672.80" x2="327.50" y2="672.80" stroke="#1a1a1a" stroke-width="0.55"/>
<line x1="326.00" y1="670.89" x2="327.50" y2="670.89" stroke="#1a1a1a" stroke-width="0.55"/>
<line x1="326.00" y1="669.41" x2="327.50" y2="669.41" stroke="#1a1a1a" stroke-width="0.55"/>
<line x1="326.00" y1="668.21" x2="327.50" y2="668.21" stroke="#1a1a1a" stroke-width="0.55"/>
<line x1="326.00" y1="667.18" x2="327.50" y2="667.18" stroke="#1a1a1a" stroke-width="0.55"/>
<line x1="326.00" y1="666.30" x2="327.50" y2="666.30" stroke="#1a1a1a" stroke-width="0.55"/>
<line x1="326.00" y1="665.52" x2="327.50" y2="665.52" stroke="#1a1a1a" stroke-width="0.55"/>
<text x="323.90" y="683.08" font-size="8.2" text-anchor="end">10<tspan font-size="5.20" dy="-3.20">5</tspan></text>
<line x1="324.90" y1="695.34" x2="327.50" y2="695.34" stroke="#1a1a1a" stroke-width="1.0"/>
<line x1="326.00" y1="690.75" x2="327.50" y2="690.75" stroke="#1a1a1a" stroke-width="0.55"/>
<line x1="326.00" y1="688.06" x2="327.50" y2="688.06" stroke="#1a1a1a" stroke-width="0.55"/>
<line x1="326.00" y1="686.15" x2="327.50" y2="686.15" stroke="#1a1a1a" stroke-width="0.55"/>
<line x1="326.00" y1="684.67" x2="327.50" y2="684.67" stroke="#1a1a1a" stroke-width="0.55"/>
<line x1="326.00" y1="683.47" x2="327.50" y2="683.47" stroke="#1a1a1a" stroke-width="0.55"/>
<line x1="326.00" y1="682.44" x2="327.50" y2="682.44" stroke="#1a1a1a" stroke-width="0.55"/>
<line x1="326.00" y1="681.56" x2="327.50" y2="681.56" stroke="#1a1a1a" stroke-width="0.55"/>
<line x1="326.00" y1="680.78" x2="327.50" y2="680.78" stroke="#1a1a1a" stroke-width="0.55"/>
<text x="323.90" y="698.34" font-size="8.2" text-anchor="end">10<tspan font-size="5.20" dy="-3.20">4</tspan></text>
<line x1="324.90" y1="710.60" x2="327.50" y2="710.60" stroke="#1a1a1a" stroke-width="1.0"/>
<line x1="326.00" y1="706.01" x2="327.50" y2="706.01" stroke="#1a1a1a" stroke-width="0.55"/>
<line x1="326.00" y1="703.32" x2="327.50" y2="703.32" stroke="#1a1a1a" stroke-width="0.55"/>
<line x1="326.00" y1="701.41" x2="327.50" y2="701.41" stroke="#1a1a1a" stroke-width="0.55"/>
<line x1="326.00" y1="699.93" x2="327.50" y2="699.93" stroke="#1a1a1a" stroke-width="0.55"/>
<line x1="326.00" y1="698.73" x2="327.50" y2="698.73" stroke="#1a1a1a" stroke-width="0.55"/>
<line x1="326.00" y1="697.70" x2="327.50" y2="697.70" stroke="#1a1a1a" stroke-width="0.55"/>
<line x1="326.00" y1="696.82" x2="327.50" y2="696.82" stroke="#1a1a1a" stroke-width="0.55"/>
<line x1="326.00" y1="696.04" x2="327.50" y2="696.04" stroke="#1a1a1a" stroke-width="0.55"/>
<text x="323.90" y="713.60" font-size="8.2" text-anchor="end">10<tspan font-size="5.20" dy="-3.20">3</tspan></text>
<line x1="326.90" y1="710.60" x2="412.80" y2="710.60" stroke="#1a1a1a" stroke-width="1.1"/>
<line x1="335.50" y1="710.60" x2="335.50" y2="713.00" stroke="#1a1a1a" stroke-width="0.9"/>
<text x="335.50" y="722.00" font-size="8.2" text-anchor="middle">0</text>
<line x1="348.30" y1="710.60" x2="348.30" y2="713.00" stroke="#1a1a1a" stroke-width="0.9"/>
<text x="348.30" y="722.00" font-size="8.2" text-anchor="middle">5</text>
<line x1="361.10" y1="710.60" x2="361.10" y2="713.00" stroke="#1a1a1a" stroke-width="0.9"/>
<text x="361.10" y="722.00" font-size="8.2" text-anchor="middle">10</text>
<line x1="373.90" y1="710.60" x2="373.90" y2="713.00" stroke="#1a1a1a" stroke-width="0.9"/>
<text x="373.90" y="722.00" font-size="8.2" text-anchor="middle">15</text>
<line x1="386.70" y1="710.60" x2="386.70" y2="713.00" stroke="#1a1a1a" stroke-width="0.9"/>
<text x="386.70" y="722.00" font-size="8.2" text-anchor="middle">20</text>
<line x1="399.50" y1="710.60" x2="399.50" y2="713.00" stroke="#1a1a1a" stroke-width="0.9"/>
<text x="399.50" y="722.00" font-size="8.2" text-anchor="middle">25</text>
<line x1="412.30" y1="710.60" x2="412.30" y2="713.00" stroke="#1a1a1a" stroke-width="0.9"/>
<text x="412.30" y="722.00" font-size="8.2" text-anchor="middle">30</text>
<polyline points="335.50,695.34 348.30,686.95 355.98,680.84 366.22,667.41 373.90,660.39 391.82,644.68 402.06,636.28" fill="none" stroke="#c8c818" stroke-width="0.8"/>
<rect x="334.20" y="694.04" width="2.60" height="2.60" fill="#c8c818"/>
<rect x="347.00" y="685.65" width="2.60" height="2.60" fill="#c8c818"/>
<rect x="354.68" y="679.54" width="2.60" height="2.60" fill="#c8c818"/>
<rect x="364.92" y="666.11" width="2.60" height="2.60" fill="#c8c818"/>
<rect x="372.60" y="659.09" width="2.60" height="2.60" fill="#c8c818"/>
<rect x="390.52" y="643.38" width="2.60" height="2.60" fill="#c8c818"/>
<rect x="400.76" y="634.98" width="2.60" height="2.60" fill="#c8c818"/>
<polyline points="335.50,696.87 348.30,688.47 355.98,686.18 366.22,678.55 373.90,670.92 391.82,656.43 402.06,643.46" fill="none" stroke="#c8c818" stroke-width="0.8"/>
<rect x="334.20" y="695.57" width="2.60" height="2.60" fill="#c8c818"/>
<rect x="347.00" y="687.17" width="2.60" height="2.60" fill="#c8c818"/>
<rect x="354.68" y="684.88" width="2.60" height="2.60" fill="#c8c818"/>
<rect x="364.92" y="677.25" width="2.60" height="2.60" fill="#c8c818"/>
<rect x="372.60" y="669.62" width="2.60" height="2.60" fill="#c8c818"/>
<rect x="390.52" y="655.13" width="2.60" height="2.60" fill="#c8c818"/>
<rect x="400.76" y="642.16" width="2.60" height="2.60" fill="#c8c818"/>
<polyline points="335.50,695.34 348.30,698.39 355.98,687.71 366.22,679.32 373.90,674.74 391.82,656.43 402.06,644.98" fill="none" stroke="#c8c818" stroke-width="0.8"/>
<rect x="334.20" y="694.04" width="2.60" height="2.60" fill="#c8c818"/>
<rect x="347.00" y="697.09" width="2.60" height="2.60" fill="#c8c818"/>
<rect x="354.68" y="686.41" width="2.60" height="2.60" fill="#c8c818"/>
<rect x="364.92" y="678.02" width="2.60" height="2.60" fill="#c8c818"/>
<rect x="372.60" y="673.44" width="2.60" height="2.60" fill="#c8c818"/>
<rect x="390.52" y="655.13" width="2.60" height="2.60" fill="#c8c818"/>
<rect x="400.76" y="643.68" width="2.60" height="2.60" fill="#c8c818"/>
<polyline points="335.50,697.63 348.30,695.34 355.98,691.52 366.22,683.89 373.90,677.03 391.82,660.24 402.06,644.22" fill="none" stroke="#c8c818" stroke-width="0.8"/>
<rect x="334.20" y="696.33" width="2.60" height="2.60" fill="#c8c818"/>
<rect x="347.00" y="694.04" width="2.60" height="2.60" fill="#c8c818"/>
<rect x="354.68" y="690.23" width="2.60" height="2.60" fill="#c8c818"/>
<rect x="364.92" y="682.60" width="2.60" height="2.60" fill="#c8c818"/>
<rect x="372.60" y="675.73" width="2.60" height="2.60" fill="#c8c818"/>
<rect x="390.52" y="658.94" width="2.60" height="2.60" fill="#c8c818"/>
<rect x="400.76" y="642.92" width="2.60" height="2.60" fill="#c8c818"/>
<polyline points="335.50,694.58 348.30,689.24 355.98,689.24 366.22,683.13 373.90,675.50 391.82,657.95 402.06,653.38" fill="none" stroke="#c8c818" stroke-width="0.8"/>
<rect x="334.20" y="693.28" width="2.60" height="2.60" fill="#c8c818"/>
<rect x="347.00" y="687.94" width="2.60" height="2.60" fill="#c8c818"/>
<rect x="354.68" y="687.94" width="2.60" height="2.60" fill="#c8c818"/>
<rect x="364.92" y="681.83" width="2.60" height="2.60" fill="#c8c818"/>
<rect x="372.60" y="674.20" width="2.60" height="2.60" fill="#c8c818"/>
<rect x="390.52" y="656.65" width="2.60" height="2.60" fill="#c8c818"/>
<rect x="400.76" y="652.08" width="2.60" height="2.60" fill="#c8c818"/>
<text x="484.60" y="621.90" font-size="10.5" text-anchor="middle">TCR.ΔSSR.mbIL15</text>
<line x1="486.50" y1="629.50" x2="486.50" y2="710.60" stroke="#555" stroke-width="0.9" stroke-dasharray="1,1.2"/>
<line x1="439.90" y1="629.20" x2="439.90" y2="711.20" stroke="#1a1a1a" stroke-width="1.3"/>
<line x1="437.30" y1="634.30" x2="439.90" y2="634.30" stroke="#1a1a1a" stroke-width="1.0"/>
<line x1="438.40" y1="629.71" x2="439.90" y2="629.71" stroke="#1a1a1a" stroke-width="0.55"/>
<text x="436.30" y="637.30" font-size="8.2" text-anchor="end">10<tspan font-size="5.20" dy="-3.20">8</tspan></text>
<line x1="437.30" y1="649.56" x2="439.90" y2="649.56" stroke="#1a1a1a" stroke-width="1.0"/>
<line x1="438.40" y1="644.97" x2="439.90" y2="644.97" stroke="#1a1a1a" stroke-width="0.55"/>
<line x1="438.40" y1="642.28" x2="439.90" y2="642.28" stroke="#1a1a1a" stroke-width="0.55"/>
<line x1="438.40" y1="640.37" x2="439.90" y2="640.37" stroke="#1a1a1a" stroke-width="0.55"/>
<line x1="438.40" y1="638.89" x2="439.90" y2="638.89" stroke="#1a1a1a" stroke-width="0.55"/>
<line x1="438.40" y1="637.69" x2="439.90" y2="637.69" stroke="#1a1a1a" stroke-width="0.55"/>
<line x1="438.40" y1="636.66" x2="439.90" y2="636.66" stroke="#1a1a1a" stroke-width="0.55"/>
<line x1="438.40" y1="635.78" x2="439.90" y2="635.78" stroke="#1a1a1a" stroke-width="0.55"/>
<line x1="438.40" y1="635.00" x2="439.90" y2="635.00" stroke="#1a1a1a" stroke-width="0.55"/>
<text x="436.30" y="652.56" font-size="8.2" text-anchor="end">10<tspan font-size="5.20" dy="-3.20">7</tspan></text>
<line x1="437.30" y1="664.82" x2="439.90" y2="664.82" stroke="#1a1a1a" stroke-width="1.0"/>
<line x1="438.40" y1="660.23" x2="439.90" y2="660.23" stroke="#1a1a1a" stroke-width="0.55"/>
<line x1="438.40" y1="657.54" x2="439.90" y2="657.54" stroke="#1a1a1a" stroke-width="0.55"/>
<line x1="438.40" y1="655.63" x2="439.90" y2="655.63" stroke="#1a1a1a" stroke-width="0.55"/>
<line x1="438.40" y1="654.15" x2="439.90" y2="654.15" stroke="#1a1a1a" stroke-width="0.55"/>
<line x1="438.40" y1="652.95" x2="439.90" y2="652.95" stroke="#1a1a1a" stroke-width="0.55"/>
<line x1="438.40" y1="651.92" x2="439.90" y2="651.92" stroke="#1a1a1a" stroke-width="0.55"/>
<line x1="438.40" y1="651.04" x2="439.90" y2="651.04" stroke="#1a1a1a" stroke-width="0.55"/>
<line x1="438.40" y1="650.26" x2="439.90" y2="650.26" stroke="#1a1a1a" stroke-width="0.55"/>
<text x="436.30" y="667.82" font-size="8.2" text-anchor="end">10<tspan font-size="5.20" dy="-3.20">6</tspan></text>
<line x1="437.30" y1="680.08" x2="439.90" y2="680.08" stroke="#1a1a1a" stroke-width="1.0"/>
<line x1="438.40" y1="675.49" x2="439.90" y2="675.49" stroke="#1a1a1a" stroke-width="0.55"/>
<line x1="438.40" y1="672.80" x2="439.90" y2="672.80" stroke="#1a1a1a" stroke-width="0.55"/>
<line x1="438.40" y1="670.89" x2="439.90" y2="670.89" stroke="#1a1a1a" stroke-width="0.55"/>
<line x1="438.40" y1="669.41" x2="439.90" y2="669.41" stroke="#1a1a1a" stroke-width="0.55"/>
<line x1="438.40" y1="668.21" x2="439.90" y2="668.21" stroke="#1a1a1a" stroke-width="0.55"/>
<line x1="438.40" y1="667.18" x2="439.90" y2="667.18" stroke="#1a1a1a" stroke-width="0.55"/>
<line x1="438.40" y1="666.30" x2="439.90" y2="666.30" stroke="#1a1a1a" stroke-width="0.55"/>
<line x1="438.40" y1="665.52" x2="439.90" y2="665.52" stroke="#1a1a1a" stroke-width="0.55"/>
<text x="436.30" y="683.08" font-size="8.2" text-anchor="end">10<tspan font-size="5.20" dy="-3.20">5</tspan></text>
<line x1="437.30" y1="695.34" x2="439.90" y2="695.34" stroke="#1a1a1a" stroke-width="1.0"/>
<line x1="438.40" y1="690.75" x2="439.90" y2="690.75" stroke="#1a1a1a" stroke-width="0.55"/>
<line x1="438.40" y1="688.06" x2="439.90" y2="688.06" stroke="#1a1a1a" stroke-width="0.55"/>
<line x1="438.40" y1="686.15" x2="439.90" y2="686.15" stroke="#1a1a1a" stroke-width="0.55"/>
<line x1="438.40" y1="684.67" x2="439.90" y2="684.67" stroke="#1a1a1a" stroke-width="0.55"/>
<line x1="438.40" y1="683.47" x2="439.90" y2="683.47" stroke="#1a1a1a" stroke-width="0.55"/>
<line x1="438.40" y1="682.44" x2="439.90" y2="682.44" stroke="#1a1a1a" stroke-width="0.55"/>
<line x1="438.40" y1="681.56" x2="439.90" y2="681.56" stroke="#1a1a1a" stroke-width="0.55"/>
<line x1="438.40" y1="680.78" x2="439.90" y2="680.78" stroke="#1a1a1a" stroke-width="0.55"/>
<text x="436.30" y="698.34" font-size="8.2" text-anchor="end">10<tspan font-size="5.20" dy="-3.20">4</tspan></text>
<line x1="437.30" y1="710.60" x2="439.90" y2="710.60" stroke="#1a1a1a" stroke-width="1.0"/>
<line x1="438.40" y1="706.01" x2="439.90" y2="706.01" stroke="#1a1a1a" stroke-width="0.55"/>
<line x1="438.40" y1="703.32" x2="439.90" y2="703.32" stroke="#1a1a1a" stroke-width="0.55"/>
<line x1="438.40" y1="701.41" x2="439.90" y2="701.41" stroke="#1a1a1a" stroke-width="0.55"/>
<line x1="438.40" y1="699.93" x2="439.90" y2="699.93" stroke="#1a1a1a" stroke-width="0.55"/>
<line x1="438.40" y1="698.73" x2="439.90" y2="698.73" stroke="#1a1a1a" stroke-width="0.55"/>
<line x1="438.40" y1="697.70" x2="439.90" y2="697.70" stroke="#1a1a1a" stroke-width="0.55"/>
<line x1="438.40" y1="696.82" x2="439.90" y2="696.82" stroke="#1a1a1a" stroke-width="0.55"/>
<line x1="438.40" y1="696.04" x2="439.90" y2="696.04" stroke="#1a1a1a" stroke-width="0.55"/>
<text x="436.30" y="713.60" font-size="8.2" text-anchor="end">10<tspan font-size="5.20" dy="-3.20">3</tspan></text>
<line x1="439.30" y1="710.60" x2="525.20" y2="710.60" stroke="#1a1a1a" stroke-width="1.1"/>
<line x1="447.90" y1="710.60" x2="447.90" y2="713.00" stroke="#1a1a1a" stroke-width="0.9"/>
<text x="447.90" y="722.00" font-size="8.2" text-anchor="middle">0</text>
<line x1="460.70" y1="710.60" x2="460.70" y2="713.00" stroke="#1a1a1a" stroke-width="0.9"/>
<text x="460.70" y="722.00" font-size="8.2" text-anchor="middle">5</text>
<line x1="473.50" y1="710.60" x2="473.50" y2="713.00" stroke="#1a1a1a" stroke-width="0.9"/>
<text x="473.50" y="722.00" font-size="8.2" text-anchor="middle">10</text>
<line x1="486.30" y1="710.60" x2="486.30" y2="713.00" stroke="#1a1a1a" stroke-width="0.9"/>
<text x="486.30" y="722.00" font-size="8.2" text-anchor="middle">15</text>
<line x1="499.10" y1="710.60" x2="499.10" y2="713.00" stroke="#1a1a1a" stroke-width="0.9"/>
<text x="499.10" y="722.00" font-size="8.2" text-anchor="middle">20</text>
<line x1="511.90" y1="710.60" x2="511.90" y2="713.00" stroke="#1a1a1a" stroke-width="0.9"/>
<text x="511.90" y="722.00" font-size="8.2" text-anchor="middle">25</text>
<line x1="524.70" y1="710.60" x2="524.70" y2="713.00" stroke="#1a1a1a" stroke-width="0.9"/>
<text x="524.70" y="722.00" font-size="8.2" text-anchor="middle">30</text>
<polyline points="447.90,690.30 460.70,692.75 468.38,686.18 478.62,675.35 486.30,665.13 504.22,645.13 514.46,637.05" fill="none" stroke="#ff1010" stroke-width="0.8"/>
<polygon points="447.90,688.74 446.50,691.56 449.30,691.56" fill="#ff1010"/>
<polygon points="460.70,691.19 459.30,694.01 462.10,694.01" fill="#ff1010"/>
<polygon points="468.38,684.62 466.98,687.44 469.78,687.44" fill="#ff1010"/>
<polygon points="478.62,673.79 477.22,676.61 480.02,676.61" fill="#ff1010"/>
<polygon points="486.30,663.57 484.90,666.39 487.70,666.39" fill="#ff1010"/>
<polygon points="504.22,643.57 502.82,646.39 505.62,646.39" fill="#ff1010"/>
<polygon points="514.46,635.49 513.06,638.31 515.86,638.31" fill="#ff1010"/>
<polyline points="447.90,694.58 460.70,693.81 468.38,687.86 478.62,681.00 486.30,669.40 504.22,648.95 514.46,641.93" fill="none" stroke="#ff1010" stroke-width="0.8"/>
<polygon points="447.90,693.02 446.50,695.84 449.30,695.84" fill="#ff1010"/>
<polygon points="460.70,692.25 459.30,695.07 462.10,695.07" fill="#ff1010"/>
<polygon points="468.38,686.30 466.98,689.12 469.78,689.12" fill="#ff1010"/>
<polygon points="478.62,679.44 477.22,682.26 480.02,682.26" fill="#ff1010"/>
<polygon points="486.30,667.84 484.90,670.66 487.70,670.66" fill="#ff1010"/>
<polygon points="504.22,647.39 502.82,650.21 505.62,650.21" fill="#ff1010"/>
<polygon points="514.46,640.37 513.06,643.19 515.86,643.19" fill="#ff1010"/>
<polyline points="447.90,695.80 460.70,682.22 468.38,693.20 478.62,685.12 486.30,676.42 504.22,657.19 514.46,655.66" fill="none" stroke="#ff1010" stroke-width="0.8"/>
<polygon points="447.90,694.24 446.50,697.06 449.30,697.06" fill="#ff1010"/>
<polygon points="460.70,680.66 459.30,683.48 462.10,683.48" fill="#ff1010"/>
<polygon points="468.38,691.64 466.98,694.46 469.78,694.46" fill="#ff1010"/>
<polygon points="478.62,683.56 477.22,686.38 480.02,686.38" fill="#ff1010"/>
<polygon points="486.30,674.86 484.90,677.68 487.70,677.68" fill="#ff1010"/>
<polygon points="504.22,655.63 502.82,658.45 505.62,658.45" fill="#ff1010"/>
<polygon points="514.46,654.10 513.06,656.92 515.86,656.92" fill="#ff1010"/>
<polyline points="447.90,697.32 460.70,696.41 468.38,690.00 478.62,686.49 486.30,682.52 504.22,661.00 514.46,659.02" fill="none" stroke="#ff1010" stroke-width="0.8"/>
<polygon points="447.90,695.76 446.50,698.58 449.30,698.58" fill="#ff1010"/>
<polygon points="460.70,694.85 459.30,697.67 462.10,697.67" fill="#ff1010"/>
<polygon points="468.38,688.44 466.98,691.26 469.78,691.26" fill="#ff1010"/>
<polygon points="478.62,684.93 477.22,687.75 480.02,687.75" fill="#ff1010"/>
<polygon points="486.30,680.96 484.90,683.78 487.70,683.78" fill="#ff1010"/>
<polygon points="504.22,659.45 502.82,662.26 505.62,662.26" fill="#ff1010"/>
<polygon points="514.46,657.46 513.06,660.28 515.86,660.28" fill="#ff1010"/>
<polyline points="447.90,695.34 460.70,700.83 468.38,695.80 478.62,685.12 486.30,690.30 504.22,664.21 514.46,659.02" fill="none" stroke="#ff1010" stroke-width="0.8"/>
<polygon points="447.90,693.78 446.50,696.60 449.30,696.60" fill="#ff1010"/>
<polygon points="460.70,699.27 459.30,702.09 462.10,702.09" fill="#ff1010"/>
<polygon points="468.38,694.24 466.98,697.06 469.78,697.06" fill="#ff1010"/>
<polygon points="478.62,683.56 477.22,686.38 480.02,686.38" fill="#ff1010"/>
<polygon points="486.30,688.74 484.90,691.56 487.70,691.56" fill="#ff1010"/>
<polygon points="504.22,662.65 502.82,665.47 505.62,665.47" fill="#ff1010"/>
<polygon points="514.46,657.46 513.06,660.28 515.86,660.28" fill="#ff1010"/>
<text x="600.00" y="621.90" font-size="10.5" text-anchor="middle">TCR.SSR.mbIL15</text>
<line x1="601.50" y1="629.50" x2="601.50" y2="710.60" stroke="#555" stroke-width="0.9" stroke-dasharray="1,1.2"/>
<line x1="554.90" y1="629.20" x2="554.90" y2="711.20" stroke="#1a1a1a" stroke-width="1.3"/>
<line x1="552.30" y1="634.30" x2="554.90" y2="634.30" stroke="#1a1a1a" stroke-width="1.0"/>
<line x1="553.40" y1="629.71" x2="554.90" y2="629.71" stroke="#1a1a1a" stroke-width="0.55"/>
<text x="551.30" y="637.30" font-size="8.2" text-anchor="end">10<tspan font-size="5.20" dy="-3.20">8</tspan></text>
<line x1="552.30" y1="649.56" x2="554.90" y2="649.56" stroke="#1a1a1a" stroke-width="1.0"/>
<line x1="553.40" y1="644.97" x2="554.90" y2="644.97" stroke="#1a1a1a" stroke-width="0.55"/>
<line x1="553.40" y1="642.28" x2="554.90" y2="642.28" stroke="#1a1a1a" stroke-width="0.55"/>
<line x1="553.40" y1="640.37" x2="554.90" y2="640.37" stroke="#1a1a1a" stroke-width="0.55"/>
<line x1="553.40" y1="638.89" x2="554.90" y2="638.89" stroke="#1a1a1a" stroke-width="0.55"/>
<line x1="553.40" y1="637.69" x2="554.90" y2="637.69" stroke="#1a1a1a" stroke-width="0.55"/>
<line x1="553.40" y1="636.66" x2="554.90" y2="636.66" stroke="#1a1a1a" stroke-width="0.55"/>
<line x1="553.40" y1="635.78" x2="554.90" y2="635.78" stroke="#1a1a1a" stroke-width="0.55"/>
<line x1="553.40" y1="635.00" x2="554.90" y2="635.00" stroke="#1a1a1a" stroke-width="0.55"/>
<text x="551.30" y="652.56" font-size="8.2" text-anchor="end">10<tspan font-size="5.20" dy="-3.20">7</tspan></text>
<line x1="552.30" y1="664.82" x2="554.90" y2="664.82" stroke="#1a1a1a" stroke-width="1.0"/>
<line x1="553.40" y1="660.23" x2="554.90" y2="660.23" stroke="#1a1a1a" stroke-width="0.55"/>
<line x1="553.40" y1="657.54" x2="554.90" y2="657.54" stroke="#1a1a1a" stroke-width="0.55"/>
<line x1="553.40" y1="655.63" x2="554.90" y2="655.63" stroke="#1a1a1a" stroke-width="0.55"/>
<line x1="553.40" y1="654.15" x2="554.90" y2="654.15" stroke="#1a1a1a" stroke-width="0.55"/>
<line x1="553.40" y1="652.95" x2="554.90" y2="652.95" stroke="#1a1a1a" stroke-width="0.55"/>
<line x1="553.40" y1="651.92" x2="554.90" y2="651.92" stroke="#1a1a1a" stroke-width="0.55"/>
<line x1="553.40" y1="651.04" x2="554.90" y2="651.04" stroke="#1a1a1a" stroke-width="0.55"/>
<line x1="553.40" y1="650.26" x2="554.90" y2="650.26" stroke="#1a1a1a" stroke-width="0.55"/>
<text x="551.30" y="667.82" font-size="8.2" text-anchor="end">10<tspan font-size="5.20" dy="-3.20">6</tspan></text>
<line x1="552.30" y1="680.08" x2="554.90" y2="680.08" stroke="#1a1a1a" stroke-width="1.0"/>
<line x1="553.40" y1="675.49" x2="554.90" y2="675.49" stroke="#1a1a1a" stroke-width="0.55"/>
<line x1="553.40" y1="672.80" x2="554.90" y2="672.80" stroke="#1a1a1a" stroke-width="0.55"/>
<line x1="553.40" y1="670.89" x2="554.90" y2="670.89" stroke="#1a1a1a" stroke-width="0.55"/>
<line x1="553.40" y1="669.41" x2="554.90" y2="669.41" stroke="#1a1a1a" stroke-width="0.55"/>
<line x1="553.40" y1="668.21" x2="554.90" y2="668.21" stroke="#1a1a1a" stroke-width="0.55"/>
<line x1="553.40" y1="667.18" x2="554.90" y2="667.18" stroke="#1a1a1a" stroke-width="0.55"/>
<line x1="553.40" y1="666.30" x2="554.90" y2="666.30" stroke="#1a1a1a" stroke-width="0.55"/>
<line x1="553.40" y1="665.52" x2="554.90" y2="665.52" stroke="#1a1a1a" stroke-width="0.55"/>
<text x="551.30" y="683.08" font-size="8.2" text-anchor="end">10<tspan font-size="5.20" dy="-3.20">5</tspan></text>
<line x1="552.30" y1="695.34" x2="554.90" y2="695.34" stroke="#1a1a1a" stroke-width="1.0"/>
<line x1="553.40" y1="690.75" x2="554.90" y2="690.75" stroke="#1a1a1a" stroke-width="0.55"/>
<line x1="553.40" y1="688.06" x2="554.90" y2="688.06" stroke="#1a1a1a" stroke-width="0.55"/>
<line x1="553.40" y1="686.15" x2="554.90" y2="686.15" stroke="#1a1a1a" stroke-width="0.55"/>
<line x1="553.40" y1="684.67" x2="554.90" y2="684.67" stroke="#1a1a1a" stroke-width="0.55"/>
<line x1="553.40" y1="683.47" x2="554.90" y2="683.47" stroke="#1a1a1a" stroke-width="0.55"/>
<line x1="553.40" y1="682.44" x2="554.90" y2="682.44" stroke="#1a1a1a" stroke-width="0.55"/>
<line x1="553.40" y1="681.56" x2="554.90" y2="681.56" stroke="#1a1a1a" stroke-width="0.55"/>
<line x1="553.40" y1="680.78" x2="554.90" y2="680.78" stroke="#1a1a1a" stroke-width="0.55"/>
<text x="551.30" y="698.34" font-size="8.2" text-anchor="end">10<tspan font-size="5.20" dy="-3.20">4</tspan></text>
<line x1="552.30" y1="710.60" x2="554.90" y2="710.60" stroke="#1a1a1a" stroke-width="1.0"/>
<line x1="553.40" y1="706.01" x2="554.90" y2="706.01" stroke="#1a1a1a" stroke-width="0.55"/>
<line x1="553.40" y1="703.32" x2="554.90" y2="703.32" stroke="#1a1a1a" stroke-width="0.55"/>
<line x1="553.40" y1="701.41" x2="554.90" y2="701.41" stroke="#1a1a1a" stroke-width="0.55"/>
<line x1="553.40" y1="699.93" x2="554.90" y2="699.93" stroke="#1a1a1a" stroke-width="0.55"/>
<line x1="553.40" y1="698.73" x2="554.90" y2="698.73" stroke="#1a1a1a" stroke-width="0.55"/>
<line x1="553.40" y1="697.70" x2="554.90" y2="697.70" stroke="#1a1a1a" stroke-width="0.55"/>
<line x1="553.40" y1="696.82" x2="554.90" y2="696.82" stroke="#1a1a1a" stroke-width="0.55"/>
<line x1="553.40" y1="696.04" x2="554.90" y2="696.04" stroke="#1a1a1a" stroke-width="0.55"/>
<text x="551.30" y="713.60" font-size="8.2" text-anchor="end">10<tspan font-size="5.20" dy="-3.20">3</tspan></text>
<line x1="554.30" y1="710.60" x2="640.20" y2="710.60" stroke="#1a1a1a" stroke-width="1.1"/>
<line x1="562.90" y1="710.60" x2="562.90" y2="713.00" stroke="#1a1a1a" stroke-width="0.9"/>
<text x="562.90" y="722.00" font-size="8.2" text-anchor="middle">0</text>
<line x1="575.70" y1="710.60" x2="575.70" y2="713.00" stroke="#1a1a1a" stroke-width="0.9"/>
<text x="575.70" y="722.00" font-size="8.2" text-anchor="middle">5</text>
<line x1="588.50" y1="710.60" x2="588.50" y2="713.00" stroke="#1a1a1a" stroke-width="0.9"/>
<text x="588.50" y="722.00" font-size="8.2" text-anchor="middle">10</text>
<line x1="601.30" y1="710.60" x2="601.30" y2="713.00" stroke="#1a1a1a" stroke-width="0.9"/>
<text x="601.30" y="722.00" font-size="8.2" text-anchor="middle">15</text>
<line x1="614.10" y1="710.60" x2="614.10" y2="713.00" stroke="#1a1a1a" stroke-width="0.9"/>
<text x="614.10" y="722.00" font-size="8.2" text-anchor="middle">20</text>
<line x1="626.90" y1="710.60" x2="626.90" y2="713.00" stroke="#1a1a1a" stroke-width="0.9"/>
<text x="626.90" y="722.00" font-size="8.2" text-anchor="middle">25</text>
<line x1="639.70" y1="710.60" x2="639.70" y2="713.00" stroke="#1a1a1a" stroke-width="0.9"/>
<text x="639.70" y="722.00" font-size="8.2" text-anchor="middle">30</text>
<polyline points="562.90,693.05 575.70,699.15 583.38,693.05 593.62,683.89 601.30,681.30 619.22,664.06 629.46,651.24" fill="none" stroke="#9c6628" stroke-width="0.8"/>
<rect x="561.60" y="691.75" width="2.60" height="2.60" fill="#9c6628"/>
<rect x="574.40" y="697.86" width="2.60" height="2.60" fill="#9c6628"/>
<rect x="582.08" y="691.75" width="2.60" height="2.60" fill="#9c6628"/>
<rect x="592.32" y="682.60" width="2.60" height="2.60" fill="#9c6628"/>
<rect x="600.00" y="680.00" width="2.60" height="2.60" fill="#9c6628"/>
<rect x="617.92" y="662.76" width="2.60" height="2.60" fill="#9c6628"/>
<rect x="628.16" y="649.94" width="2.60" height="2.60" fill="#9c6628"/>
<polyline points="562.90,694.58 575.70,699.92 583.38,694.58 593.62,687.71 601.30,681.91 619.22,665.58 629.46,655.66" fill="none" stroke="#9c6628" stroke-width="0.8"/>
<rect x="561.60" y="693.28" width="2.60" height="2.60" fill="#9c6628"/>
<rect x="574.40" y="698.62" width="2.60" height="2.60" fill="#9c6628"/>
<rect x="582.08" y="693.28" width="2.60" height="2.60" fill="#9c6628"/>
<rect x="592.32" y="686.41" width="2.60" height="2.60" fill="#9c6628"/>
<rect x="600.00" y="680.61" width="2.60" height="2.60" fill="#9c6628"/>
<rect x="617.92" y="664.28" width="2.60" height="2.60" fill="#9c6628"/>
<rect x="628.16" y="654.36" width="2.60" height="2.60" fill="#9c6628"/>
<polyline points="562.90,696.10 575.70,701.44 583.38,696.10 593.62,689.24 601.30,682.37 619.22,667.11 629.46,656.58" fill="none" stroke="#9c6628" stroke-width="0.8"/>
<rect x="561.60" y="694.80" width="2.60" height="2.60" fill="#9c6628"/>
<rect x="574.40" y="700.14" width="2.60" height="2.60" fill="#9c6628"/>
<rect x="582.08" y="694.80" width="2.60" height="2.60" fill="#9c6628"/>
<rect x="592.32" y="687.94" width="2.60" height="2.60" fill="#9c6628"/>
<rect x="600.00" y="681.07" width="2.60" height="2.60" fill="#9c6628"/>
<rect x="617.92" y="665.81" width="2.60" height="2.60" fill="#9c6628"/>
<rect x="628.16" y="655.28" width="2.60" height="2.60" fill="#9c6628"/>
<polyline points="562.90,697.63 575.70,702.21 583.38,696.87 593.62,690.76 601.30,682.83 619.22,677.18 629.46,664.82" fill="none" stroke="#9c6628" stroke-width="0.8"/>
<rect x="561.60" y="696.33" width="2.60" height="2.60" fill="#9c6628"/>
<rect x="574.40" y="700.91" width="2.60" height="2.60" fill="#9c6628"/>
<rect x="582.08" y="695.57" width="2.60" height="2.60" fill="#9c6628"/>
<rect x="592.32" y="689.46" width="2.60" height="2.60" fill="#9c6628"/>
<rect x="600.00" y="681.53" width="2.60" height="2.60" fill="#9c6628"/>
<rect x="617.92" y="675.88" width="2.60" height="2.60" fill="#9c6628"/>
<rect x="628.16" y="663.52" width="2.60" height="2.60" fill="#9c6628"/>
<text x="199.20" y="667.10" font-size="10.64" text-anchor="middle" transform="rotate(-90 199.20 667.10)">BLI (Avg radiance)</text>
<text x="354.10" y="734.30" font-size="10.57" xml:space="preserve">Days post  TCR  T-cell infusion</text>
<text x="3.00" y="753.20" font-size="14.7">J</text>
<text x="108.00" y="765.60" font-size="13.7" text-anchor="middle">Leukemia burden</text>
<text x="107.50" y="781.80" font-size="13.6" text-anchor="middle">(day 26)</text>
<line x1="52.70" y1="799.60" x2="52.70" y2="905.30" stroke="#1a1a1a" stroke-width="1.3"/>
<line x1="49.50" y1="800.40" x2="52.70" y2="800.40" stroke="#1a1a1a" stroke-width="1.1"/>
<line x1="50.90" y1="824.70" x2="52.70" y2="824.70" stroke="#1a1a1a" stroke-width="0.6"/>
<line x1="50.90" y1="818.58" x2="52.70" y2="818.58" stroke="#1a1a1a" stroke-width="0.6"/>
<line x1="50.90" y1="814.24" x2="52.70" y2="814.24" stroke="#1a1a1a" stroke-width="0.6"/>
<line x1="50.90" y1="810.87" x2="52.70" y2="810.87" stroke="#1a1a1a" stroke-width="0.6"/>
<line x1="50.90" y1="808.11" x2="52.70" y2="808.11" stroke="#1a1a1a" stroke-width="0.6"/>
<line x1="50.90" y1="805.79" x2="52.70" y2="805.79" stroke="#1a1a1a" stroke-width="0.6"/>
<line x1="50.90" y1="803.77" x2="52.70" y2="803.77" stroke="#1a1a1a" stroke-width="0.6"/>
<line x1="50.90" y1="801.99" x2="52.70" y2="801.99" stroke="#1a1a1a" stroke-width="0.6"/>
<text x="47.50" y="803.90" font-size="10.2" text-anchor="end">10<tspan font-size="6.60" dy="-4.20">9</tspan></text>
<line x1="49.50" y1="835.17" x2="52.70" y2="835.17" stroke="#1a1a1a" stroke-width="1.1"/>
<line x1="50.90" y1="859.47" x2="52.70" y2="859.47" stroke="#1a1a1a" stroke-width="0.6"/>
<line x1="50.90" y1="853.35" x2="52.70" y2="853.35" stroke="#1a1a1a" stroke-width="0.6"/>
<line x1="50.90" y1="849.01" x2="52.70" y2="849.01" stroke="#1a1a1a" stroke-width="0.6"/>
<line x1="50.90" y1="845.64" x2="52.70" y2="845.64" stroke="#1a1a1a" stroke-width="0.6"/>
<line x1="50.90" y1="842.88" x2="52.70" y2="842.88" stroke="#1a1a1a" stroke-width="0.6"/>
<line x1="50.90" y1="840.56" x2="52.70" y2="840.56" stroke="#1a1a1a" stroke-width="0.6"/>
<line x1="50.90" y1="838.54" x2="52.70" y2="838.54" stroke="#1a1a1a" stroke-width="0.6"/>
<line x1="50.90" y1="836.76" x2="52.70" y2="836.76" stroke="#1a1a1a" stroke-width="0.6"/>
<text x="47.50" y="838.67" font-size="10.2" text-anchor="end">10<tspan font-size="6.60" dy="-4.20">8</tspan></text>
<line x1="49.50" y1="869.94" x2="52.70" y2="869.94" stroke="#1a1a1a" stroke-width="1.1"/>
<line x1="50.90" y1="894.24" x2="52.70" y2="894.24" stroke="#1a1a1a" stroke-width="0.6"/>
<line x1="50.90" y1="888.12" x2="52.70" y2="888.12" stroke="#1a1a1a" stroke-width="0.6"/>
<line x1="50.90" y1="883.78" x2="52.70" y2="883.78" stroke="#1a1a1a" stroke-width="0.6"/>
<line x1="50.90" y1="880.41" x2="52.70" y2="880.41" stroke="#1a1a1a" stroke-width="0.6"/>
<line x1="50.90" y1="877.65" x2="52.70" y2="877.65" stroke="#1a1a1a" stroke-width="0.6"/>
<line x1="50.90" y1="875.33" x2="52.70" y2="875.33" stroke="#1a1a1a" stroke-width="0.6"/>
<line x1="50.90" y1="873.31" x2="52.70" y2="873.31" stroke="#1a1a1a" stroke-width="0.6"/>
<line x1="50.90" y1="871.53" x2="52.70" y2="871.53" stroke="#1a1a1a" stroke-width="0.6"/>
<text x="47.50" y="873.44" font-size="10.2" text-anchor="end">10<tspan font-size="6.60" dy="-4.20">7</tspan></text>
<line x1="49.50" y1="904.71" x2="52.70" y2="904.71" stroke="#1a1a1a" stroke-width="1.1"/>
<text x="47.50" y="908.21" font-size="10.2" text-anchor="end">10<tspan font-size="6.60" dy="-4.20">6</tspan></text>
<line x1="52.05" y1="904.70" x2="156.00" y2="904.70" stroke="#1a1a1a" stroke-width="1.3"/>
<line x1="69.90" y1="904.70" x2="69.90" y2="908.30" stroke="#1a1a1a" stroke-width="1.04"/>
<line x1="93.90" y1="904.70" x2="93.90" y2="908.30" stroke="#1a1a1a" stroke-width="1.04"/>
<line x1="118.10" y1="904.70" x2="118.10" y2="908.30" stroke="#1a1a1a" stroke-width="1.04"/>
<line x1="142.30" y1="904.70" x2="142.30" y2="908.30" stroke="#1a1a1a" stroke-width="1.04"/>
<rect x="63.15" y="820.95" width="13.50" height="83.75" fill="#ffffff" stroke="#333333" stroke-width="1.7"/>
<rect x="87.05" y="835.55" width="13.70" height="69.15" fill="#ffffff" stroke="#c8c818" stroke-width="1.7"/>
<rect x="111.15" y="838.15" width="14.00" height="66.55" fill="#ffffff" stroke="#ff1010" stroke-width="1.7"/>
<rect x="135.55" y="867.95" width="13.60" height="36.75" fill="#ffffff" stroke="#9c6628" stroke-width="1.7"/>
<circle cx="63.70" cy="811.10" r="2.1849999999999996" fill="#333333"/>
<circle cx="69.80" cy="814.40" r="2.1849999999999996" fill="#333333"/>
<circle cx="76.00" cy="812.60" r="2.1849999999999996" fill="#333333"/>
<circle cx="69.60" cy="844.50" r="2.1849999999999996" fill="#333333"/>
<circle cx="69.60" cy="860.10" r="2.1849999999999996" fill="#333333"/>
<line x1="69.90" y1="826.10" x2="69.90" y2="815.00" stroke="#333333" stroke-width="1.1"/>
<line x1="66.10" y1="815.00" x2="73.70" y2="815.00" stroke="#333333" stroke-width="1.1"/>
<line x1="66.10" y1="826.10" x2="73.70" y2="826.10" stroke="#333333" stroke-width="1.1"/>
<rect x="92.13" y="819.03" width="4.14" height="4.14" fill="#c8c818"/>
<rect x="92.13" y="851.23" width="4.14" height="4.14" fill="#c8c818"/>
<rect x="86.63" y="838.03" width="4.14" height="4.14" fill="#c8c818"/>
<rect x="97.53" y="840.23" width="4.14" height="4.14" fill="#c8c818"/>
<line x1="93.90" y1="844.50" x2="93.90" y2="828.30" stroke="#c8c818" stroke-width="1.1"/>
<line x1="90.10" y1="828.30" x2="97.70" y2="828.30" stroke="#c8c818" stroke-width="1.1"/>
<line x1="90.10" y1="844.50" x2="97.70" y2="844.50" stroke="#c8c818" stroke-width="1.1"/>
<polygon points="118.20,820.93 115.90,825.37 120.50,825.37" fill="#ff1010"/>
<polygon points="118.20,830.73 115.90,835.17 120.50,835.17" fill="#ff1010"/>
<polygon points="118.20,859.63 115.90,864.07 120.50,864.07" fill="#ff1010"/>
<polygon points="118.20,867.53 115.90,871.97 120.50,871.97" fill="#ff1010"/>
<line x1="118.15" y1="848.50" x2="118.15" y2="830.30" stroke="#ff1010" stroke-width="1.1"/>
<line x1="114.35" y1="830.30" x2="121.95" y2="830.30" stroke="#ff1010" stroke-width="1.1"/>
<line x1="114.35" y1="848.50" x2="121.95" y2="848.50" stroke="#ff1010" stroke-width="1.1"/>
<rect x="140.23" y="856.23" width="4.14" height="4.14" fill="#9c6628"/>
<rect x="140.23" y="876.63" width="4.14" height="4.14" fill="#9c6628"/>
<rect x="135.43" y="866.53" width="4.14" height="4.14" fill="#9c6628"/>
<rect x="146.43" y="867.83" width="4.14" height="4.14" fill="#9c6628"/>
<line x1="142.35" y1="872.10" x2="142.35" y2="863.40" stroke="#9c6628" stroke-width="1.1"/>
<line x1="138.55" y1="863.40" x2="146.15" y2="863.40" stroke="#9c6628" stroke-width="1.1"/>
<line x1="138.55" y1="872.10" x2="146.15" y2="872.10" stroke="#9c6628" stroke-width="1.1"/>
<line x1="77.80" y1="801.90" x2="142.20" y2="801.90" stroke="#1a1a1a" stroke-width="2.0"/>
<text x="110.62" y="803.29" font-size="15.625" text-anchor="middle" letter-spacing="1.25">*</text>
<text x="25.40" y="851.00" font-size="11.65" text-anchor="middle" transform="rotate(-90 25.40 851.00)">BLI (AUC)</text>
<circle cx="169.50" cy="806.50" r="2.1849999999999996" fill="#333333"/>
<text x="181.40" y="809.64" font-size="8.72">NT</text>
<rect x="167.43" y="819.13" width="4.14" height="4.14" fill="#c8c818"/>
<text x="181.40" y="824.34" font-size="8.72">TCR.mbIL15</text>
<polygon points="169.50,832.73 167.20,837.17 171.80,837.17" fill="#ff1010"/>
<text x="181.40" y="838.24" font-size="8.72">TCR.ΔSSR.mbIL15</text>
<rect x="167.43" y="847.13" width="4.14" height="4.14" fill="#9c6628"/>
<text x="181.40" y="852.34" font-size="8.72">TCR.SSR.mbIL15</text>
<text x="267.40" y="753.30" font-size="14.7">K</text>
<text x="320.30" y="765.70" font-size="13.4">Overall Survival</text>
<line x1="309.80" y1="768.00" x2="309.80" y2="904.90" stroke="#1a1a1a" stroke-width="2.0"/>
<line x1="306.30" y1="903.90" x2="309.80" y2="903.90" stroke="#1a1a1a" stroke-width="1.4"/>
<text x="304.60" y="907.50" font-size="10.0" text-anchor="end">0</text>
<line x1="306.30" y1="879.44" x2="309.80" y2="879.44" stroke="#1a1a1a" stroke-width="1.4"/>
<text x="304.60" y="883.04" font-size="10.0" text-anchor="end">20</text>
<line x1="306.30" y1="854.98" x2="309.80" y2="854.98" stroke="#1a1a1a" stroke-width="1.4"/>
<text x="304.60" y="858.58" font-size="10.0" text-anchor="end">40</text>
<line x1="306.30" y1="830.52" x2="309.80" y2="830.52" stroke="#1a1a1a" stroke-width="1.4"/>
<text x="304.60" y="834.12" font-size="10.0" text-anchor="end">60</text>
<line x1="306.30" y1="806.06" x2="309.80" y2="806.06" stroke="#1a1a1a" stroke-width="1.4"/>
<text x="304.60" y="809.66" font-size="10.0" text-anchor="end">80</text>
<line x1="306.30" y1="781.60" x2="309.80" y2="781.60" stroke="#1a1a1a" stroke-width="1.4"/>
<text x="304.60" y="785.20" font-size="10.0" text-anchor="end">100</text>
<line x1="308.80" y1="903.90" x2="530.10" y2="903.90" stroke="#1a1a1a" stroke-width="2.0"/>
<line x1="310.20" y1="903.90" x2="310.20" y2="907.40" stroke="#1a1a1a" stroke-width="1.4"/>
<text x="310.20" y="919.30" font-size="10.0" text-anchor="middle">10</text>
<line x1="337.62" y1="903.90" x2="337.62" y2="907.40" stroke="#1a1a1a" stroke-width="1.4"/>
<text x="337.62" y="919.30" font-size="10.0" text-anchor="middle">15</text>
<line x1="365.05" y1="903.90" x2="365.05" y2="907.40" stroke="#1a1a1a" stroke-width="1.4"/>
<text x="365.05" y="919.30" font-size="10.0" text-anchor="middle">20</text>
<line x1="392.48" y1="903.90" x2="392.48" y2="907.40" stroke="#1a1a1a" stroke-width="1.4"/>
<text x="392.48" y="919.30" font-size="10.0" text-anchor="middle">25</text>
<line x1="419.90" y1="903.90" x2="419.90" y2="907.40" stroke="#1a1a1a" stroke-width="1.4"/>
<text x="419.90" y="919.30" font-size="10.0" text-anchor="middle">30</text>
<line x1="447.32" y1="903.90" x2="447.32" y2="907.40" stroke="#1a1a1a" stroke-width="1.4"/>
<text x="447.32" y="919.30" font-size="10.0" text-anchor="middle">35</text>
<line x1="474.75" y1="903.90" x2="474.75" y2="907.40" stroke="#1a1a1a" stroke-width="1.4"/>
<text x="474.75" y="919.30" font-size="10.0" text-anchor="middle">40</text>
<line x1="502.18" y1="903.90" x2="502.18" y2="907.40" stroke="#1a1a1a" stroke-width="1.4"/>
<text x="502.18" y="919.30" font-size="10.0" text-anchor="middle">45</text>
<line x1="529.60" y1="903.90" x2="529.60" y2="907.40" stroke="#1a1a1a" stroke-width="1.4"/>
<text x="529.60" y="919.30" font-size="10.0" text-anchor="middle">50</text>
<text x="361.10" y="934.60" font-size="10.15">Days post TCR-T infusion</text>
<text x="281.60" y="834.70" font-size="11.65" text-anchor="middle" transform="rotate(-90 281.60 834.70)">Percent Survival</text>
<path d="M 392.48 781.60 L 392.48 806.06 L 397.96 806.06 L 397.96 854.98 L 408.93 854.98 L 408.93 879.44 L 436.36 879.44 L 436.36 903.90" fill="none" stroke="#ff1010" stroke-width="1.6"/>
<path d="M 376.02 781.60 L 376.02 806.06 L 397.96 806.06 L 397.96 854.98 L 414.41 854.98 L 414.41 903.90" fill="none" stroke="#c8c818" stroke-width="1.6"/>
<path d="M 310.20 779.40 L 397.96 779.40 L 397.96 809.73 L 480.24 809.73 L 480.24 840.30 L 485.72 840.30 L 485.72 870.88 L 513.14 870.88 L 513.14 902.07" fill="none" stroke="#9c6628" stroke-width="1.6"/>
<path d="M 310.20 781.60 L 408.93 781.60 L 408.93 806.06 L 414.41 806.06 L 414.41 879.44 L 447.32 879.44 L 447.32 903.90" fill="none" stroke="#333333" stroke-width="1.6"/>
<rect x="395.86" y="807.63" width="4.20" height="4.20" fill="#9c6628"/>
<rect x="478.13" y="838.20" width="4.20" height="4.20" fill="#9c6628"/>
<rect x="483.62" y="868.78" width="4.20" height="4.20" fill="#9c6628"/>
<rect x="511.04" y="899.60" width="4.20" height="4.20" fill="#9c6628"/>
<rect x="373.92" y="803.96" width="4.20" height="4.20" fill="#c8c818"/>
<rect x="395.86" y="852.88" width="4.20" height="4.20" fill="#c8c818"/>
<rect x="412.31" y="901.80" width="4.20" height="4.20" fill="#c8c818"/>
<polygon points="392.48,803.78 390.28,808.04 394.68,808.04" fill="#ff1010"/>
<polygon points="408.93,877.16 406.73,881.42 411.13,881.42" fill="#ff1010"/>
<polygon points="436.36,901.62 434.16,905.88 438.56,905.88" fill="#ff1010"/>
<circle cx="408.93" cy="806.06" r="2.2" fill="#333333"/>
<circle cx="414.41" cy="879.44" r="2.2" fill="#333333"/>
<circle cx="447.32" cy="903.90" r="2.2" fill="#333333"/>
<line x1="510.40" y1="782.30" x2="521.80" y2="782.30" stroke="#333333" stroke-width="1.6"/>
<circle cx="516.10" cy="782.30" r="2.1" fill="#333333"/>
<text x="528.70" y="785.30" font-size="8.6">NT</text>
<line x1="510.40" y1="794.90" x2="521.80" y2="794.90" stroke="#c8c818" stroke-width="1.6"/>
<rect x="514.10" y="792.90" width="4.00" height="4.00" fill="#c8c818"/>
<text x="528.70" y="797.90" font-size="8.6">TCR.mbIL15</text>
<line x1="510.40" y1="808.20" x2="521.80" y2="808.20" stroke="#ff1010" stroke-width="1.6"/>
<polygon points="516.10,806.01 514.00,810.09 518.20,810.09" fill="#ff1010"/>
<text x="528.70" y="811.20" font-size="8.6">TCR.ΔSSR.mbIL15</text>
<line x1="510.40" y1="822.20" x2="521.80" y2="822.20" stroke="#9c6628" stroke-width="1.6"/>
<rect x="514.10" y="820.20" width="4.00" height="4.00" fill="#9c6628"/>
<text x="528.70" y="825.20" font-size="8.6">TCR.SSR.mbIL15</text>
<line x1="607.00" y1="802.90" x2="607.00" y2="825.20" stroke="#1a1a1a" stroke-width="1.9"/>
<line x1="617.50" y1="791.00" x2="617.50" y2="825.20" stroke="#1a1a1a" stroke-width="1.9"/>
<text x="611.60" y="819.60" font-size="13.5" text-anchor="middle">*</text>
<text x="622.80" y="813.50" font-size="13.5" text-anchor="middle">*</text>
</svg></body></html>
